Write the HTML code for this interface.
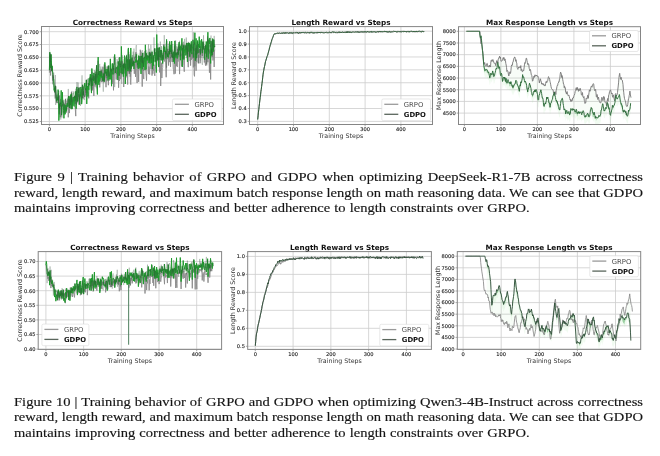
<!DOCTYPE html>
<html><head><meta charset="utf-8"><title>Figures 9 and 10</title>
<style>
html,body{margin:0;padding:0;background:#fff;}
body{width:660px;height:456px;overflow:hidden;position:relative;filter:blur(0.4px);}
svg{position:absolute;left:0;top:0;}
.cl{position:absolute;left:14.4px;font-family:"Liberation Serif",serif;font-size:13.2px;line-height:15px;color:#151515;-webkit-text-stroke:0.15px #111;white-space:nowrap;transform:scaleX(1.103);transform-origin:0 0;}
.j{text-align:justify;text-align-last:justify;white-space:normal;word-spacing:-1.5px;height:15px;}
</style></head><body>
<svg width="660" height="456" viewBox="0 0 660 456" font-family="'DejaVu Sans', sans-serif"><clipPath id="c0"><rect x="41.5" y="26.5" width="182.0" height="98.0"/></clipPath>
<rect x="41.5" y="26.5" width="182.0" height="98.0" fill="#fff"/>
<line x1="41.5" x2="223.5" y1="121.50" y2="121.50" stroke="#cdcdcd" stroke-width="0.8"/>
<line x1="41.5" x2="223.5" y1="108.67" y2="108.67" stroke="#cdcdcd" stroke-width="0.8"/>
<line x1="41.5" x2="223.5" y1="95.84" y2="95.84" stroke="#cdcdcd" stroke-width="0.8"/>
<line x1="41.5" x2="223.5" y1="83.01" y2="83.01" stroke="#cdcdcd" stroke-width="0.8"/>
<line x1="41.5" x2="223.5" y1="70.19" y2="70.19" stroke="#cdcdcd" stroke-width="0.8"/>
<line x1="41.5" x2="223.5" y1="57.36" y2="57.36" stroke="#cdcdcd" stroke-width="0.8"/>
<line x1="41.5" x2="223.5" y1="44.53" y2="44.53" stroke="#cdcdcd" stroke-width="0.8"/>
<line x1="41.5" x2="223.5" y1="31.70" y2="31.70" stroke="#cdcdcd" stroke-width="0.8"/>
<line x1="49.40" x2="49.40" y1="26.5" y2="124.5" stroke="#cdcdcd" stroke-width="0.8"/>
<line x1="85.15" x2="85.15" y1="26.5" y2="124.5" stroke="#cdcdcd" stroke-width="0.8"/>
<line x1="120.90" x2="120.90" y1="26.5" y2="124.5" stroke="#cdcdcd" stroke-width="0.8"/>
<line x1="156.65" x2="156.65" y1="26.5" y2="124.5" stroke="#cdcdcd" stroke-width="0.8"/>
<line x1="192.40" x2="192.40" y1="26.5" y2="124.5" stroke="#cdcdcd" stroke-width="0.8"/>
<g clip-path="url(#c0)"><polygon points="49.40,64.03 49.79,55.56 50.19,49.15 50.58,51.97 50.97,54.79 51.37,57.61 51.76,60.69 52.15,63.99 52.55,67.28 52.94,70.57 53.33,73.86 53.73,77.02 54.12,78.78 54.51,80.54 54.91,82.31 55.30,84.07 55.69,85.84 56.09,87.60 56.48,89.36 56.87,90.39 57.27,91.26 57.66,92.12 58.05,92.99 58.44,93.86 58.84,94.72 59.23,95.59 59.62,96.45 60.02,97.32 60.41,98.18 60.80,99.05 61.20,99.91 61.59,100.78 61.98,101.43 62.38,101.14 62.77,100.85 63.16,100.55 63.56,100.26 63.95,99.97 64.34,99.67 64.74,99.38 65.13,99.09 65.52,98.79 65.92,98.50 66.31,98.21 66.70,97.91 67.10,97.62 67.49,97.32 67.88,97.03 68.28,96.74 68.67,96.44 69.06,96.15 69.46,95.86 69.85,95.56 70.24,95.27 70.64,94.98 71.03,94.67 71.42,94.34 71.82,94.02 72.21,93.70 72.60,93.37 73.00,93.05 73.39,92.72 73.78,92.40 74.17,92.07 74.57,91.75 74.96,91.42 75.35,91.10 75.75,90.77 76.14,90.45 76.53,90.13 76.93,89.80 77.32,89.48 77.71,89.15 78.11,88.83 78.50,88.50 78.89,88.18 79.29,87.85 79.68,87.53 80.07,87.20 80.47,86.88 80.86,86.55 81.25,86.23 81.65,85.91 82.04,85.58 82.43,85.26 82.83,84.93 83.22,84.61 83.61,84.28 84.01,83.96 84.40,83.63 84.79,83.31 85.19,82.97 85.58,82.52 85.97,82.07 86.37,81.62 86.76,81.17 87.15,80.72 87.55,80.26 87.94,79.81 88.33,79.36 88.72,78.91 89.12,78.46 89.51,78.01 89.90,77.55 90.30,77.10 90.69,76.65 91.08,76.20 91.48,75.75 91.87,75.30 92.26,74.85 92.66,74.39 93.05,73.94 93.44,73.49 93.84,73.04 94.23,72.59 94.62,72.14 95.02,71.68 95.41,71.23 95.80,70.78 96.20,70.57 96.59,70.41 96.98,70.24 97.38,70.08 97.77,69.92 98.16,69.76 98.56,69.60 98.95,69.44 99.34,69.28 99.74,69.12 100.13,68.95 100.52,68.79 100.92,68.63 101.31,68.47 101.70,68.31 102.10,68.15 102.49,67.99 102.88,67.83 103.28,67.66 103.67,67.50 104.06,67.34 104.45,67.18 104.85,67.02 105.24,66.86 105.63,66.70 106.03,66.54 106.42,66.37 106.81,66.21 107.21,66.05 107.60,65.89 107.99,65.73 108.39,65.57 108.78,65.40 109.17,65.23 109.57,65.07 109.96,64.90 110.35,64.73 110.75,64.56 111.14,64.40 111.53,64.23 111.93,64.06 112.32,63.89 112.71,63.73 113.11,63.56 113.50,63.39 113.89,63.23 114.29,63.06 114.68,62.89 115.07,62.72 115.47,62.56 115.86,62.39 116.25,62.22 116.65,62.06 117.04,61.89 117.43,61.72 117.83,61.55 118.22,61.38 118.61,61.20 119.01,61.02 119.40,60.84 119.79,60.66 120.19,60.48 120.58,60.30 120.97,60.12 121.36,59.94 121.76,59.76 122.15,59.58 122.54,59.41 122.94,59.23 123.33,59.05 123.72,58.87 124.12,58.69 124.51,58.51 124.90,58.33 125.30,58.15 125.69,57.97 126.08,57.79 126.48,57.61 126.87,57.43 127.26,57.25 127.66,57.07 128.05,56.89 128.44,56.71 128.84,56.53 129.23,56.35 129.62,56.17 130.02,55.99 130.41,55.81 130.80,55.63 131.20,55.45 131.59,55.27 131.98,55.09 132.38,54.92 132.77,54.74 133.16,54.56 133.56,54.38 133.95,54.24 134.34,54.17 134.74,54.09 135.13,54.01 135.52,53.94 135.91,53.86 136.31,53.78 136.70,53.70 137.09,53.63 137.49,53.55 137.88,53.47 138.27,53.40 138.67,53.32 139.06,53.24 139.45,53.17 139.85,53.09 140.24,53.01 140.63,52.93 141.03,52.86 141.42,52.78 141.81,52.70 142.21,52.63 142.60,52.55 142.99,52.47 143.39,52.40 143.78,52.32 144.17,52.24 144.57,52.17 144.96,52.09 145.35,52.01 145.75,51.93 146.14,51.86 146.53,51.78 146.93,51.70 147.32,51.63 147.71,51.55 148.11,51.47 148.50,51.40 148.89,51.32 149.29,51.24 149.68,51.12 150.07,50.95 150.47,50.78 150.86,50.61 151.25,50.45 151.64,50.28 152.04,50.11 152.43,49.94 152.82,49.77 153.22,49.60 153.61,49.43 154.00,49.26 154.40,49.09 154.79,48.92 155.18,48.75 155.58,48.58 155.97,48.41 156.36,48.24 156.76,48.10 157.15,48.03 157.54,47.97 157.94,47.90 158.33,47.83 158.72,47.76 159.12,47.70 159.51,47.63 159.90,47.56 160.30,47.49 160.69,47.42 161.08,47.36 161.48,47.29 161.87,47.22 162.26,47.15 162.66,47.09 163.05,47.02 163.44,46.95 163.84,46.88 164.23,46.82 164.62,46.75 165.02,46.68 165.41,46.61 165.80,46.54 166.20,46.48 166.59,46.41 166.98,46.34 167.38,46.27 167.77,46.21 168.16,46.14 168.55,46.07 168.95,46.00 169.34,45.93 169.73,45.87 170.13,45.80 170.52,45.73 170.91,45.66 171.31,45.60 171.70,45.53 172.09,45.46 172.49,45.39 172.88,45.32 173.27,45.26 173.67,45.19 174.06,45.12 174.45,45.05 174.85,45.00 175.24,44.94 175.63,44.88 176.03,44.83 176.42,44.77 176.81,44.71 177.21,44.66 177.60,44.60 177.99,44.54 178.39,44.49 178.78,44.43 179.17,44.37 179.57,44.32 179.96,44.26 180.35,44.21 180.75,44.15 181.14,44.09 181.53,44.04 181.93,43.98 182.32,43.92 182.71,43.87 183.11,43.81 183.50,43.75 183.89,43.70 184.28,43.64 184.68,43.58 185.07,43.53 185.46,43.47 185.86,43.42 186.25,43.36 186.64,43.30 187.04,43.25 187.43,43.19 187.82,43.13 188.22,43.08 188.61,43.02 189.00,42.96 189.40,42.91 189.79,42.85 190.18,42.79 190.58,42.74 190.97,42.68 191.36,42.62 191.76,42.57 192.15,42.51 192.54,42.46 192.94,42.42 193.33,42.37 193.72,42.33 194.12,42.28 194.51,42.24 194.90,42.20 195.30,42.15 195.69,42.11 196.08,42.06 196.48,42.02 196.87,41.97 197.26,41.93 197.66,41.89 198.05,41.84 198.44,41.80 198.84,41.75 199.23,41.71 199.62,41.67 200.01,41.62 200.41,41.58 200.80,41.53 201.19,41.49 201.59,41.45 201.98,41.40 202.37,41.36 202.77,41.31 203.16,41.27 203.55,41.23 203.95,41.18 204.34,41.14 204.73,41.09 205.13,41.05 205.52,41.00 205.91,40.96 206.31,40.92 206.70,40.87 207.09,40.83 207.49,40.78 207.88,40.74 208.27,40.70 208.67,40.65 209.06,40.61 209.45,40.56 209.85,40.52 210.24,40.48 210.63,40.43 211.03,40.39 211.42,40.34 211.81,40.30 212.21,40.26 212.60,40.21 212.99,40.17 213.39,40.12 213.78,40.08 214.17,40.03 214.57,39.99 214.96,39.95 214.96,52.26 214.57,52.31 214.17,52.35 213.78,52.39 213.39,52.44 212.99,52.48 212.60,52.53 212.21,52.57 211.81,52.61 211.42,52.66 211.03,52.70 210.63,52.75 210.24,52.79 209.85,52.84 209.45,52.88 209.06,52.92 208.67,52.97 208.27,53.01 207.88,53.06 207.49,53.10 207.09,53.14 206.70,53.19 206.31,53.23 205.91,53.28 205.52,53.32 205.13,53.36 204.73,53.41 204.34,53.45 203.95,53.50 203.55,53.54 203.16,53.58 202.77,53.63 202.37,53.67 201.98,53.72 201.59,53.76 201.19,53.81 200.80,53.85 200.41,53.89 200.01,53.94 199.62,53.98 199.23,54.03 198.84,54.07 198.44,54.11 198.05,54.16 197.66,54.20 197.26,54.25 196.87,54.29 196.48,54.33 196.08,54.38 195.69,54.42 195.30,54.47 194.90,54.51 194.51,54.55 194.12,54.60 193.72,54.64 193.33,54.69 192.94,54.73 192.54,54.78 192.15,54.83 191.76,54.88 191.36,54.94 190.97,55.00 190.58,55.05 190.18,55.11 189.79,55.17 189.40,55.22 189.00,55.28 188.61,55.34 188.22,55.39 187.82,55.45 187.43,55.50 187.04,55.56 186.64,55.62 186.25,55.67 185.86,55.73 185.46,55.79 185.07,55.84 184.68,55.90 184.28,55.96 183.89,56.01 183.50,56.07 183.11,56.13 182.71,56.18 182.32,56.24 181.93,56.29 181.53,56.35 181.14,56.41 180.75,56.46 180.35,56.52 179.96,56.58 179.57,56.63 179.17,56.69 178.78,56.75 178.39,56.80 177.99,56.86 177.60,56.92 177.21,56.97 176.81,57.03 176.42,57.09 176.03,57.14 175.63,57.20 175.24,57.25 174.85,57.31 174.45,57.37 174.06,57.44 173.67,57.50 173.27,57.57 172.88,57.64 172.49,57.71 172.09,57.78 171.70,57.84 171.31,57.91 170.91,57.98 170.52,58.05 170.13,58.11 169.73,58.18 169.34,58.25 168.95,58.32 168.55,58.39 168.16,58.45 167.77,58.52 167.38,58.59 166.98,58.66 166.59,58.72 166.20,58.79 165.80,58.86 165.41,58.93 165.02,59.00 164.62,59.06 164.23,59.13 163.84,59.20 163.44,59.27 163.05,59.33 162.66,59.40 162.26,59.47 161.87,59.54 161.48,59.60 161.08,59.67 160.69,59.74 160.30,59.81 159.90,59.88 159.51,59.94 159.12,60.01 158.72,60.08 158.33,60.15 157.94,60.21 157.54,60.28 157.15,60.35 156.76,60.42 156.36,60.56 155.97,60.73 155.58,60.90 155.18,61.07 154.79,61.24 154.40,61.41 154.00,61.58 153.61,61.74 153.22,61.91 152.82,62.08 152.43,62.25 152.04,62.42 151.64,62.59 151.25,62.76 150.86,62.93 150.47,63.10 150.07,63.27 149.68,63.44 149.29,63.56 148.89,63.63 148.50,63.71 148.11,63.79 147.71,63.86 147.32,63.94 146.93,64.02 146.53,64.10 146.14,64.17 145.75,64.25 145.35,64.33 144.96,64.40 144.57,64.48 144.17,64.56 143.78,64.63 143.39,64.71 142.99,64.79 142.60,64.87 142.21,64.94 141.81,65.02 141.42,65.10 141.03,65.17 140.63,65.25 140.24,65.33 139.85,65.40 139.45,65.48 139.06,65.56 138.67,65.64 138.27,65.71 137.88,65.79 137.49,65.87 137.09,65.94 136.70,66.02 136.31,66.10 135.91,66.17 135.52,66.25 135.13,66.33 134.74,66.40 134.34,66.48 133.95,66.56 133.56,66.69 133.16,66.87 132.77,67.05 132.38,67.23 131.98,67.41 131.59,67.59 131.20,67.77 130.80,67.95 130.41,68.13 130.02,68.31 129.62,68.49 129.23,68.67 128.84,68.85 128.44,69.03 128.05,69.21 127.66,69.39 127.26,69.57 126.87,69.74 126.48,69.92 126.08,70.10 125.69,70.28 125.30,70.46 124.90,70.64 124.51,70.82 124.12,71.00 123.72,71.18 123.33,71.36 122.94,71.54 122.54,71.72 122.15,71.90 121.76,72.08 121.36,72.26 120.97,72.44 120.58,72.62 120.19,72.80 119.79,72.98 119.40,73.16 119.01,73.34 118.61,73.52 118.22,73.70 117.83,73.87 117.43,74.04 117.04,74.20 116.65,74.37 116.25,74.54 115.86,74.71 115.47,74.87 115.07,75.04 114.68,75.21 114.29,75.37 113.89,75.54 113.50,75.71 113.11,75.88 112.71,76.04 112.32,76.21 111.93,76.38 111.53,76.54 111.14,76.71 110.75,76.88 110.35,77.05 109.96,77.21 109.57,77.38 109.17,77.55 108.78,77.72 108.39,77.88 107.99,78.04 107.60,78.21 107.21,78.37 106.81,78.53 106.42,78.69 106.03,78.85 105.63,79.01 105.24,79.17 104.85,79.33 104.45,79.50 104.06,79.66 103.67,79.82 103.28,79.98 102.88,80.14 102.49,80.30 102.10,80.46 101.70,80.62 101.31,80.79 100.92,80.95 100.52,81.11 100.13,81.27 99.74,81.43 99.34,81.59 98.95,81.75 98.56,81.91 98.16,82.08 97.77,82.24 97.38,82.40 96.98,82.56 96.59,82.72 96.20,82.88 95.80,83.10 95.41,83.55 95.02,84.00 94.62,84.45 94.23,84.90 93.84,85.35 93.44,85.81 93.05,86.26 92.66,86.71 92.26,87.16 91.87,87.61 91.48,88.06 91.08,88.52 90.69,88.97 90.30,89.42 89.90,89.87 89.51,90.32 89.12,90.77 88.72,91.22 88.33,91.68 87.94,92.13 87.55,92.58 87.15,93.03 86.76,93.48 86.37,93.93 85.97,94.39 85.58,94.84 85.19,95.29 84.79,95.62 84.40,95.95 84.01,96.27 83.61,96.60 83.22,96.92 82.83,97.25 82.43,97.57 82.04,97.90 81.65,98.22 81.25,98.55 80.86,98.87 80.47,99.19 80.07,99.52 79.68,99.84 79.29,100.17 78.89,100.49 78.50,100.82 78.11,101.14 77.71,101.47 77.32,101.79 76.93,102.12 76.53,102.44 76.14,102.77 75.75,103.09 75.35,103.41 74.96,103.74 74.57,104.06 74.17,104.39 73.78,104.71 73.39,105.04 73.00,105.36 72.60,105.69 72.21,106.01 71.82,106.34 71.42,106.66 71.03,106.98 70.64,107.29 70.24,107.59 69.85,107.88 69.46,108.17 69.06,108.47 68.67,108.76 68.28,109.05 67.88,109.35 67.49,109.64 67.10,109.93 66.70,110.23 66.31,110.52 65.92,110.81 65.52,111.11 65.13,111.40 64.74,111.69 64.34,111.99 63.95,112.28 63.56,112.58 63.16,112.87 62.77,113.16 62.38,113.46 61.98,113.75 61.59,113.09 61.20,112.23 60.80,111.36 60.41,110.50 60.02,109.63 59.62,108.77 59.23,107.90 58.84,107.04 58.44,106.17 58.05,105.31 57.66,104.44 57.27,103.57 56.87,102.71 56.48,101.68 56.09,99.92 55.69,98.15 55.30,96.39 54.91,94.62 54.51,92.86 54.12,91.10 53.73,89.33 53.33,86.18 52.94,82.89 52.55,79.59 52.15,76.30 51.76,73.01 51.37,69.93 50.97,67.11 50.58,64.28 50.19,61.46 49.79,67.88 49.40,76.34" fill="#9be59b" fill-opacity="0.3" stroke="none"/><polyline points="49.40,72.75 49.79,54.79 50.19,65.05 50.58,75.47 50.97,54.82 51.37,59.89 51.76,69.21 52.15,67.54 52.55,72.53 52.94,80.75 53.33,76.73 53.73,85.48 54.12,87.39 54.51,92.49 54.91,87.00 55.30,91.06 55.69,90.22 56.09,98.27 56.48,95.22 56.87,103.15 57.27,94.63 57.66,97.78 58.05,98.16 58.44,98.75 58.84,108.42 59.23,99.18 59.62,95.57 60.02,115.66 60.41,117.21 60.80,116.46 61.20,103.32 61.59,106.71 61.98,104.01 62.38,104.98 62.77,106.51 63.16,105.96 63.56,107.94 63.95,103.31 64.34,114.49 64.74,108.96 65.13,104.68 65.52,98.80 65.92,110.67 66.31,112.74 66.70,108.61 67.10,100.63 67.49,105.59 67.88,98.76 68.28,117.31 68.67,98.89 69.06,98.94 69.46,113.08 69.85,101.56 70.24,97.41 70.64,101.22 71.03,97.60 71.42,92.26 71.82,99.61 72.21,102.42 72.60,105.84 73.00,97.28 73.39,100.84 73.78,100.39 74.17,99.51 74.57,95.99 74.96,106.24 75.35,109.49 75.75,116.13 76.14,92.68 76.53,96.53 76.93,90.88 77.32,96.24 77.71,101.58 78.11,93.75 78.50,95.81 78.89,104.62 79.29,101.45 79.68,87.66 80.07,92.62 80.47,92.07 80.86,95.47 81.25,98.38 81.65,89.33 82.04,93.18 82.43,97.99 82.83,92.78 83.22,98.52 83.61,90.38 84.01,86.50 84.40,97.05 84.79,84.72 85.19,95.09 85.58,88.79 85.97,95.55 86.37,90.25 86.76,87.86 87.15,91.05 87.55,92.74 87.94,92.10 88.33,92.81 88.72,98.35 89.12,87.48 89.51,83.39 89.90,80.98 90.30,81.55 90.69,74.10 91.08,81.92 91.48,86.38 91.87,75.01 92.26,90.27 92.66,77.62 93.05,88.65 93.44,79.11 93.84,95.99 94.23,76.09 94.62,80.44 95.02,86.58 95.41,71.70 95.80,74.83 96.20,77.44 96.59,83.55 96.98,77.67 97.38,78.50 97.77,74.15 98.16,73.70 98.56,82.18 98.95,81.06 99.34,80.77 99.74,87.35 100.13,80.96 100.52,76.69 100.92,73.03 101.31,70.36 101.70,82.16 102.10,73.11 102.49,78.85 102.88,66.70 103.28,75.27 103.67,72.72 104.06,82.45 104.45,81.28 104.85,73.53 105.24,77.46 105.63,72.64 106.03,87.21 106.42,71.11 106.81,81.37 107.21,66.47 107.60,75.91 107.99,68.76 108.39,85.20 108.78,71.25 109.17,80.60 109.57,76.99 109.96,72.52 110.35,75.26 110.75,71.24 111.14,69.05 111.53,69.31 111.93,72.72 112.32,83.88 112.71,78.81 113.11,73.28 113.50,90.33 113.89,68.02 114.29,73.27 114.68,73.25 115.07,66.74 115.47,67.81 115.86,69.61 116.25,79.54 116.65,68.94 117.04,68.65 117.43,78.13 117.83,65.29 118.22,67.51 118.61,87.76 119.01,68.91 119.40,81.02 119.79,64.08 120.19,65.39 120.58,79.16 120.97,76.99 121.36,68.10 121.76,70.66 122.15,61.34 122.54,64.75 122.94,70.64 123.33,65.18 123.72,87.01 124.12,66.10 124.51,63.38 124.90,68.94 125.30,73.90 125.69,64.30 126.08,57.67 126.48,65.67 126.87,77.35 127.26,59.56 127.66,84.49 128.05,63.67 128.44,71.58 128.84,61.34 129.23,73.94 129.62,59.15 130.02,63.86 130.41,82.25 130.80,84.59 131.20,67.99 131.59,58.48 131.98,63.93 132.38,64.07 132.77,66.62 133.16,60.52 133.56,62.12 133.95,62.48 134.34,73.78 134.74,57.95 135.13,57.03 135.52,76.94 135.91,52.29 136.31,60.01 136.70,68.54 137.09,83.08 137.49,60.17 137.88,60.61 138.27,69.51 138.67,81.89 139.06,57.62 139.45,69.32 139.85,68.06 140.24,49.76 140.63,52.41 141.03,58.24 141.42,67.71 141.81,59.67 142.21,86.63 142.60,62.28 142.99,70.66 143.39,76.06 143.78,79.09 144.17,59.90 144.57,62.01 144.96,61.59 145.35,58.09 145.75,71.07 146.14,75.06 146.53,80.64 146.93,65.53 147.32,58.14 147.71,63.45 148.11,58.59 148.50,74.08 148.89,66.57 149.29,69.60 149.68,74.53 150.07,51.97 150.47,56.87 150.86,68.96 151.25,68.84 151.64,61.27 152.04,75.59 152.43,58.15 152.82,73.73 153.22,63.89 153.61,70.58 154.00,64.71 154.40,73.47 154.79,75.84 155.18,69.32 155.58,66.16 155.97,61.96 156.36,58.36 156.76,50.86 157.15,54.40 157.54,61.10 157.94,54.71 158.33,65.55 158.72,50.93 159.12,55.42 159.51,72.37 159.90,54.25 160.30,53.88 160.69,85.97 161.08,65.75 161.48,62.80 161.87,78.04 162.26,68.92 162.66,67.61 163.05,55.00 163.44,55.99 163.84,44.14 164.23,61.54 164.62,51.48 165.02,56.86 165.41,55.82 165.80,69.36 166.20,77.22 166.59,65.10 166.98,53.08 167.38,48.85 167.77,53.76 168.16,54.23 168.55,65.55 168.95,48.84 169.34,49.75 169.73,62.12 170.13,56.94 170.52,66.91 170.91,48.86 171.31,54.20 171.70,57.21 172.09,54.07 172.49,53.84 172.88,60.37 173.27,69.09 173.67,69.48 174.06,74.23 174.45,53.42 174.85,44.41 175.24,73.66 175.63,54.91 176.03,53.47 176.42,65.94 176.81,54.42 177.21,67.04 177.60,49.23 177.99,61.61 178.39,54.74 178.78,51.71 179.17,59.72 179.57,74.11 179.96,60.69 180.35,51.10 180.75,55.85 181.14,53.73 181.53,66.33 181.93,54.07 182.32,51.02 182.71,54.51 183.11,44.88 183.50,56.81 183.89,65.62 184.28,71.70 184.68,48.54 185.07,55.02 185.46,49.16 185.86,51.94 186.25,45.91 186.64,47.70 187.04,58.16 187.43,52.68 187.82,48.47 188.22,67.16 188.61,46.49 189.00,47.66 189.40,48.78 189.79,55.92 190.18,52.18 190.58,65.60 190.97,53.33 191.36,59.85 191.76,53.08 192.15,58.76 192.54,51.97 192.94,47.32 193.33,67.35 193.72,48.55 194.12,74.57 194.51,76.35 194.90,54.47 195.30,53.12 195.69,50.84 196.08,70.71 196.48,53.69 196.87,52.35 197.26,46.49 197.66,54.04 198.05,50.16 198.44,63.32 198.84,54.82 199.23,57.55 199.62,49.10 200.01,63.30 200.41,61.61 200.80,49.64 201.19,43.34 201.59,50.56 201.98,50.93 202.37,56.18 202.77,46.80 203.16,49.60 203.55,43.38 203.95,50.60 204.34,62.47 204.73,58.36 205.13,62.81 205.52,65.61 205.91,45.57 206.31,47.90 206.70,65.37 207.09,42.77 207.49,50.70 207.88,62.23 208.27,49.88 208.67,52.59 209.06,60.13 209.45,72.71 209.85,51.54 210.24,50.18 210.63,79.46 211.03,48.74 211.42,48.37 211.81,56.61 212.21,50.92 212.60,54.49 212.99,60.46 213.39,55.27 213.78,44.32 214.17,66.98 214.57,50.04 214.96,50.27" fill="none" stroke="#8a8a8a" stroke-width="0.9" stroke-opacity="1.0" stroke-linejoin="round" /><polyline points="49.40,70.19 49.79,52.23 50.19,62.49 50.58,67.76 50.97,54.26 51.37,60.47 51.76,70.82 52.15,65.85 52.55,70.74 52.94,74.55 53.33,79.81 53.73,79.13 54.12,90.38 54.51,87.91 54.91,92.03 55.30,85.81 55.69,91.70 56.09,95.92 56.48,101.30 56.87,98.45 57.27,97.36 57.66,100.32 58.05,89.59 58.44,92.57 58.84,120.58 59.23,115.70 59.62,103.90 60.02,106.59 60.41,102.76 60.80,103.60 61.20,90.42 61.59,115.15 61.98,110.38 62.38,92.20 62.77,102.23 63.16,101.81 63.56,110.22 63.95,118.30 64.34,104.59 64.74,104.73 65.13,114.31 65.52,110.00 65.92,105.19 66.31,111.34 66.70,104.80 67.10,103.07 67.49,103.22 67.88,106.93 68.28,98.51 68.67,96.02 69.06,99.94 69.46,108.06 69.85,96.32 70.24,105.13 70.64,94.64 71.03,108.75 71.42,93.74 71.82,100.33 72.21,109.08 72.60,101.85 73.00,98.80 73.39,96.86 73.78,105.81 74.17,106.41 74.57,96.43 74.96,101.03 75.35,95.52 75.75,91.32 76.14,108.79 76.53,94.40 76.93,86.91 77.32,97.83 77.71,101.30 78.11,89.43 78.50,92.79 78.89,87.72 79.29,96.56 79.68,104.64 80.07,94.17 80.47,96.33 80.86,86.98 81.25,90.96 81.65,104.11 82.04,100.57 82.43,84.88 82.83,86.07 83.22,95.50 83.61,90.45 84.01,86.82 84.40,86.33 84.79,82.99 85.19,87.24 85.58,89.38 85.97,90.14 86.37,79.98 86.76,103.96 87.15,87.90 87.55,86.18 87.94,96.50 88.33,83.06 88.72,89.88 89.12,78.24 89.51,85.09 89.90,78.77 90.30,74.25 90.69,79.98 91.08,88.83 91.48,93.10 91.87,68.50 92.26,81.83 92.66,85.64 93.05,79.03 93.44,81.06 93.84,72.90 94.23,78.49 94.62,78.19 95.02,83.12 95.41,73.92 95.80,84.58 96.20,71.80 96.59,65.30 96.98,87.67 97.38,94.46 97.77,71.52 98.16,57.09 98.56,83.15 98.95,84.84 99.34,71.08 99.74,81.49 100.13,78.85 100.52,77.52 100.92,70.86 101.31,77.62 101.70,72.41 102.10,75.61 102.49,80.39 102.88,76.35 103.28,80.84 103.67,73.61 104.06,81.80 104.45,81.41 104.85,62.41 105.24,73.41 105.63,73.25 106.03,68.91 106.42,75.64 106.81,74.06 107.21,69.07 107.60,69.96 107.99,80.45 108.39,65.57 108.78,75.92 109.17,79.19 109.57,77.88 109.96,73.94 110.35,58.86 110.75,79.41 111.14,69.37 111.53,86.18 111.93,70.23 112.32,63.41 112.71,71.63 113.11,74.37 113.50,67.84 113.89,64.21 114.29,64.31 114.68,54.47 115.07,67.34 115.47,73.09 115.86,69.48 116.25,68.92 116.65,67.41 117.04,68.27 117.43,66.59 117.83,80.06 118.22,61.41 118.61,71.61 119.01,75.85 119.40,62.29 119.79,57.09 120.19,63.00 120.58,65.27 120.97,73.17 121.36,46.40 121.76,59.42 122.15,74.16 122.54,71.32 122.94,64.74 123.33,76.69 123.72,63.78 124.12,68.24 124.51,55.60 124.90,57.38 125.30,84.01 125.69,63.82 126.08,75.90 126.48,55.57 126.87,62.34 127.26,59.36 127.66,71.10 128.05,49.54 128.44,47.94 128.84,70.56 129.23,59.75 129.62,67.31 130.02,62.32 130.41,71.32 130.80,47.99 131.20,68.77 131.59,63.62 131.98,57.55 132.38,65.86 132.77,62.66 133.16,64.88 133.56,61.52 133.95,69.05 134.34,63.56 134.74,61.78 135.13,62.64 135.52,59.67 135.91,62.18 136.31,54.37 136.70,62.25 137.09,60.79 137.49,64.62 137.88,63.52 138.27,68.90 138.67,55.64 139.06,67.84 139.45,64.83 139.85,56.59 140.24,56.19 140.63,62.05 141.03,73.94 141.42,55.83 141.81,56.94 142.21,69.22 142.60,53.02 142.99,63.81 143.39,66.88 143.78,57.77 144.17,59.72 144.57,56.83 144.96,70.11 145.35,44.78 145.75,62.55 146.14,69.39 146.53,53.37 146.93,60.48 147.32,55.38 147.71,60.22 148.11,58.07 148.50,55.74 148.89,62.99 149.29,52.38 149.68,60.75 150.07,63.54 150.47,56.37 150.86,53.48 151.25,58.30 151.64,62.81 152.04,51.68 152.43,69.10 152.82,63.54 153.22,55.46 153.61,65.64 154.00,55.21 154.40,55.65 154.79,48.44 155.18,61.67 155.58,59.37 155.97,52.11 156.36,72.56 156.76,34.56 157.15,59.35 157.54,59.52 157.94,47.69 158.33,54.28 158.72,67.07 159.12,49.22 159.51,47.47 159.90,57.04 160.30,55.73 160.69,49.99 161.08,60.23 161.48,50.21 161.87,51.91 162.26,58.30 162.66,63.53 163.05,54.84 163.44,59.58 163.84,45.64 164.23,51.91 164.62,47.13 165.02,51.84 165.41,50.83 165.80,58.49 166.20,47.70 166.59,39.38 166.98,54.79 167.38,56.81 167.77,53.53 168.16,55.85 168.55,57.41 168.95,51.14 169.34,54.24 169.73,41.39 170.13,51.96 170.52,49.50 170.91,44.79 171.31,53.98 171.70,41.07 172.09,56.29 172.49,57.52 172.88,54.19 173.27,52.26 173.67,61.70 174.06,51.54 174.45,63.53 174.85,40.87 175.24,51.70 175.63,55.78 176.03,57.70 176.42,53.77 176.81,52.52 177.21,58.53 177.60,57.55 177.99,52.08 178.39,54.49 178.78,43.65 179.17,42.12 179.57,50.36 179.96,46.92 180.35,60.23 180.75,45.60 181.14,50.48 181.53,46.61 181.93,38.31 182.32,66.93 182.71,48.10 183.11,58.09 183.50,45.54 183.89,59.56 184.28,53.46 184.68,48.24 185.07,45.15 185.46,49.08 185.86,55.43 186.25,53.61 186.64,42.92 187.04,49.44 187.43,61.79 187.82,43.06 188.22,46.16 188.61,42.72 189.00,51.61 189.40,42.95 189.79,56.85 190.18,44.74 190.58,52.52 190.97,43.86 191.36,41.35 191.76,54.16 192.15,49.05 192.54,48.33 192.94,39.78 193.33,43.28 193.72,57.49 194.12,45.06 194.51,42.89 194.90,32.66 195.30,60.72 195.69,52.23 196.08,38.37 196.48,58.19 196.87,57.00 197.26,44.27 197.66,40.52 198.05,52.94 198.44,43.97 198.84,47.05 199.23,36.65 199.62,47.84 200.01,40.46 200.41,54.41 200.80,49.06 201.19,48.36 201.59,39.19 201.98,43.28 202.37,53.07 202.77,42.43 203.16,41.73 203.55,48.21 203.95,49.24 204.34,48.73 204.73,59.78 205.13,45.81 205.52,45.43 205.91,53.51 206.31,41.59 206.70,57.18 207.09,51.06 207.49,50.45 207.88,32.21 208.27,58.67 208.67,42.65 209.06,39.80 209.45,43.93 209.85,37.94 210.24,54.04 210.63,63.44 211.03,40.88 211.42,55.34 211.81,48.87 212.21,55.12 212.60,38.59 212.99,39.93 213.39,51.60 213.78,39.56 214.17,45.30 214.57,47.18 214.96,45.68" fill="none" stroke="#1f9a2d" stroke-width="1.0" stroke-opacity="1.0" stroke-linejoin="round" /><polyline points="49.40,70.19 49.79,52.23 50.19,62.49 50.58,53.66 50.97,72.07 51.37,63.81 51.76,71.07 52.15,69.14 52.55,84.33 52.94,75.09 53.33,78.43 53.73,72.50 54.12,82.79 54.51,83.24 54.91,98.58 55.30,74.97 55.69,104.97 56.09,86.30 56.48,97.76 56.87,102.52 57.27,101.86 57.66,102.83 58.05,96.57 58.44,100.76 58.84,90.84 59.23,114.14 59.62,102.63 60.02,109.52 60.41,99.09 60.80,119.55 61.20,108.40 61.59,105.51 61.98,117.65 62.38,100.62 62.77,105.79 63.16,99.89 63.56,99.92 63.95,112.76 64.34,111.23 64.74,106.91 65.13,100.18 65.52,99.19 65.92,109.46 66.31,108.48 66.70,109.47 67.10,107.73 67.49,105.09 67.88,104.08 68.28,88.95 68.67,106.03 69.06,104.26 69.46,98.91 69.85,108.18 70.24,103.92 70.64,101.04 71.03,95.58 71.42,109.42 71.82,90.89 72.21,102.24 72.60,98.38 73.00,93.47 73.39,94.40 73.78,91.38 74.17,97.06 74.57,98.04 74.96,95.44 75.35,104.00 75.75,88.71 76.14,101.86 76.53,104.82 76.93,82.03 77.32,96.56 77.71,103.30 78.11,82.44 78.50,96.89 78.89,87.14 79.29,99.63 79.68,95.37 80.07,104.80 80.47,105.97 80.86,99.33 81.25,92.92 81.65,86.66 82.04,75.31 82.43,98.40 82.83,84.26 83.22,94.86 83.61,91.47 84.01,100.15 84.40,99.81 84.79,94.74 85.19,97.21 85.58,88.70 85.97,92.99 86.37,79.30 86.76,86.29 87.15,85.75 87.55,78.72 87.94,82.46 88.33,85.77 88.72,85.68 89.12,85.43 89.51,76.87 89.90,78.41 90.30,80.78 90.69,77.40 91.08,86.05 91.48,78.44 91.87,91.02 92.26,71.88 92.66,79.94 93.05,78.86 93.44,75.59 93.84,79.26 94.23,80.47 94.62,70.23 95.02,77.06 95.41,83.59 95.80,73.96 96.20,88.27 96.59,65.35 96.98,77.56 97.38,75.93 97.77,60.79 98.16,61.34 98.56,74.97 98.95,71.36 99.34,68.05 99.74,63.88 100.13,76.00 100.52,74.03 100.92,66.49 101.31,72.80 101.70,69.36 102.10,70.17 102.49,81.83 102.88,79.80 103.28,91.71 103.67,75.42 104.06,64.43 104.45,80.85 104.85,64.82 105.24,66.24 105.63,73.23 106.03,72.74 106.42,71.97 106.81,78.20 107.21,74.12 107.60,72.36 107.99,67.74 108.39,66.36 108.78,76.59 109.17,65.80 109.57,76.49 109.96,72.20 110.35,68.39 110.75,70.88 111.14,71.41 111.53,68.56 111.93,73.96 112.32,74.47 112.71,71.27 113.11,63.21 113.50,70.24 113.89,56.48 114.29,67.77 114.68,87.11 115.07,71.86 115.47,57.44 115.86,68.50 116.25,71.35 116.65,74.13 117.04,59.08 117.43,61.09 117.83,63.16 118.22,64.64 118.61,57.60 119.01,61.62 119.40,75.33 119.79,61.61 120.19,65.49 120.58,67.21 120.97,61.11 121.36,65.91 121.76,83.98 122.15,55.19 122.54,58.53 122.94,66.21 123.33,67.73 123.72,63.49 124.12,73.54 124.51,62.59 124.90,66.04 125.30,66.70 125.69,70.38 126.08,68.54 126.48,56.27 126.87,54.54 127.26,60.00 127.66,63.54 128.05,68.99 128.44,58.01 128.84,51.78 129.23,73.45 129.62,54.38 130.02,76.82 130.41,64.27 130.80,59.19 131.20,70.86 131.59,71.71 131.98,59.99 132.38,55.13 132.77,64.11 133.16,51.61 133.56,65.82 133.95,48.52 134.34,59.51 134.74,58.65 135.13,56.00 135.52,57.92 135.91,47.51 136.31,44.99 136.70,56.16 137.09,60.91 137.49,67.67 137.88,64.74 138.27,59.49 138.67,60.16 139.06,59.70 139.45,59.29 139.85,55.89 140.24,68.32 140.63,66.04 141.03,51.42 141.42,53.26 141.81,62.49 142.21,50.01 142.60,63.29 142.99,60.34 143.39,70.92 143.78,52.74 144.17,58.46 144.57,51.08 144.96,53.44 145.35,57.50 145.75,56.97 146.14,49.87 146.53,58.99 146.93,58.82 147.32,57.24 147.71,52.16 148.11,51.28 148.50,44.45 148.89,57.88 149.29,48.67 149.68,61.52 150.07,52.81 150.47,55.86 150.86,44.77 151.25,52.21 151.64,59.19 152.04,52.06 152.43,53.45 152.82,57.77 153.22,57.44 153.61,61.67 154.00,37.35 154.40,54.01 154.79,48.15 155.18,62.48 155.58,61.76 155.97,55.27 156.36,55.07 156.76,48.49 157.15,60.65 157.54,50.13 157.94,43.45 158.33,59.84 158.72,47.42 159.12,60.02 159.51,51.10 159.90,50.91 160.30,41.54 160.69,57.92 161.08,52.03 161.48,46.03 161.87,60.97 162.26,53.03 162.66,58.79 163.05,57.59 163.44,48.15 163.84,47.95 164.23,35.17 164.62,43.24 165.02,43.77 165.41,53.56 165.80,54.40 166.20,51.37 166.59,67.65 166.98,40.95 167.38,56.66 167.77,59.24 168.16,55.10 168.55,46.02 168.95,43.47 169.34,54.38 169.73,48.82 170.13,52.10 170.52,58.41 170.91,50.45 171.31,51.35 171.70,61.89 172.09,43.97 172.49,62.00 172.88,49.71 173.27,58.35 173.67,56.69 174.06,55.87 174.45,46.27 174.85,59.49 175.24,52.23 175.63,40.38 176.03,55.55 176.42,51.00 176.81,46.24 177.21,54.63 177.60,47.41 177.99,55.06 178.39,45.79 178.78,50.05 179.17,56.76 179.57,40.82 179.96,50.95 180.35,52.15 180.75,56.46 181.14,53.33 181.53,50.74 181.93,48.87 182.32,42.54 182.71,58.85 183.11,52.24 183.50,41.71 183.89,48.53 184.28,46.94 184.68,38.86 185.07,47.31 185.46,46.38 185.86,49.76 186.25,37.46 186.64,42.26 187.04,54.21 187.43,45.55 187.82,56.99 188.22,41.79 188.61,44.56 189.00,50.14 189.40,51.73 189.79,61.11 190.18,43.73 190.58,49.64 190.97,50.91 191.36,43.85 191.76,53.20 192.15,52.62 192.54,53.30 192.94,57.73 193.33,32.20 193.72,49.80 194.12,50.82 194.51,42.30 194.90,66.42 195.30,48.53 195.69,48.20 196.08,54.83 196.48,45.11 196.87,61.92 197.26,48.15 197.66,42.21 198.05,63.27 198.44,58.06 198.84,49.35 199.23,48.45 199.62,52.76 200.01,45.97 200.41,46.80 200.80,57.60 201.19,49.17 201.59,57.15 201.98,62.58 202.37,64.86 202.77,41.56 203.16,49.38 203.55,35.24 203.95,58.39 204.34,50.85 204.73,46.12 205.13,49.35 205.52,44.93 205.91,47.29 206.31,52.38 206.70,63.95 207.09,54.54 207.49,36.38 207.88,42.78 208.27,38.57 208.67,51.80 209.06,49.06 209.45,53.63 209.85,44.97 210.24,47.13 210.63,44.42 211.03,35.49 211.42,53.03 211.81,42.31 212.21,56.76 212.60,39.73 212.99,50.15 213.39,47.60 213.78,46.14 214.17,35.86 214.57,47.19 214.96,50.30" fill="none" stroke="#2f4a37" stroke-width="0.7" stroke-opacity="0.35" stroke-linejoin="round" /></g>
<rect x="41.5" y="26.5" width="182.0" height="98.0" fill="none" stroke="#858585" stroke-width="1"/>
<line x1="39.7" x2="41.5" y1="121.50" y2="121.50" stroke="#858585" stroke-width="0.7"/>
<text x="38.7" y="123.30" font-size="5.1" text-anchor="end" fill="#222" stroke="#222" stroke-width="0.12">0.525</text>
<line x1="39.7" x2="41.5" y1="108.67" y2="108.67" stroke="#858585" stroke-width="0.7"/>
<text x="38.7" y="110.47" font-size="5.1" text-anchor="end" fill="#222" stroke="#222" stroke-width="0.12">0.550</text>
<line x1="39.7" x2="41.5" y1="95.84" y2="95.84" stroke="#858585" stroke-width="0.7"/>
<text x="38.7" y="97.64" font-size="5.1" text-anchor="end" fill="#222" stroke="#222" stroke-width="0.12">0.575</text>
<line x1="39.7" x2="41.5" y1="83.01" y2="83.01" stroke="#858585" stroke-width="0.7"/>
<text x="38.7" y="84.81" font-size="5.1" text-anchor="end" fill="#222" stroke="#222" stroke-width="0.12">0.600</text>
<line x1="39.7" x2="41.5" y1="70.19" y2="70.19" stroke="#858585" stroke-width="0.7"/>
<text x="38.7" y="71.99" font-size="5.1" text-anchor="end" fill="#222" stroke="#222" stroke-width="0.12">0.625</text>
<line x1="39.7" x2="41.5" y1="57.36" y2="57.36" stroke="#858585" stroke-width="0.7"/>
<text x="38.7" y="59.16" font-size="5.1" text-anchor="end" fill="#222" stroke="#222" stroke-width="0.12">0.650</text>
<line x1="39.7" x2="41.5" y1="44.53" y2="44.53" stroke="#858585" stroke-width="0.7"/>
<text x="38.7" y="46.33" font-size="5.1" text-anchor="end" fill="#222" stroke="#222" stroke-width="0.12">0.675</text>
<line x1="39.7" x2="41.5" y1="31.70" y2="31.70" stroke="#858585" stroke-width="0.7"/>
<text x="38.7" y="33.50" font-size="5.1" text-anchor="end" fill="#222" stroke="#222" stroke-width="0.12">0.700</text>
<line x1="49.40" x2="49.40" y1="124.5" y2="126.3" stroke="#858585" stroke-width="0.7"/>
<text x="49.40" y="131.00" font-size="5.1" text-anchor="middle" fill="#222" stroke="#222" stroke-width="0.12">0</text>
<line x1="85.15" x2="85.15" y1="124.5" y2="126.3" stroke="#858585" stroke-width="0.7"/>
<text x="85.15" y="131.00" font-size="5.1" text-anchor="middle" fill="#222" stroke="#222" stroke-width="0.12">100</text>
<line x1="120.90" x2="120.90" y1="124.5" y2="126.3" stroke="#858585" stroke-width="0.7"/>
<text x="120.90" y="131.00" font-size="5.1" text-anchor="middle" fill="#222" stroke="#222" stroke-width="0.12">200</text>
<line x1="156.65" x2="156.65" y1="124.5" y2="126.3" stroke="#858585" stroke-width="0.7"/>
<text x="156.65" y="131.00" font-size="5.1" text-anchor="middle" fill="#222" stroke="#222" stroke-width="0.12">300</text>
<line x1="192.40" x2="192.40" y1="124.5" y2="126.3" stroke="#858585" stroke-width="0.7"/>
<text x="192.40" y="131.00" font-size="5.1" text-anchor="middle" fill="#222" stroke="#222" stroke-width="0.12">400</text>
<text x="132.50" y="24.70" font-size="7.25" font-weight="bold" text-anchor="middle" fill="#111">Correctness Reward vs Steps</text>
<text x="132.50" y="138.30" font-size="6.3" text-anchor="middle" fill="#333">Training Steps</text>
<text transform="translate(21.60,75.50) rotate(-90)" font-size="6.3" text-anchor="middle" fill="#333">Correctness Reward Score</text>
<rect x="172.4" y="99" width="49.5" height="21.6" rx="1.5" fill="#fff" fill-opacity="0.95" stroke="#d8d8d8" stroke-width="0.6"/>
<line x1="174.9" x2="188.9" y1="104.3" y2="104.3" stroke="#9a9a9a" stroke-width="1.3"/>
<line x1="174.9" x2="188.9" y1="114.3" y2="114.3" stroke="#5a665c" stroke-width="1.3"/>
<text x="194.4" y="106.7" font-size="6.85" fill="#4a4a4a">GRPO</text>
<text x="194.4" y="116.8" font-size="6.85" font-weight="bold" fill="#111">GDPO</text><clipPath id="c1"><rect x="249.5" y="26.6" width="183.0" height="97.9"/></clipPath>
<rect x="249.5" y="26.6" width="183.0" height="97.9" fill="#fff"/>
<line x1="249.5" x2="432.5" y1="121.40" y2="121.40" stroke="#cdcdcd" stroke-width="0.8"/>
<line x1="249.5" x2="432.5" y1="108.51" y2="108.51" stroke="#cdcdcd" stroke-width="0.8"/>
<line x1="249.5" x2="432.5" y1="95.63" y2="95.63" stroke="#cdcdcd" stroke-width="0.8"/>
<line x1="249.5" x2="432.5" y1="82.74" y2="82.74" stroke="#cdcdcd" stroke-width="0.8"/>
<line x1="249.5" x2="432.5" y1="69.86" y2="69.86" stroke="#cdcdcd" stroke-width="0.8"/>
<line x1="249.5" x2="432.5" y1="56.97" y2="56.97" stroke="#cdcdcd" stroke-width="0.8"/>
<line x1="249.5" x2="432.5" y1="44.09" y2="44.09" stroke="#cdcdcd" stroke-width="0.8"/>
<line x1="249.5" x2="432.5" y1="31.20" y2="31.20" stroke="#cdcdcd" stroke-width="0.8"/>
<line x1="257.70" x2="257.70" y1="26.6" y2="124.5" stroke="#cdcdcd" stroke-width="0.8"/>
<line x1="293.50" x2="293.50" y1="26.6" y2="124.5" stroke="#cdcdcd" stroke-width="0.8"/>
<line x1="329.30" x2="329.30" y1="26.6" y2="124.5" stroke="#cdcdcd" stroke-width="0.8"/>
<line x1="365.10" x2="365.10" y1="26.6" y2="124.5" stroke="#cdcdcd" stroke-width="0.8"/>
<line x1="400.90" x2="400.90" y1="26.6" y2="124.5" stroke="#cdcdcd" stroke-width="0.8"/>
<g clip-path="url(#c1)"><polyline points="257.70,119.07 258.06,117.15 258.42,112.89 258.77,109.86 259.13,106.47 259.49,103.04 259.85,100.85 260.21,97.51 260.56,94.94 260.92,91.12 261.28,89.05 261.64,86.46 262.00,83.53 262.35,80.74 262.71,77.95 263.07,74.83 263.43,71.63 263.79,70.13 264.14,68.00 264.50,66.64 264.86,64.82 265.22,62.59 265.58,61.18 265.93,60.48 266.29,59.35 266.65,58.09 267.01,56.61 267.37,56.29 267.72,55.25 268.08,53.45 268.44,52.66 268.80,51.07 269.16,49.30 269.51,48.00 269.87,46.76 270.23,45.37 270.59,45.16 270.95,42.85 271.30,42.29 271.66,41.32 272.02,39.49 272.38,38.37 272.74,37.76 273.09,36.98 273.45,35.65 273.81,34.70 274.17,34.07 274.53,34.12 274.88,34.14 275.24,33.69 275.60,33.96 275.96,34.03 276.32,33.39 276.67,33.23 277.03,33.33 277.39,33.51 277.75,33.18 278.11,34.02 278.46,33.02 278.82,33.07 279.18,33.75 279.54,33.20 279.90,33.53 280.25,32.97 280.61,33.86 280.97,33.49 281.33,32.96 281.69,32.81 282.04,33.87 282.40,33.33 282.76,33.06 283.12,33.36 283.48,32.64 283.83,33.53 284.19,33.03 284.55,33.48 284.91,32.68 285.27,33.13 285.62,33.24 285.98,33.67 286.34,32.57 286.70,32.86 287.06,32.85 287.41,32.73 287.77,32.97 288.13,33.29 288.49,33.33 288.85,33.33 289.20,32.62 289.56,33.53 289.92,33.24 290.28,33.15 290.64,32.97 290.99,32.85 291.35,33.43 291.71,33.58 292.07,33.02 292.43,32.62 292.78,32.76 293.14,32.93 293.50,33.09 293.86,32.89 294.22,33.06 294.57,32.71 294.93,33.22 295.29,32.92 295.65,32.99 296.01,32.78 296.36,32.87 296.72,32.17 297.08,32.45 297.44,32.45 297.80,33.58 298.15,33.03 298.51,33.11 298.87,32.73 299.23,33.63 299.59,32.51 299.94,32.54 300.30,33.30 300.66,33.19 301.02,33.13 301.38,32.85 301.73,32.66 302.09,32.20 302.45,32.92 302.81,32.61 303.17,32.80 303.52,32.28 303.88,32.61 304.24,32.40 304.60,33.19 304.96,32.90 305.31,33.10 305.67,32.35 306.03,32.61 306.39,32.92 306.75,32.97 307.10,32.66 307.46,33.04 307.82,33.11 308.18,32.65 308.54,32.03 308.89,32.88 309.25,32.98 309.61,33.17 309.97,33.22 310.33,32.62 310.68,32.51 311.04,32.78 311.40,32.67 311.76,32.74 312.12,32.73 312.47,33.26 312.83,32.91 313.19,32.73 313.55,33.01 313.91,32.91 314.26,33.02 314.62,32.86 314.98,32.47 315.34,32.87 315.70,32.79 316.05,32.47 316.41,32.53 316.77,32.18 317.13,33.40 317.49,32.45 317.84,32.88 318.20,32.67 318.56,32.44 318.92,32.36 319.28,32.37 319.63,32.65 319.99,32.18 320.35,32.79 320.71,32.74 321.07,32.43 321.42,32.87 321.78,31.99 322.14,32.35 322.50,31.98 322.86,32.68 323.21,32.80 323.57,32.62 323.93,32.43 324.29,32.85 324.65,32.54 325.00,32.66 325.36,32.13 325.72,32.86 326.08,32.31 326.44,32.85 326.79,32.95 327.15,32.87 327.51,33.02 327.87,32.58 328.23,32.29 328.58,32.57 328.94,32.42 329.30,32.09 329.66,32.52 330.02,32.54 330.37,32.69 330.73,33.11 331.09,32.34 331.45,33.14 331.81,32.36 332.16,32.57 332.52,32.20 332.88,32.57 333.24,32.81 333.60,32.42 333.95,32.71 334.31,32.59 334.67,32.51 335.03,32.56 335.39,32.57 335.74,32.77 336.10,32.56 336.46,33.18 336.82,32.53 337.18,32.86 337.53,32.11 337.89,32.05 338.25,33.08 338.61,32.40 338.97,32.48 339.32,32.77 339.68,32.26 340.04,32.57 340.40,32.99 340.76,32.50 341.11,32.45 341.47,32.36 341.83,32.79 342.19,32.19 342.55,32.14 342.90,32.74 343.26,32.58 343.62,32.39 343.98,32.54 344.34,31.79 344.69,32.27 345.05,32.66 345.41,32.58 345.77,32.34 346.13,31.58 346.48,32.37 346.84,32.26 347.20,32.13 347.56,32.30 347.92,31.55 348.27,32.45 348.63,32.03 348.99,32.21 349.35,32.06 349.71,32.63 350.06,31.67 350.42,32.28 350.78,32.22 351.14,32.53 351.50,32.45 351.85,32.03 352.21,31.89 352.57,31.96 352.93,31.80 353.29,31.96 353.64,32.17 354.00,31.90 354.36,31.98 354.72,32.19 355.08,31.92 355.43,31.73 355.79,32.07 356.15,32.25 356.51,31.90 356.87,31.51 357.22,32.18 357.58,32.14 357.94,32.15 358.30,31.70 358.66,32.68 359.01,31.96 359.37,31.69 359.73,32.33 360.09,31.58 360.45,31.88 360.80,32.23 361.16,31.98 361.52,32.53 361.88,32.21 362.24,31.44 362.59,32.31 362.95,31.42 363.31,32.03 363.67,31.68 364.03,31.98 364.38,32.71 364.74,32.16 365.10,31.91 365.46,32.34 365.82,32.40 366.17,31.85 366.53,32.17 366.89,32.51 367.25,32.18 367.61,31.68 367.96,32.11 368.32,31.65 368.68,31.46 369.04,31.93 369.40,32.31 369.75,32.36 370.11,31.95 370.47,31.65 370.83,31.85 371.19,31.75 371.54,32.07 371.90,31.83 372.26,32.07 372.62,32.02 372.98,32.33 373.33,32.42 373.69,32.07 374.05,32.27 374.41,32.21 374.77,31.69 375.12,31.94 375.48,31.13 375.84,31.60 376.20,32.10 376.56,31.64 376.91,31.77 377.27,32.11 377.63,31.53 377.99,32.13 378.35,32.65 378.70,31.62 379.06,32.07 379.42,31.39 379.78,32.08 380.14,32.25 380.49,31.36 380.85,32.21 381.21,31.79 381.57,31.39 381.93,31.82 382.28,31.88 382.64,31.81 383.00,31.57 383.36,32.10 383.72,31.64 384.07,31.65 384.43,31.08 384.79,31.94 385.15,32.12 385.51,31.59 385.86,31.95 386.22,31.73 386.58,31.78 386.94,31.44 387.30,32.02 387.65,31.84 388.01,32.58 388.37,32.09 388.73,31.31 389.09,32.02 389.44,32.02 389.80,32.19 390.16,31.61 390.52,31.73 390.88,32.17 391.23,31.57 391.59,31.70 391.95,31.54 392.31,31.98 392.67,31.21 393.02,31.64 393.38,31.81 393.74,31.93 394.10,31.84 394.46,31.49 394.81,31.85 395.17,31.41 395.53,31.57 395.89,31.32 396.25,31.49 396.60,31.77 396.96,32.36 397.32,31.65 397.68,31.48 398.04,31.68 398.39,31.55 398.75,31.88 399.11,31.85 399.47,32.03 399.83,31.28 400.18,31.67 400.54,31.88 400.90,32.14 401.26,31.76 401.62,31.25 401.97,31.56 402.33,31.94 402.69,31.25 403.05,31.24 403.41,31.39 403.76,31.45 404.12,31.33 404.48,31.52 404.84,31.44 405.20,31.94 405.55,31.21 405.91,31.61 406.27,31.03 406.63,32.34 406.99,31.45 407.34,31.36 407.70,31.79 408.06,31.53 408.42,31.43 408.78,31.49 409.13,31.84 409.49,31.71 409.85,31.34 410.21,31.25 410.57,31.63 410.92,31.64 411.28,31.59 411.64,31.32 412.00,31.99 412.36,32.08 412.71,31.61 413.07,32.00 413.43,31.84 413.79,31.62 414.15,31.49 414.50,31.99 414.86,31.38 415.22,32.21 415.58,31.46 415.94,32.14 416.29,32.04 416.65,31.42 417.01,31.76 417.37,31.88 417.73,31.77 418.08,31.47 418.44,31.64 418.80,31.63 419.16,31.27 419.52,31.84 419.87,31.76 420.23,31.78 420.59,31.23 420.95,31.29 421.31,31.19 421.66,31.61 422.02,31.65 422.38,31.32 422.74,31.72 423.10,31.32 423.45,31.36 423.81,31.81 424.17,31.61" fill="none" stroke="#8a8a8a" stroke-width="1.0" stroke-opacity="1.0" stroke-linejoin="round" /><polyline points="257.70,119.63 258.06,115.69 258.42,112.12 258.77,109.58 259.13,106.19 259.49,103.58 259.85,100.01 260.21,97.31 260.56,94.88 260.92,91.51 261.28,89.50 261.64,86.29 262.00,83.27 262.35,80.80 262.71,77.21 263.07,74.23 263.43,72.11 263.79,70.38 264.14,67.99 264.50,66.45 264.86,65.09 265.22,63.06 265.58,61.26 265.93,60.24 266.29,58.90 266.65,58.01 267.01,56.53 267.37,55.63 267.72,54.82 268.08,53.30 268.44,51.82 268.80,50.62 269.16,49.85 269.51,47.78 269.87,46.64 270.23,44.94 270.59,44.23 270.95,42.89 271.30,41.75 271.66,40.11 272.02,39.39 272.38,38.55 272.74,37.39 273.09,36.65 273.45,35.48 273.81,34.55 274.17,34.31 274.53,33.62 274.88,34.21 275.24,33.91 275.60,33.83 275.96,33.39 276.32,33.83 276.67,33.51 277.03,33.15 277.39,32.95 277.75,33.14 278.11,33.28 278.46,33.39 278.82,32.94 279.18,32.63 279.54,32.99 279.90,33.03 280.25,32.94 280.61,33.38 280.97,33.17 281.33,33.15 281.69,32.96 282.04,33.06 282.40,33.44 282.76,32.68 283.12,32.49 283.48,33.11 283.83,32.89 284.19,32.93 284.55,32.76 284.91,33.48 285.27,32.48 285.62,33.14 285.98,32.58 286.34,32.95 286.70,33.10 287.06,33.01 287.41,32.67 287.77,33.24 288.13,33.07 288.49,33.10 288.85,33.49 289.20,32.51 289.56,32.74 289.92,32.93 290.28,32.54 290.64,33.22 290.99,32.93 291.35,32.34 291.71,32.58 292.07,33.60 292.43,33.65 292.78,33.21 293.14,32.53 293.50,33.02 293.86,32.93 294.22,32.66 294.57,33.13 294.93,32.77 295.29,32.58 295.65,32.68 296.01,32.69 296.36,33.01 296.72,32.65 297.08,32.94 297.44,32.38 297.80,32.02 298.15,33.03 298.51,33.48 298.87,32.91 299.23,32.65 299.59,32.43 299.94,32.41 300.30,33.00 300.66,33.00 301.02,32.33 301.38,33.09 301.73,32.39 302.09,32.81 302.45,32.48 302.81,32.50 303.17,32.47 303.52,32.46 303.88,33.04 304.24,32.62 304.60,32.71 304.96,32.61 305.31,32.31 305.67,32.79 306.03,32.93 306.39,32.93 306.75,32.79 307.10,32.45 307.46,32.95 307.82,32.31 308.18,32.59 308.54,32.75 308.89,33.10 309.25,32.59 309.61,32.44 309.97,33.23 310.33,32.28 310.68,32.13 311.04,32.54 311.40,32.49 311.76,31.87 312.12,32.25 312.47,32.93 312.83,32.64 313.19,32.68 313.55,32.68 313.91,33.39 314.26,32.38 314.62,32.83 314.98,32.56 315.34,32.66 315.70,32.33 316.05,32.70 316.41,32.86 316.77,32.43 317.13,32.15 317.49,32.70 317.84,32.15 318.20,32.50 318.56,32.76 318.92,32.09 319.28,32.84 319.63,32.25 319.99,32.73 320.35,32.42 320.71,32.96 321.07,32.83 321.42,32.22 321.78,32.50 322.14,32.54 322.50,32.69 322.86,32.40 323.21,32.99 323.57,32.90 323.93,32.59 324.29,32.80 324.65,32.76 325.00,32.55 325.36,32.57 325.72,32.59 326.08,31.98 326.44,32.19 326.79,32.11 327.15,32.52 327.51,32.67 327.87,32.97 328.23,32.61 328.58,33.17 328.94,32.68 329.30,32.24 329.66,31.96 330.02,32.16 330.37,32.75 330.73,32.30 331.09,32.71 331.45,32.18 331.81,32.48 332.16,32.16 332.52,31.66 332.88,32.13 333.24,31.67 333.60,32.35 333.95,32.51 334.31,31.97 334.67,31.84 335.03,32.56 335.39,32.35 335.74,32.83 336.10,32.43 336.46,32.07 336.82,32.38 337.18,32.53 337.53,32.79 337.89,32.22 338.25,32.07 338.61,32.13 338.97,32.23 339.32,32.72 339.68,31.73 340.04,32.31 340.40,32.34 340.76,32.05 341.11,32.97 341.47,32.29 341.83,32.31 342.19,32.14 342.55,31.82 342.90,32.09 343.26,32.83 343.62,32.34 343.98,32.16 344.34,32.17 344.69,32.62 345.05,32.74 345.41,32.02 345.77,32.08 346.13,32.19 346.48,32.74 346.84,31.60 347.20,32.94 347.56,32.28 347.92,31.48 348.27,32.20 348.63,32.07 348.99,32.51 349.35,31.69 349.71,32.54 350.06,32.03 350.42,32.06 350.78,32.44 351.14,31.81 351.50,32.55 351.85,32.30 352.21,32.09 352.57,32.20 352.93,31.91 353.29,31.76 353.64,32.15 354.00,32.22 354.36,32.20 354.72,32.15 355.08,31.76 355.43,32.09 355.79,31.88 356.15,32.03 356.51,32.27 356.87,31.71 357.22,32.32 357.58,31.98 357.94,31.49 358.30,32.32 358.66,31.98 359.01,32.46 359.37,32.11 359.73,32.42 360.09,32.05 360.45,32.10 360.80,31.88 361.16,31.40 361.52,31.82 361.88,31.69 362.24,31.91 362.59,31.97 362.95,32.15 363.31,32.46 363.67,31.85 364.03,31.34 364.38,31.70 364.74,32.02 365.10,31.31 365.46,31.98 365.82,32.04 366.17,32.23 366.53,32.14 366.89,31.91 367.25,31.18 367.61,31.89 367.96,32.16 368.32,32.02 368.68,31.89 369.04,32.37 369.40,31.77 369.75,31.59 370.11,31.70 370.47,31.61 370.83,32.22 371.19,32.35 371.54,31.38 371.90,31.44 372.26,32.29 372.62,31.72 372.98,31.78 373.33,31.61 373.69,31.72 374.05,31.94 374.41,31.71 374.77,31.72 375.12,31.79 375.48,32.37 375.84,32.54 376.20,32.02 376.56,32.29 376.91,31.68 377.27,31.53 377.63,31.67 377.99,31.87 378.35,31.73 378.70,31.37 379.06,31.98 379.42,31.44 379.78,31.51 380.14,31.65 380.49,31.27 380.85,31.96 381.21,31.42 381.57,32.02 381.93,31.97 382.28,32.06 382.64,31.57 383.00,32.02 383.36,31.70 383.72,32.08 384.07,31.36 384.43,31.11 384.79,31.63 385.15,31.17 385.51,31.52 385.86,31.00 386.22,31.66 386.58,32.20 386.94,31.21 387.30,31.73 387.65,32.02 388.01,31.89 388.37,32.20 388.73,31.73 389.09,32.02 389.44,31.19 389.80,31.45 390.16,32.20 390.52,32.15 390.88,31.84 391.23,32.28 391.59,31.69 391.95,31.66 392.31,31.90 392.67,31.82 393.02,31.48 393.38,31.18 393.74,31.16 394.10,31.62 394.46,31.36 394.81,31.87 395.17,31.50 395.53,31.93 395.89,31.39 396.25,32.02 396.60,31.93 396.96,31.62 397.32,31.43 397.68,32.07 398.04,31.78 398.39,31.56 398.75,31.53 399.11,31.87 399.47,31.57 399.83,31.68 400.18,31.14 400.54,31.41 400.90,32.01 401.26,32.29 401.62,31.55 401.97,31.20 402.33,31.52 402.69,31.29 403.05,31.73 403.41,32.01 403.76,31.33 404.12,31.54 404.48,31.35 404.84,32.01 405.20,31.50 405.55,31.76 405.91,31.30 406.27,31.74 406.63,31.75 406.99,31.74 407.34,31.14 407.70,31.54 408.06,31.79 408.42,31.87 408.78,31.88 409.13,31.07 409.49,32.12 409.85,31.81 410.21,31.33 410.57,31.15 410.92,31.58 411.28,31.28 411.64,31.28 412.00,31.21 412.36,31.51 412.71,30.99 413.07,31.45 413.43,31.02 413.79,31.86 414.15,31.20 414.50,31.91 414.86,31.98 415.22,31.34 415.58,31.76 415.94,31.35 416.29,31.84 416.65,30.97 417.01,31.48 417.37,31.85 417.73,31.42 418.08,31.19 418.44,31.72 418.80,31.31 419.16,30.81 419.52,31.19 419.87,31.47 420.23,31.65 420.59,31.27 420.95,31.95 421.31,32.25 421.66,31.67 422.02,31.80 422.38,30.89 422.74,31.40 423.10,31.76 423.45,31.82 423.81,31.28 424.17,31.71" fill="none" stroke="#305e3a" stroke-width="1.0" stroke-opacity="1.0" stroke-linejoin="round" /></g>
<rect x="249.5" y="26.6" width="183.0" height="97.9" fill="none" stroke="#858585" stroke-width="1"/>
<line x1="247.7" x2="249.5" y1="121.40" y2="121.40" stroke="#858585" stroke-width="0.7"/>
<text x="246.7" y="123.20" font-size="5.1" text-anchor="end" fill="#222" stroke="#222" stroke-width="0.12">0.3</text>
<line x1="247.7" x2="249.5" y1="108.51" y2="108.51" stroke="#858585" stroke-width="0.7"/>
<text x="246.7" y="110.31" font-size="5.1" text-anchor="end" fill="#222" stroke="#222" stroke-width="0.12">0.4</text>
<line x1="247.7" x2="249.5" y1="95.63" y2="95.63" stroke="#858585" stroke-width="0.7"/>
<text x="246.7" y="97.43" font-size="5.1" text-anchor="end" fill="#222" stroke="#222" stroke-width="0.12">0.5</text>
<line x1="247.7" x2="249.5" y1="82.74" y2="82.74" stroke="#858585" stroke-width="0.7"/>
<text x="246.7" y="84.54" font-size="5.1" text-anchor="end" fill="#222" stroke="#222" stroke-width="0.12">0.6</text>
<line x1="247.7" x2="249.5" y1="69.86" y2="69.86" stroke="#858585" stroke-width="0.7"/>
<text x="246.7" y="71.66" font-size="5.1" text-anchor="end" fill="#222" stroke="#222" stroke-width="0.12">0.7</text>
<line x1="247.7" x2="249.5" y1="56.97" y2="56.97" stroke="#858585" stroke-width="0.7"/>
<text x="246.7" y="58.77" font-size="5.1" text-anchor="end" fill="#222" stroke="#222" stroke-width="0.12">0.8</text>
<line x1="247.7" x2="249.5" y1="44.09" y2="44.09" stroke="#858585" stroke-width="0.7"/>
<text x="246.7" y="45.89" font-size="5.1" text-anchor="end" fill="#222" stroke="#222" stroke-width="0.12">0.9</text>
<line x1="247.7" x2="249.5" y1="31.20" y2="31.20" stroke="#858585" stroke-width="0.7"/>
<text x="246.7" y="33.00" font-size="5.1" text-anchor="end" fill="#222" stroke="#222" stroke-width="0.12">1.0</text>
<line x1="257.70" x2="257.70" y1="124.5" y2="126.3" stroke="#858585" stroke-width="0.7"/>
<text x="257.70" y="131.00" font-size="5.1" text-anchor="middle" fill="#222" stroke="#222" stroke-width="0.12">0</text>
<line x1="293.50" x2="293.50" y1="124.5" y2="126.3" stroke="#858585" stroke-width="0.7"/>
<text x="293.50" y="131.00" font-size="5.1" text-anchor="middle" fill="#222" stroke="#222" stroke-width="0.12">100</text>
<line x1="329.30" x2="329.30" y1="124.5" y2="126.3" stroke="#858585" stroke-width="0.7"/>
<text x="329.30" y="131.00" font-size="5.1" text-anchor="middle" fill="#222" stroke="#222" stroke-width="0.12">200</text>
<line x1="365.10" x2="365.10" y1="124.5" y2="126.3" stroke="#858585" stroke-width="0.7"/>
<text x="365.10" y="131.00" font-size="5.1" text-anchor="middle" fill="#222" stroke="#222" stroke-width="0.12">300</text>
<line x1="400.90" x2="400.90" y1="124.5" y2="126.3" stroke="#858585" stroke-width="0.7"/>
<text x="400.90" y="131.00" font-size="5.1" text-anchor="middle" fill="#222" stroke="#222" stroke-width="0.12">400</text>
<text x="341.00" y="24.80" font-size="7.25" font-weight="bold" text-anchor="middle" fill="#111">Length Reward vs Steps</text>
<text x="341.00" y="138.30" font-size="6.3" text-anchor="middle" fill="#333">Training Steps</text>
<text transform="translate(236.10,75.55) rotate(-90)" font-size="6.3" text-anchor="middle" fill="#333">Length Reward Score</text>
<rect x="381.8" y="99" width="48.8" height="21.6" rx="1.5" fill="#fff" fill-opacity="0.95" stroke="#d8d8d8" stroke-width="0.6"/>
<line x1="384.3" x2="398.3" y1="104.3" y2="104.3" stroke="#9a9a9a" stroke-width="1.3"/>
<line x1="384.3" x2="398.3" y1="114.3" y2="114.3" stroke="#5a665c" stroke-width="1.3"/>
<text x="403.8" y="106.7" font-size="6.85" fill="#4a4a4a">GRPO</text>
<text x="403.8" y="116.8" font-size="6.85" font-weight="bold" fill="#111">GDPO</text><clipPath id="c2"><rect x="458.5" y="26.7" width="182.0" height="97.8"/></clipPath>
<rect x="458.5" y="26.7" width="182.0" height="97.8" fill="#fff"/>
<line x1="458.5" x2="640.5" y1="113.10" y2="113.10" stroke="#cdcdcd" stroke-width="0.8"/>
<line x1="458.5" x2="640.5" y1="101.41" y2="101.41" stroke="#cdcdcd" stroke-width="0.8"/>
<line x1="458.5" x2="640.5" y1="89.73" y2="89.73" stroke="#cdcdcd" stroke-width="0.8"/>
<line x1="458.5" x2="640.5" y1="78.04" y2="78.04" stroke="#cdcdcd" stroke-width="0.8"/>
<line x1="458.5" x2="640.5" y1="66.36" y2="66.36" stroke="#cdcdcd" stroke-width="0.8"/>
<line x1="458.5" x2="640.5" y1="54.67" y2="54.67" stroke="#cdcdcd" stroke-width="0.8"/>
<line x1="458.5" x2="640.5" y1="42.99" y2="42.99" stroke="#cdcdcd" stroke-width="0.8"/>
<line x1="458.5" x2="640.5" y1="31.30" y2="31.30" stroke="#cdcdcd" stroke-width="0.8"/>
<line x1="464.40" x2="464.40" y1="26.7" y2="124.5" stroke="#cdcdcd" stroke-width="0.8"/>
<line x1="500.90" x2="500.90" y1="26.7" y2="124.5" stroke="#cdcdcd" stroke-width="0.8"/>
<line x1="537.40" x2="537.40" y1="26.7" y2="124.5" stroke="#cdcdcd" stroke-width="0.8"/>
<line x1="573.90" x2="573.90" y1="26.7" y2="124.5" stroke="#cdcdcd" stroke-width="0.8"/>
<line x1="610.40" x2="610.40" y1="26.7" y2="124.5" stroke="#cdcdcd" stroke-width="0.8"/>
<g clip-path="url(#c2)"><polygon points="481.92,44.24 482.28,48.31 482.65,50.77 483.01,55.01 483.38,59.96 483.75,62.55 484.11,63.79 484.47,63.34 484.84,63.44 485.20,64.88 485.57,65.85 485.94,66.39 486.30,66.09 486.66,64.62 487.03,63.52 487.39,64.62 487.76,66.36 488.12,66.77 488.49,66.86 488.85,66.57 489.22,65.53 489.58,66.09 489.95,66.56 490.31,66.59 490.68,64.41 491.04,61.07 491.41,60.03 491.77,60.74 492.14,61.31 492.50,60.36 492.87,59.62 493.23,60.04 493.60,61.55 493.96,62.99 494.33,63.30 494.69,63.17 495.06,63.15 495.42,64.42 495.79,64.60 496.15,63.25 496.52,61.68 496.88,61.91 497.25,62.19 497.61,62.33 497.98,61.17 498.34,59.22 498.71,58.44 499.07,57.48 499.44,56.66 499.80,57.18 500.17,57.54 500.53,58.34 500.90,60.48 501.26,61.22 501.63,61.13 502.00,60.94 502.36,59.98 502.72,58.78 503.09,57.92 503.45,58.45 503.82,58.38 504.18,59.13 504.55,59.92 504.91,59.14 505.28,59.75 505.64,62.08 506.01,64.33 506.38,66.40 506.74,69.68 507.10,70.95 507.47,70.75 507.83,71.35 508.20,72.89 508.56,75.09 508.93,75.45 509.29,73.68 509.66,72.17 510.02,72.68 510.39,73.43 510.75,71.89 511.12,68.40 511.48,65.63 511.85,65.18 512.21,65.31 512.58,63.61 512.94,62.06 513.31,60.88 513.67,59.12 514.04,58.21 514.40,57.49 514.77,57.05 515.13,58.15 515.50,60.21 515.87,60.41 516.23,60.94 516.60,62.62 516.96,65.33 517.32,68.04 517.69,69.03 518.05,68.96 518.42,67.74 518.78,67.29 519.15,67.24 519.51,67.16 519.88,66.94 520.25,67.33 520.61,66.79 520.98,68.23 521.34,69.89 521.70,69.25 522.07,70.56 522.43,71.71 522.80,71.27 523.16,70.41 523.53,70.29 523.89,69.23 524.26,66.38 524.62,63.76 524.99,63.03 525.36,62.28 525.72,60.71 526.08,59.08 526.45,58.20 526.81,59.51 527.18,61.59 527.54,63.54 527.91,64.63 528.27,64.19 528.64,64.20 529.00,66.62 529.37,68.70 529.74,69.95 530.10,70.10 530.46,69.95 530.83,71.74 531.19,73.99 531.56,75.24 531.92,76.52 532.29,79.41 532.65,81.00 533.02,80.15 533.38,78.67 533.75,77.03 534.12,76.87 534.48,76.61 534.85,75.31 535.21,75.48 535.57,76.13 535.94,75.82 536.30,75.25 536.67,75.53 537.03,75.88 537.40,76.09 537.76,76.25 538.13,76.79 538.50,77.89 538.86,79.53 539.23,81.89 539.59,81.81 539.95,80.35 540.32,79.39 540.68,80.10 541.05,81.33 541.41,82.81 541.78,83.60 542.14,83.65 542.51,84.24 542.88,83.92 543.24,84.22 543.61,84.36 543.97,84.74 544.34,85.27 544.70,85.54 545.06,85.91 545.43,84.64 545.79,82.54 546.16,81.43 546.52,82.07 546.89,82.05 547.25,81.33 547.62,80.84 547.99,79.10 548.35,77.23 548.71,77.18 549.08,77.89 549.44,78.72 549.81,80.40 550.17,82.10 550.54,83.82 550.90,85.82 551.27,87.57 551.63,88.67 552.00,89.28 552.37,89.54 552.73,89.56 553.10,90.33 553.46,92.48 553.82,93.98 554.19,93.31 554.55,93.17 554.92,91.68 555.28,91.72 555.65,93.28 556.01,92.33 556.38,89.67 556.75,87.85 557.11,85.99 557.48,85.45 557.84,84.42 558.20,83.16 558.57,82.23 558.93,81.70 559.30,80.42 559.66,78.64 560.03,76.16 560.39,73.12 560.76,72.52 561.12,73.34 561.49,75.68 561.86,76.45 562.22,76.23 562.59,78.42 562.95,80.73 563.31,82.90 563.68,84.21 564.04,86.04 564.41,86.83 564.77,87.16 565.14,87.97 565.50,90.00 565.87,91.95 566.24,93.03 566.60,93.00 566.96,91.75 567.33,92.89 567.69,94.49 568.06,95.33 568.42,95.35 568.79,95.14 569.15,96.07 569.52,97.59 569.88,99.11 570.25,99.57 570.62,100.45 570.98,100.53 571.35,100.49 571.71,100.97 572.07,100.68 572.44,99.30 572.80,98.09 573.17,98.10 573.53,97.42 573.90,96.01 574.26,95.08 574.63,94.23 575.00,92.56 575.36,91.07 575.73,89.78 576.09,88.34 576.45,89.02 576.82,89.01 577.18,87.60 577.55,88.71 577.91,89.70 578.28,90.45 578.64,90.01 579.01,89.65 579.38,90.47 579.74,89.56 580.11,88.48 580.47,89.35 580.84,90.72 581.20,93.03 581.56,94.91 581.93,95.04 582.29,93.77 582.66,94.58 583.02,96.80 583.39,97.46 583.75,97.10 584.12,98.44 584.49,100.96 584.85,102.60 585.21,102.99 585.58,102.70 585.94,100.40 586.31,98.25 586.67,98.73 587.04,98.67 587.40,96.71 587.77,95.20 588.13,96.82 588.50,96.73 588.87,93.87 589.23,91.13 589.60,90.43 589.96,91.20 590.32,90.44 590.69,88.40 591.05,86.87 591.42,86.23 591.78,86.67 592.15,86.15 592.51,85.24 592.88,84.61 593.25,83.77 593.61,84.08 593.97,86.50 594.34,88.88 594.70,90.12 595.07,90.25 595.43,89.47 595.80,91.09 596.16,94.79 596.53,96.95 596.89,95.79 597.26,95.22 597.62,97.80 597.99,98.87 598.36,97.64 598.72,98.32 599.09,100.33 599.45,101.32 599.81,102.11 600.18,102.89 600.54,102.98 600.91,102.27 601.27,100.22 601.64,98.01 602.00,97.45 602.37,98.28 602.74,99.82 603.10,100.11 603.46,97.96 603.83,96.89 604.19,97.20 604.56,98.94 604.92,101.46 605.29,102.54 605.65,102.78 606.02,102.93 606.38,104.46 606.75,103.59 607.12,100.87 607.48,99.30 607.85,99.97 608.21,99.53 608.57,96.31 608.94,94.54 609.30,93.05 609.67,91.55 610.03,90.69 610.40,90.03 610.76,90.58 611.13,91.81 611.50,93.20 611.86,93.49 612.22,94.66 612.59,96.74 612.95,96.24 613.32,95.06 613.68,96.45 614.05,98.44 614.41,99.95 614.78,99.51 615.14,96.18 615.51,93.91 615.88,94.38 616.24,95.63 616.61,95.57 616.97,94.82 617.34,93.53 617.70,90.70 618.06,87.40 618.43,83.98 618.79,79.73 619.16,76.16 619.52,74.10 619.89,74.92 620.25,76.85 620.62,78.38 620.99,78.33 621.35,78.53 621.71,79.67 622.08,79.91 622.44,81.11 622.81,83.26 623.17,86.86 623.54,90.74 623.90,94.05 624.27,97.07 624.63,99.04 625.00,100.15 625.37,100.80 625.73,102.52 626.10,104.79 626.46,106.04 626.82,106.10 627.19,106.04 627.55,105.35 627.92,103.11 628.28,100.26 628.65,98.49 629.01,96.77 629.38,94.74 629.75,92.53 630.11,92.64 630.47,95.11 630.84,96.87 630.84,103.30 630.47,104.81 630.11,107.62 629.75,109.33 629.38,110.05 629.01,110.91 628.65,110.85 628.28,112.13 627.92,114.80 627.55,115.76 627.19,116.11 626.82,114.81 626.46,114.11 626.10,113.25 625.73,112.18 625.37,111.96 625.00,111.00 624.63,111.30 624.27,110.71 623.90,110.41 623.54,111.59 623.17,111.70 622.81,110.36 622.44,107.66 622.08,105.65 621.71,104.70 621.35,103.98 620.99,103.49 620.62,102.14 620.25,100.38 619.89,97.54 619.52,95.27 619.16,95.09 618.79,96.25 618.43,97.01 618.06,97.30 617.70,98.18 617.34,98.81 616.97,98.68 616.61,98.41 616.24,96.66 615.88,95.47 615.51,97.30 615.14,100.64 614.78,103.20 614.41,104.58 614.05,105.54 613.68,105.76 613.32,106.55 612.95,107.13 612.59,106.10 612.22,107.12 611.86,109.57 611.50,111.08 611.13,112.20 610.76,113.73 610.40,115.15 610.03,113.86 609.67,111.60 609.30,109.12 608.94,108.15 608.57,107.38 608.21,105.00 607.85,103.61 607.48,102.92 607.12,104.60 606.75,107.36 606.38,108.17 606.02,108.14 605.65,107.66 605.29,108.62 604.92,110.25 604.56,110.41 604.19,110.35 603.83,109.42 603.46,107.51 603.10,105.41 602.74,103.81 602.37,104.87 602.00,106.94 601.64,108.97 601.27,109.99 600.91,111.91 600.54,114.58 600.18,115.84 599.81,116.30 599.45,115.89 599.09,115.44 598.72,116.11 598.36,117.21 597.99,117.77 597.62,118.06 597.26,117.58 596.89,117.35 596.53,117.47 596.16,117.52 595.80,117.02 595.43,117.32 595.07,116.94 594.70,114.70 594.34,113.08 593.97,113.33 593.61,114.22 593.25,113.22 592.88,112.63 592.51,111.93 592.15,109.82 591.78,108.48 591.42,108.08 591.05,108.04 590.69,109.05 590.32,110.89 589.96,114.03 589.60,115.69 589.23,116.26 588.87,116.80 588.50,115.54 588.13,114.34 587.77,113.81 587.40,113.69 587.04,114.34 586.67,114.78 586.31,115.28 585.94,116.06 585.58,116.18 585.21,116.31 584.85,116.55 584.49,115.75 584.12,114.20 583.75,112.11 583.39,111.05 583.02,111.37 582.66,112.42 582.29,112.21 581.93,113.13 581.56,114.15 581.20,113.09 580.84,112.38 580.47,112.09 580.11,112.00 579.74,112.63 579.38,112.62 579.01,112.55 578.64,112.53 578.28,111.74 577.91,112.03 577.55,112.90 577.18,113.30 576.82,111.58 576.45,109.72 576.09,109.81 575.73,110.59 575.36,111.39 575.00,111.50 574.63,110.32 574.26,109.51 573.90,109.68 573.53,109.54 573.17,109.11 572.80,108.97 572.44,109.54 572.07,110.31 571.71,109.73 571.35,108.99 570.98,108.65 570.62,110.90 570.25,113.33 569.88,114.03 569.52,114.45 569.15,112.79 568.79,111.60 568.42,112.00 568.06,112.85 567.69,113.13 567.33,112.34 566.96,111.19 566.60,110.79 566.24,111.33 565.87,112.64 565.50,112.10 565.14,109.76 564.77,109.13 564.41,109.37 564.04,109.36 563.68,107.20 563.31,104.66 562.95,102.01 562.59,99.31 562.22,98.35 561.86,99.15 561.49,100.06 561.12,100.41 560.76,102.13 560.39,105.02 560.03,108.18 559.66,109.91 559.30,109.52 558.93,108.23 558.57,106.83 558.20,105.15 557.84,103.86 557.48,102.86 557.11,101.92 556.75,101.33 556.38,100.66 556.01,100.28 555.65,98.57 555.28,96.66 554.92,94.92 554.55,93.72 554.19,94.97 553.82,94.39 553.46,94.74 553.10,95.65 552.73,97.50 552.37,99.38 552.00,100.04 551.63,101.11 551.27,102.40 550.90,103.15 550.54,104.50 550.17,106.54 549.81,105.25 549.44,102.87 549.08,102.79 548.71,101.22 548.35,99.08 547.99,97.90 547.62,97.50 547.25,98.43 546.89,98.05 546.52,98.72 546.16,101.30 545.79,103.05 545.43,103.36 545.06,103.05 544.70,103.73 544.34,105.21 543.97,106.18 543.61,104.38 543.24,101.07 542.88,98.59 542.51,97.95 542.14,96.94 541.78,94.61 541.41,92.46 541.05,90.65 540.68,90.72 540.32,91.67 539.95,92.63 539.59,94.33 539.23,95.30 538.86,97.57 538.50,99.88 538.13,99.85 537.76,97.09 537.40,93.84 537.03,92.47 536.67,91.13 536.30,90.02 535.94,89.64 535.57,90.81 535.21,90.91 534.85,89.99 534.48,91.01 534.12,91.63 533.75,91.97 533.38,93.32 533.02,94.63 532.65,95.32 532.29,95.13 531.92,93.65 531.56,91.96 531.19,90.18 530.83,87.80 530.46,86.17 530.10,85.10 529.74,84.11 529.37,83.88 529.00,86.30 528.64,88.36 528.27,88.28 527.91,89.82 527.54,90.87 527.18,89.56 526.81,87.40 526.45,84.36 526.08,83.04 525.72,82.04 525.36,81.33 524.99,81.65 524.62,81.33 524.26,79.69 523.89,77.88 523.53,76.90 523.16,77.10 522.80,75.99 522.43,76.45 522.07,79.35 521.70,81.19 521.34,82.51 520.98,82.39 520.61,83.78 520.25,85.36 519.88,86.14 519.51,89.42 519.15,90.49 518.78,88.72 518.42,87.05 518.05,86.01 517.69,85.17 517.32,84.60 516.96,83.17 516.60,81.24 516.23,80.62 515.87,80.45 515.50,82.05 515.13,83.55 514.77,83.87 514.40,84.60 514.04,84.93 513.67,85.97 513.31,87.34 512.94,87.63 512.58,86.65 512.21,85.87 511.85,85.25 511.48,83.85 511.12,82.61 510.75,82.76 510.39,83.00 510.02,82.33 509.66,83.04 509.29,82.76 508.93,82.25 508.56,82.04 508.20,80.61 507.83,80.61 507.47,81.88 507.10,82.53 506.74,81.90 506.38,79.67 506.01,78.41 505.64,79.73 505.28,80.79 504.91,78.58 504.55,77.80 504.18,78.34 503.82,77.60 503.45,77.77 503.09,79.46 502.72,80.99 502.36,79.62 502.00,76.18 501.63,73.97 501.26,73.93 500.90,75.06 500.53,74.92 500.17,72.45 499.80,68.70 499.44,67.17 499.07,68.00 498.71,67.86 498.34,65.78 497.98,63.36 497.61,62.89 497.25,65.40 496.88,68.26 496.52,68.61 496.15,68.51 495.79,69.66 495.42,71.51 495.06,73.01 494.69,74.59 494.33,75.77 493.96,76.19 493.60,74.97 493.23,72.85 492.87,71.73 492.50,71.86 492.14,73.84 491.77,74.64 491.41,74.20 491.04,73.58 490.68,74.13 490.31,75.96 489.95,77.27 489.58,76.82 489.22,74.81 488.85,72.93 488.49,72.35 488.12,72.56 487.76,71.43 487.39,70.60 487.03,70.19 486.66,69.82 486.30,69.66 485.94,69.37 485.57,69.72 485.20,70.36 484.84,69.85 484.47,68.17 484.11,66.65 483.75,64.45 483.38,60.01 483.01,55.12 482.65,51.84 482.28,48.33 481.92,45.67" fill="#7fd67f" fill-opacity="0.05" stroke="none"/><polygon points="481.00,34.83 481.36,37.20 481.73,41.37 482.09,45.09 482.46,49.47 482.82,52.22 483.19,55.78 483.55,62.03 483.92,64.88 484.28,66.49 484.65,67.93 485.01,69.82 485.38,69.06 485.75,68.52 486.11,68.36 486.47,69.06 486.84,68.71 487.20,69.75 487.57,69.59 487.94,71.33 488.30,71.90 488.66,70.96 489.03,72.95 489.39,74.72 489.76,76.95 490.12,75.77 490.49,74.33 490.85,72.15 491.22,73.10 491.58,73.41 491.95,73.98 492.31,71.91 492.68,70.01 493.04,71.51 493.41,72.29 493.77,75.65 494.14,74.88 494.50,74.80 494.87,72.59 495.23,71.59 495.60,69.64 495.96,67.89 496.33,67.29 496.69,68.03 497.06,66.68 497.42,62.43 497.79,61.53 498.15,63.24 498.52,66.32 498.88,67.48 499.25,66.68 499.61,65.82 499.98,69.56 500.34,73.31 500.71,74.61 501.07,73.68 501.44,72.36 501.80,73.66 502.17,76.70 502.53,80.51 502.90,79.64 503.26,77.49 503.63,76.24 504.00,77.05 504.36,77.73 504.72,76.07 505.09,79.09 505.45,80.56 505.82,77.16 506.18,77.77 506.55,79.62 506.91,82.20 507.28,81.03 507.64,80.87 508.01,78.57 508.38,80.70 508.74,81.48 509.10,81.17 509.47,82.42 509.83,81.81 510.20,81.00 510.56,83.04 510.93,80.71 511.29,82.57 511.66,83.23 512.02,85.31 512.39,84.58 512.75,86.77 513.12,86.63 513.49,86.20 513.85,83.97 514.21,84.02 514.58,83.33 514.94,82.57 515.31,82.65 515.67,79.71 516.04,79.34 516.40,80.00 516.77,80.58 517.13,83.76 517.50,83.58 517.87,84.84 518.23,85.29 518.60,86.88 518.96,88.63 519.32,90.41 519.69,86.71 520.05,83.81 520.42,84.98 520.78,80.87 521.15,81.99 521.51,81.20 521.88,79.39 522.25,77.52 522.61,73.67 522.98,76.34 523.34,76.00 523.70,75.93 524.07,77.88 524.43,79.56 524.80,81.16 525.16,80.30 525.53,80.49 525.89,81.68 526.26,82.49 526.62,84.28 526.99,88.47 527.36,88.76 527.72,91.02 528.08,86.92 528.45,87.74 528.81,87.13 529.18,83.74 529.54,82.20 529.91,84.08 530.27,84.25 530.64,86.14 531.00,87.54 531.37,90.81 531.74,91.23 532.10,94.08 532.46,94.30 532.83,94.47 533.19,92.99 533.56,91.84 533.92,90.29 534.29,91.08 534.65,89.15 535.02,88.97 535.38,90.91 535.75,88.93 536.12,88.51 536.48,89.63 536.85,90.72 537.21,92.29 537.57,93.48 537.94,98.62 538.30,99.19 538.67,98.72 539.03,94.71 539.40,94.05 539.76,92.79 540.13,90.68 540.50,90.79 540.86,88.86 541.22,90.51 541.59,92.47 541.95,94.79 542.32,97.11 542.68,96.93 543.05,98.33 543.41,101.80 543.78,104.97 544.14,105.51 544.51,103.14 544.88,102.47 545.24,101.78 545.61,103.02 545.97,101.28 546.33,99.53 546.70,96.17 547.06,97.98 547.43,97.05 547.79,96.12 548.16,97.74 548.52,98.53 548.89,101.90 549.25,101.81 549.62,102.05 549.99,106.40 550.35,104.86 550.71,102.37 551.08,102.08 551.44,100.89 551.81,99.52 552.17,98.72 552.54,98.19 552.90,95.07 553.27,94.39 553.63,93.27 554.00,93.63 554.37,91.22 554.73,93.16 555.10,94.74 555.46,96.64 555.82,98.56 556.19,100.07 556.55,99.40 556.92,101.32 557.28,100.67 557.65,103.09 558.01,102.78 558.38,105.54 558.75,106.22 559.11,108.28 559.48,108.86 559.84,109.08 560.20,105.56 560.57,102.72 560.93,99.78 561.30,99.19 561.66,99.06 562.03,97.44 562.39,97.38 562.76,99.29 563.12,102.73 563.49,104.63 563.86,107.77 564.22,109.02 564.59,107.90 564.95,108.46 565.31,109.15 565.68,113.01 566.04,110.50 566.41,110.31 566.77,109.45 567.14,111.00 567.50,111.78 567.87,112.58 568.24,111.30 568.60,110.85 568.96,110.49 569.33,113.12 569.69,113.87 570.06,112.38 570.42,112.40 570.79,107.71 571.15,107.71 571.52,108.37 571.88,109.19 572.25,109.55 572.62,107.73 572.98,108.31 573.35,108.05 573.71,109.12 574.07,108.40 574.44,108.75 574.80,109.97 575.17,111.11 575.53,109.86 575.90,109.46 576.26,108.34 576.63,109.19 577.00,111.99 577.36,112.71 577.73,111.28 578.09,110.93 578.45,110.70 578.82,112.42 579.18,110.87 579.55,112.43 579.91,111.01 580.28,111.12 580.64,111.19 581.01,111.69 581.38,112.59 581.74,113.79 582.11,110.72 582.47,111.79 582.84,111.21 583.20,109.72 583.56,110.47 583.93,111.81 584.29,114.60 584.66,115.01 585.02,116.16 585.39,114.65 585.75,115.79 586.12,114.52 586.49,114.18 586.85,113.52 587.21,113.30 587.58,112.26 587.94,113.43 588.31,113.38 588.67,115.74 589.04,115.98 589.40,114.72 589.77,114.78 590.13,111.55 590.50,108.50 590.87,107.77 591.23,106.50 591.60,107.73 591.96,107.37 592.32,110.27 592.69,111.66 593.05,111.72 593.42,112.80 593.78,113.73 594.15,111.17 594.51,113.04 594.88,114.44 595.25,117.44 595.61,115.41 595.97,116.70 596.34,116.49 596.70,116.58 597.07,116.26 597.43,117.00 597.80,117.25 598.16,116.45 598.53,116.11 598.89,114.32 599.26,114.67 599.62,115.20 599.99,115.51 600.36,114.35 600.72,113.00 601.09,109.11 601.45,109.01 601.81,107.13 602.18,104.97 602.54,102.97 602.91,102.79 603.27,106.03 603.64,107.09 604.00,109.76 604.37,109.08 604.74,109.84 605.10,108.82 605.46,106.64 605.83,106.80 606.19,107.58 606.56,106.92 606.92,105.96 607.29,101.55 607.65,102.39 608.02,102.94 608.38,105.11 608.75,107.68 609.12,106.78 609.48,109.48 609.85,111.76 610.21,114.00 610.58,114.42 610.94,111.30 611.30,111.23 611.67,109.15 612.03,108.16 612.40,104.36 612.76,105.90 613.13,106.47 613.50,104.83 613.86,104.83 614.22,104.40 614.59,102.95 614.95,101.63 615.32,97.92 615.68,94.92 616.05,94.18 616.41,97.14 616.78,97.78 617.14,97.71 617.51,98.03 617.88,96.52 618.24,96.21 618.61,95.94 618.97,94.74 619.34,93.62 619.70,95.00 620.06,98.09 620.43,100.70 620.79,101.67 621.16,103.36 621.52,102.75 621.89,104.70 622.25,104.73 622.62,108.56 622.99,110.22 623.35,111.27 623.71,110.08 624.08,108.93 624.44,110.56 624.81,110.18 625.17,109.95 625.54,112.02 625.90,110.53 626.27,113.97 626.63,112.43 627.00,115.20 627.37,115.15 627.73,114.53 628.10,113.24 628.46,109.31 628.83,110.47 629.19,109.52 629.55,108.75 629.92,108.07 630.28,105.42 630.65,102.46 631.01,102.28 631.01,110.69 630.65,110.87 630.28,113.83 629.92,116.48 629.55,117.16 629.19,117.94 628.83,118.89 628.46,117.72 628.10,121.66 627.73,122.94 627.37,123.56 627.00,123.62 626.63,120.85 626.27,122.38 625.90,118.94 625.54,120.43 625.17,118.37 624.81,118.60 624.44,118.97 624.08,117.34 623.71,118.49 623.35,119.68 622.99,118.63 622.62,116.97 622.25,113.14 621.89,113.12 621.52,111.16 621.16,111.77 620.79,110.09 620.43,109.11 620.06,106.51 619.70,103.41 619.34,102.04 618.97,103.16 618.61,104.35 618.24,104.63 617.88,104.94 617.51,106.44 617.14,106.13 616.78,106.19 616.41,105.55 616.05,102.60 615.68,103.34 615.32,106.34 614.95,110.04 614.59,111.36 614.22,112.81 613.86,113.24 613.50,113.24 613.13,114.88 612.76,114.31 612.40,112.78 612.03,116.58 611.67,117.56 611.30,119.65 610.94,119.72 610.58,122.84 610.21,122.42 609.85,120.17 609.48,117.89 609.12,115.20 608.75,116.09 608.38,113.52 608.02,111.36 607.65,110.80 607.29,109.97 606.92,114.38 606.56,115.33 606.19,116.00 605.83,115.21 605.46,115.05 605.10,117.24 604.74,118.26 604.37,117.50 604.00,118.18 603.64,115.50 603.27,114.44 602.91,111.20 602.54,111.38 602.18,113.39 601.81,115.54 601.45,117.42 601.09,117.52 600.72,121.41 600.36,122.76 599.99,123.93 599.62,123.62 599.26,123.09 598.89,122.73 598.53,124.52 598.16,124.86 597.80,125.66 597.43,125.41 597.07,124.68 596.70,125.00 596.34,124.90 595.97,125.11 595.61,123.82 595.25,125.85 594.88,122.86 594.51,121.45 594.15,119.59 593.78,122.14 593.42,121.21 593.05,120.14 592.69,120.07 592.32,118.69 591.96,115.79 591.60,116.14 591.23,114.92 590.87,116.18 590.50,116.91 590.13,119.96 589.77,123.20 589.40,123.14 589.04,124.39 588.67,124.16 588.31,121.79 587.94,121.84 587.58,120.68 587.21,121.71 586.85,121.94 586.49,122.60 586.12,122.93 585.75,124.20 585.39,123.06 585.02,124.58 584.66,123.42 584.29,123.01 583.93,120.23 583.56,118.89 583.20,118.14 582.84,119.63 582.47,120.20 582.11,119.14 581.74,122.20 581.38,121.00 581.01,120.10 580.64,119.60 580.28,119.53 579.91,119.42 579.55,120.85 579.18,119.28 578.82,120.84 578.45,119.11 578.09,119.34 577.73,119.70 577.36,121.13 577.00,120.41 576.63,117.60 576.26,116.75 575.90,117.88 575.53,118.27 575.17,119.52 574.80,118.38 574.44,117.16 574.07,116.81 573.71,117.53 573.35,116.47 572.98,116.73 572.62,116.15 572.25,117.97 571.88,117.60 571.52,116.78 571.15,116.13 570.79,116.13 570.42,120.82 570.06,120.79 569.69,122.28 569.33,121.53 568.96,118.90 568.60,119.26 568.24,119.71 567.87,120.99 567.50,120.19 567.14,119.41 566.77,117.86 566.41,118.72 566.04,118.92 565.68,121.42 565.31,117.57 564.95,116.88 564.59,116.32 564.22,117.43 563.86,116.19 563.49,113.05 563.12,111.14 562.76,107.70 562.39,105.80 562.03,105.86 561.66,107.48 561.30,107.60 560.93,108.20 560.57,111.13 560.20,113.97 559.84,117.49 559.48,117.27 559.11,116.69 558.75,114.63 558.38,113.96 558.01,111.19 557.65,111.50 557.28,109.08 556.92,109.74 556.55,107.81 556.19,108.49 555.82,106.98 555.46,105.05 555.10,103.15 554.73,101.58 554.37,99.63 554.00,102.05 553.63,101.68 553.27,102.80 552.90,103.48 552.54,106.60 552.17,107.14 551.81,107.93 551.44,109.31 551.08,110.49 550.71,110.78 550.35,113.28 549.99,114.82 549.62,110.46 549.25,110.22 548.89,110.32 548.52,106.94 548.16,106.15 547.79,104.54 547.43,105.46 547.06,106.40 546.70,104.58 546.33,107.94 545.97,109.69 545.61,111.43 545.24,110.19 544.88,110.89 544.51,111.55 544.14,113.92 543.78,113.38 543.41,110.21 543.05,106.74 542.68,105.35 542.32,105.53 541.95,103.21 541.59,100.88 541.22,98.92 540.86,97.27 540.50,99.20 540.13,99.10 539.76,101.20 539.40,102.46 539.03,103.13 538.67,107.13 538.30,107.60 537.94,107.03 537.57,101.89 537.21,100.70 536.85,99.14 536.48,98.04 536.12,96.92 535.75,97.34 535.38,99.32 535.02,97.38 534.65,97.57 534.29,99.49 533.92,98.70 533.56,100.25 533.19,101.40 532.83,102.88 532.46,102.71 532.10,102.49 531.74,99.64 531.37,99.23 531.00,95.96 530.64,94.55 530.27,92.66 529.91,92.49 529.54,90.62 529.18,92.16 528.81,95.54 528.45,96.16 528.08,95.33 527.72,99.43 527.36,97.18 526.99,96.88 526.62,92.70 526.26,90.90 525.89,90.10 525.53,88.90 525.16,88.72 524.80,89.58 524.43,87.97 524.07,86.30 523.70,84.34 523.34,84.41 522.98,84.75 522.61,82.09 522.25,85.93 521.88,87.80 521.51,89.62 521.15,90.40 520.78,89.29 520.42,93.40 520.05,92.23 519.69,95.12 519.32,98.82 518.96,97.05 518.60,95.29 518.23,93.71 517.87,93.26 517.50,92.00 517.13,92.17 516.77,89.00 516.40,88.42 516.04,87.75 515.67,88.13 515.31,91.06 514.94,90.99 514.58,91.74 514.21,92.43 513.85,92.39 513.49,94.61 513.12,95.05 512.75,95.18 512.39,93.00 512.02,93.72 511.66,91.64 511.29,90.98 510.93,89.13 510.56,91.45 510.20,89.41 509.83,90.23 509.47,90.84 509.10,89.58 508.74,89.90 508.38,89.11 508.01,86.98 507.64,89.28 507.28,89.44 506.91,90.62 506.55,88.04 506.18,86.18 505.82,85.57 505.45,88.97 505.09,87.51 504.72,84.49 504.36,86.15 504.00,85.46 503.63,84.65 503.26,85.91 502.90,88.05 502.53,88.93 502.17,85.11 501.80,82.08 501.44,80.77 501.07,82.10 500.71,83.02 500.34,81.73 499.98,77.98 499.61,74.23 499.25,75.09 498.88,75.89 498.52,74.74 498.15,71.66 497.79,69.94 497.42,70.84 497.06,75.09 496.69,76.45 496.33,75.70 495.96,76.30 495.60,78.05 495.23,80.01 494.87,81.00 494.50,83.22 494.14,83.29 493.77,84.07 493.41,80.70 493.04,79.93 492.68,78.43 492.31,80.33 491.95,82.39 491.58,81.82 491.22,81.52 490.85,80.56 490.49,82.75 490.12,84.19 489.76,85.37 489.39,83.13 489.03,81.37 488.66,79.37 488.30,80.32 487.94,79.74 487.57,78.00 487.20,78.16 486.84,77.13 486.47,77.48 486.11,76.77 485.75,76.94 485.38,77.48 485.01,78.23 484.65,76.34 484.28,74.90 483.92,73.29 483.55,70.44 483.19,64.19 482.82,60.64 482.46,57.89 482.09,53.51 481.73,49.78 481.36,45.61 481.00,43.24" fill="#9be59b" fill-opacity="0.14" stroke="none"/><polyline points="466.40,31.30 466.76,31.30 467.13,31.30 467.50,31.30 467.86,31.30 468.22,31.30 468.59,31.30 468.95,31.30 469.32,31.30 469.69,31.30 470.05,31.30 470.41,31.30 470.78,31.30 471.14,31.30 471.51,31.30 471.88,31.30 472.24,31.30 472.60,31.30 472.97,31.30 473.33,31.30 473.70,31.30 474.06,31.30 474.43,31.30 474.79,31.30 475.16,31.30 475.52,31.30 475.89,31.30 476.25,31.30 476.62,31.30 476.98,31.30 477.35,31.30 477.71,31.30 478.08,31.30 478.44,31.30 478.81,31.30 479.17,31.30 479.54,31.30 479.90,31.40 480.27,37.10 480.63,41.19 481.00,43.70 481.36,41.07 481.73,44.31 482.09,46.92 482.46,49.63 482.82,51.82 483.19,58.16 483.55,61.71 483.92,63.33 484.28,64.21 484.65,62.53 485.01,64.27 485.38,65.44 485.75,66.24 486.11,66.52 486.47,65.69 486.84,63.63 487.20,63.42 487.57,65.72 487.94,66.96 488.30,66.59 488.66,67.11 489.03,66.08 489.39,65.03 489.76,67.06 490.12,66.10 490.49,67.04 490.85,61.98 491.22,60.24 491.58,59.83 491.95,61.58 492.31,61.06 492.68,59.72 493.04,59.52 493.41,60.52 493.77,62.51 494.14,63.43 494.50,63.17 494.87,63.16 495.23,63.14 495.60,65.59 495.96,63.69 496.33,62.84 496.69,60.61 497.06,63.10 497.42,61.36 497.79,63.23 498.15,59.28 498.52,59.17 498.88,57.77 499.25,57.21 499.61,56.15 499.98,58.12 500.34,57.01 500.71,59.56 501.07,61.33 501.44,61.12 501.80,61.13 502.17,60.76 502.53,59.25 502.90,58.34 503.26,57.54 503.63,59.28 504.00,57.55 504.36,60.59 504.72,59.31 505.09,58.98 505.45,60.46 505.82,63.56 506.18,65.04 506.55,67.65 506.91,71.55 507.28,70.39 507.64,71.07 508.01,71.60 508.38,74.07 508.74,76.02 509.10,74.92 509.47,72.54 509.83,71.83 510.20,73.47 510.56,73.39 510.93,70.51 511.29,66.45 511.66,64.88 512.02,65.47 512.39,65.16 512.75,62.17 513.12,61.96 513.49,59.88 513.85,58.42 514.21,58.02 514.58,57.00 514.94,57.10 515.31,59.11 515.67,61.24 516.04,59.66 516.40,62.13 516.77,63.08 517.13,67.40 517.50,68.64 517.87,69.39 518.23,68.57 518.60,66.97 518.96,67.58 519.32,66.94 519.69,67.37 520.05,66.55 520.42,68.06 520.78,65.62 521.15,70.64 521.51,69.20 521.88,69.29 522.25,71.73 522.61,71.69 522.98,70.88 523.34,69.97 523.70,70.59 524.07,67.97 524.43,64.91 524.80,62.69 525.16,63.35 525.53,61.29 525.89,60.18 526.26,58.06 526.62,58.33 526.99,60.59 527.36,62.52 527.72,64.49 528.08,64.77 528.45,63.65 528.81,64.72 529.18,68.37 529.54,68.99 529.91,70.82 530.27,69.42 530.64,70.43 531.00,72.94 531.37,74.95 531.74,75.51 532.10,77.44 532.46,81.22 532.83,80.79 533.19,79.55 533.56,77.86 533.92,76.28 534.29,77.42 534.65,75.87 535.02,74.80 535.38,76.11 535.75,76.15 536.12,75.52 536.48,75.00 536.85,76.01 537.21,75.76 537.57,76.39 537.94,76.11 538.30,77.41 538.67,78.32 539.03,80.64 539.40,83.04 539.76,80.67 540.13,80.06 540.50,78.78 540.86,81.32 541.22,81.35 541.59,84.15 541.95,83.09 542.32,84.16 542.68,84.31 543.05,83.56 543.41,84.83 543.78,83.92 544.14,85.49 544.51,85.06 544.88,85.97 545.24,85.84 545.61,83.54 545.97,81.62 546.33,81.27 546.70,82.81 547.06,81.34 547.43,81.33 547.79,80.39 548.16,77.91 548.52,76.61 548.89,77.71 549.25,78.06 549.62,79.33 549.99,81.38 550.35,82.77 550.71,84.79 551.08,86.76 551.44,88.31 551.81,89.01 552.17,89.53 552.54,89.56 552.90,89.56 553.27,91.04 553.63,93.81 554.00,94.14 554.37,95.74 554.73,91.86 555.10,91.52 555.46,91.90 555.82,94.54 556.19,90.29 556.55,89.10 556.92,86.69 557.28,85.33 557.65,85.57 558.01,83.36 558.38,82.97 558.75,81.55 559.11,81.84 559.48,79.11 559.84,78.21 560.20,74.27 560.57,72.07 560.93,72.93 561.30,73.72 561.66,77.49 562.03,75.49 562.39,76.90 562.76,79.82 563.12,81.56 563.49,84.13 563.86,84.29 564.22,87.66 564.59,86.07 564.95,88.16 565.31,87.79 565.68,92.04 566.04,91.86 566.41,94.10 566.77,91.99 567.14,91.54 567.50,94.14 567.87,94.82 568.24,95.79 568.60,94.94 568.96,95.32 569.33,96.76 569.69,98.34 570.06,99.82 570.42,99.35 570.79,101.46 571.15,99.66 571.52,101.26 571.88,100.70 572.25,100.66 572.62,98.04 572.98,98.13 573.35,98.06 573.71,96.84 574.07,95.24 574.44,94.94 574.80,93.58 575.17,91.63 575.53,90.55 575.90,89.06 576.26,87.68 576.63,90.26 577.00,87.87 577.36,87.36 577.73,89.95 578.09,89.47 578.45,91.35 578.82,88.77 579.18,90.45 579.55,90.48 579.91,88.72 580.28,88.25 580.64,90.36 581.01,91.05 581.38,94.86 581.74,94.96 582.11,95.11 582.47,92.54 582.84,96.46 583.20,97.11 583.56,97.79 583.93,96.47 584.29,100.25 584.66,101.61 585.02,103.52 585.39,102.50 585.75,102.88 586.12,98.13 586.49,98.37 586.85,99.07 587.21,98.30 587.58,95.25 587.94,95.16 588.31,98.35 588.67,95.24 589.04,92.61 589.40,89.77 589.77,91.03 590.13,91.36 590.50,89.58 590.87,87.32 591.23,86.47 591.60,86.02 591.96,87.27 592.32,85.11 592.69,85.36 593.05,83.91 593.42,83.65 593.78,84.48 594.15,88.35 594.51,89.36 594.88,90.83 595.25,89.72 595.61,89.24 595.97,92.79 596.34,96.63 596.70,97.24 597.07,94.46 597.43,95.93 597.80,99.52 598.16,98.28 598.53,97.06 598.89,99.47 599.26,101.11 599.62,101.50 599.99,102.66 600.36,103.09 600.72,102.88 601.09,101.71 601.45,98.84 601.81,97.24 602.18,97.64 602.54,98.88 602.91,100.69 603.27,99.58 603.64,96.46 604.00,97.29 604.37,97.13 604.74,100.61 605.10,102.25 605.46,102.80 605.83,102.76 606.19,103.10 606.56,105.71 606.92,101.64 607.29,100.16 607.65,98.50 608.02,101.33 608.38,97.88 608.75,94.86 609.12,94.26 609.48,91.94 609.85,91.18 610.21,90.24 610.58,89.83 610.94,91.27 611.30,92.32 611.67,94.01 612.03,93.01 612.40,96.19 612.76,97.25 613.13,95.30 613.50,94.84 613.86,97.94 614.22,98.91 614.59,100.90 614.95,98.23 615.32,94.30 615.68,93.56 616.05,95.13 616.41,96.08 616.78,95.10 617.14,94.56 617.51,92.57 617.88,88.97 618.24,85.96 618.61,82.16 618.97,77.50 619.34,74.92 619.70,73.34 620.06,76.37 620.43,77.29 620.79,79.39 621.16,77.34 621.52,79.63 621.89,79.71 622.25,80.09 622.62,82.04 622.99,84.39 623.35,89.14 623.71,92.22 624.08,95.74 624.44,98.29 624.81,99.73 625.17,100.53 625.54,101.04 625.90,103.88 626.27,105.63 626.63,106.41 627.00,105.82 627.37,106.24 627.73,104.53 628.10,101.79 628.46,98.85 628.83,98.16 629.19,95.50 629.55,94.05 629.92,91.13 630.28,94.04 630.65,96.09 631.01,97.59" fill="none" stroke="#7c7c7c" stroke-width="0.95" stroke-opacity="1.0" stroke-linejoin="round" /><polygon points="482.09,46.03 482.46,50.41 482.82,53.16 483.19,56.71 483.55,62.96 483.92,65.81 484.28,67.42 484.65,68.86 485.01,70.75 485.38,70.00 485.75,69.46 486.11,69.29 486.47,70.00 486.84,69.65 487.20,70.68 487.57,70.52 487.94,72.26 488.30,72.84 488.66,71.89 489.03,73.89 489.39,75.65 489.76,77.89 490.12,76.71 490.49,75.27 490.85,73.08 491.22,74.04 491.58,74.34 491.95,74.91 492.31,72.85 492.68,70.95 493.04,72.45 493.41,73.22 493.77,76.59 494.14,75.82 494.50,75.74 494.87,73.53 495.23,72.53 495.60,70.57 495.96,68.82 496.33,68.22 496.69,68.97 497.06,67.61 497.42,63.36 497.79,62.46 498.15,64.18 498.52,67.26 498.88,68.42 499.25,67.61 499.61,66.76 499.98,70.50 500.34,74.25 500.71,75.54 501.07,74.62 501.44,73.30 501.80,74.60 502.17,77.63 502.53,81.45 502.90,80.57 503.26,78.43 503.63,77.17 504.00,77.99 504.36,78.67 504.72,77.01 505.09,80.03 505.45,81.50 505.82,78.10 506.18,78.71 506.55,80.56 506.91,83.14 507.28,81.96 507.64,81.80 508.01,79.50 508.38,81.63 508.74,82.42 509.10,82.10 509.47,83.36 509.83,82.75 510.20,81.94 510.56,83.98 510.93,81.65 511.29,83.50 511.66,84.16 512.02,86.25 512.39,85.52 512.75,87.70 513.12,87.57 513.49,87.13 513.85,84.91 514.21,84.96 514.58,84.27 514.94,83.51 515.31,83.58 515.67,80.65 516.04,80.27 516.40,80.94 516.77,81.52 517.13,84.69 517.50,84.52 517.87,85.78 518.23,86.23 518.60,87.81 518.96,89.57 519.32,91.34 519.69,87.64 520.05,84.75 520.42,85.92 520.78,81.81 521.15,82.92 521.51,82.14 521.88,80.32 522.25,78.46 522.61,74.61 522.98,77.27 523.34,76.93 523.70,76.86 524.07,78.82 524.43,80.49 524.80,82.10 525.16,81.24 525.53,81.42 525.89,82.62 526.26,83.42 526.62,85.22 526.99,89.41 527.36,89.70 527.72,91.95 528.08,87.85 528.45,88.68 528.81,88.06 529.18,84.68 529.54,83.14 529.91,85.01 530.27,85.18 530.64,87.07 531.00,88.48 531.37,91.75 531.74,92.16 532.10,95.01 532.46,95.23 532.83,95.40 533.19,93.92 533.56,92.77 533.92,91.22 534.29,92.01 534.65,90.09 535.02,89.90 535.38,91.84 535.75,89.86 536.12,89.44 536.48,90.56 536.85,91.66 537.21,93.22 537.57,94.41 537.94,99.55 538.30,100.12 538.67,99.65 539.03,95.65 539.40,94.98 539.76,93.72 540.13,91.62 540.50,91.73 540.86,89.79 541.22,91.44 541.59,93.40 541.95,95.73 542.32,98.05 542.68,97.87 543.05,99.26 543.41,102.73 543.78,105.90 544.14,106.44 544.51,104.07 544.88,103.41 545.24,102.71 545.61,103.95 545.97,102.21 546.33,100.47 546.70,97.10 547.06,98.92 547.43,97.99 547.79,97.06 548.16,98.67 548.52,99.46 548.89,102.84 549.25,102.74 549.62,102.98 549.99,107.34 550.35,105.80 550.71,103.30 551.08,103.01 551.44,101.83 551.81,100.45 552.17,99.66 552.54,99.12 552.90,96.00 553.27,95.32 553.63,94.20 554.00,94.57 554.37,92.15 554.73,94.10 555.10,95.67 555.46,97.57 555.82,99.50 556.19,101.01 556.55,100.33 556.92,102.26 557.28,101.60 557.65,104.02 558.01,103.72 558.38,106.48 558.75,107.16 559.11,109.22 559.48,109.79 559.84,110.01 560.20,106.50 560.57,103.65 560.93,100.72 561.30,100.13 561.66,100.00 562.03,98.38 562.39,98.32 562.76,100.22 563.12,103.67 563.49,105.57 563.86,108.71 564.22,109.96 564.59,108.84 564.95,109.40 565.31,110.09 565.68,113.95 566.04,111.44 566.41,111.24 566.77,110.38 567.14,111.93 567.50,112.71 567.87,113.51 568.24,112.23 568.60,111.79 568.96,111.43 569.33,114.06 569.69,114.80 570.06,113.31 570.42,113.34 570.79,108.65 571.15,108.65 571.52,109.31 571.88,110.13 572.25,110.49 572.62,108.67 572.98,109.25 573.35,108.99 573.71,110.05 574.07,109.33 574.44,109.68 574.80,110.90 575.17,112.04 575.53,110.80 575.90,110.40 576.26,109.28 576.63,110.12 577.00,112.93 577.36,113.65 577.73,112.22 578.09,111.86 578.45,111.63 578.82,113.36 579.18,111.80 579.55,113.37 579.91,111.94 580.28,112.05 580.64,112.12 581.01,112.62 581.38,113.52 581.74,114.72 582.11,111.66 582.47,112.72 582.84,112.15 583.20,110.66 583.56,111.41 583.93,112.75 584.29,115.53 584.66,115.95 585.02,117.10 585.39,115.58 585.75,116.73 586.12,115.45 586.49,115.12 586.85,114.46 587.21,114.23 587.58,113.20 587.94,114.36 588.31,114.31 588.67,116.68 589.04,116.91 589.40,115.66 589.77,115.72 590.13,112.48 590.50,109.43 590.87,108.70 591.23,107.44 591.60,108.66 591.96,108.31 592.32,111.21 592.69,112.59 593.05,112.66 593.42,113.74 593.78,114.66 594.15,112.11 594.51,113.97 594.88,115.38 595.25,118.37 595.61,116.34 595.97,117.63 596.34,117.42 596.70,117.52 597.07,117.20 597.43,117.94 597.80,118.18 598.16,117.39 598.53,117.04 598.89,115.25 599.26,115.61 599.62,116.14 599.99,116.45 600.36,115.28 600.72,113.93 601.09,110.04 601.45,109.94 601.81,108.06 602.18,105.91 602.54,103.90 602.91,103.72 603.27,106.96 603.64,108.02 604.00,110.70 604.37,110.02 604.74,110.78 605.10,109.76 605.46,107.57 605.83,107.73 606.19,108.52 606.56,107.86 606.92,106.90 607.29,102.49 607.65,103.32 608.02,103.88 608.38,106.04 608.75,108.61 609.12,107.72 609.48,110.41 609.85,112.70 610.21,114.94 610.58,115.36 610.94,112.24 611.30,112.17 611.67,110.08 612.03,109.10 612.40,105.30 612.76,106.83 613.13,107.40 613.50,105.77 613.86,105.76 614.22,105.33 614.59,103.88 614.95,102.57 615.32,98.86 615.68,95.86 616.05,95.12 616.41,98.07 616.78,98.71 617.14,98.65 617.51,98.97 617.88,97.46 618.24,97.15 618.61,96.88 618.97,95.68 619.34,94.56 619.70,95.93 620.06,99.03 620.43,101.63 620.79,102.61 621.16,104.29 621.52,103.69 621.89,105.64 622.25,105.66 622.62,109.49 622.99,111.15 623.35,112.21 623.71,111.01 624.08,109.86 624.44,111.49 624.81,111.12 625.17,110.89 625.54,112.95 625.90,111.46 626.27,114.91 626.63,113.37 627.00,116.14 627.37,116.09 627.73,115.46 628.10,114.18 628.46,110.24 628.83,111.41 629.19,110.46 629.55,109.68 629.92,109.00 630.28,106.35 630.65,103.39 631.01,103.21 631.01,105.09 630.65,105.52 630.28,109.02 629.92,110.95 629.55,110.28 629.19,110.95 628.83,111.72 628.46,112.15 628.10,115.89 627.73,116.39 627.37,116.85 627.00,116.65 626.63,113.49 626.27,116.02 625.90,112.30 625.54,113.73 625.17,112.45 624.81,112.01 624.44,111.85 624.08,110.55 623.71,111.13 623.35,112.99 622.99,111.99 622.62,109.56 622.25,106.79 621.89,107.49 621.52,106.29 621.16,107.92 620.79,104.36 620.43,103.77 620.06,101.56 619.70,96.76 619.34,95.68 618.97,97.84 618.61,97.81 618.24,97.24 617.88,98.54 617.51,99.01 617.14,98.99 616.78,99.46 616.41,98.18 616.05,95.35 615.68,96.27 615.32,99.90 614.95,103.41 614.59,103.98 614.22,105.37 613.86,106.29 613.50,106.21 613.13,109.40 612.76,107.50 612.40,105.93 612.03,110.18 611.67,111.95 611.30,113.44 610.94,112.53 610.58,115.97 610.21,115.08 609.85,113.91 609.48,111.04 609.12,109.26 608.75,110.39 608.38,108.39 608.02,107.47 607.65,105.19 607.29,104.09 606.92,108.38 606.56,109.10 606.19,109.28 605.83,109.68 605.46,108.63 605.10,109.82 604.74,111.71 604.37,111.34 604.00,112.68 603.64,109.84 603.27,108.44 602.91,104.36 602.54,104.08 602.18,106.39 601.81,108.35 601.45,110.50 601.09,111.31 600.72,114.31 600.36,116.11 599.99,116.98 599.62,116.50 599.26,117.23 598.89,115.75 598.53,117.54 598.16,118.14 597.80,118.53 597.43,118.56 597.07,117.49 596.70,119.50 596.34,119.65 595.97,121.24 595.61,116.58 595.25,118.41 594.88,116.56 594.51,115.32 594.15,113.28 593.78,116.79 593.42,117.29 593.05,116.80 592.69,116.92 592.32,113.98 591.96,110.82 591.60,109.94 591.23,109.48 590.87,109.50 590.50,110.90 590.13,112.62 589.77,115.80 589.40,117.61 589.04,118.16 588.67,117.04 588.31,114.67 587.94,115.34 587.58,116.11 587.21,117.67 586.85,116.72 586.49,116.84 586.12,117.08 585.75,118.57 585.39,117.07 585.02,118.51 584.66,117.92 584.29,116.47 583.93,113.19 583.56,111.61 583.20,110.80 582.84,112.22 582.47,113.40 582.11,111.74 581.74,115.03 581.38,113.86 581.01,113.02 580.64,112.57 580.28,112.81 579.91,112.23 579.55,113.45 579.18,111.84 578.82,113.86 578.45,112.23 578.09,113.46 577.73,115.09 577.36,116.31 577.00,116.04 576.63,113.63 576.26,112.64 575.90,113.57 575.53,113.22 575.17,114.20 574.80,113.38 574.44,111.23 574.07,109.40 573.71,110.85 573.35,109.80 572.98,110.28 572.62,109.00 572.25,110.71 571.88,110.69 571.52,109.35 571.15,110.19 570.79,110.00 570.42,114.20 570.06,115.10 569.69,115.42 569.33,115.54 568.96,114.19 568.60,113.74 568.24,113.21 567.87,114.76 567.50,113.43 567.14,113.43 566.77,113.47 566.41,112.99 566.04,112.59 565.68,115.37 565.31,110.66 564.95,111.02 564.59,108.94 564.22,110.89 563.86,110.02 563.49,105.62 563.12,105.42 562.76,101.10 562.39,98.78 562.03,98.51 561.66,100.59 561.30,101.69 560.93,101.90 560.57,104.21 560.20,106.78 559.84,110.68 559.48,110.08 559.11,110.24 558.75,109.06 558.38,109.26 558.01,105.67 557.65,105.81 557.28,103.10 556.92,102.33 556.55,100.40 556.19,101.53 555.82,100.23 555.46,97.57 555.10,96.03 554.73,94.27 554.37,93.78 554.00,96.16 553.63,95.83 553.27,96.11 552.90,97.19 552.54,99.23 552.17,100.63 551.81,100.48 551.44,102.17 551.08,103.43 550.71,104.54 550.35,107.35 549.99,107.50 549.62,103.28 549.25,104.71 548.89,105.38 548.52,101.47 548.16,99.72 547.79,98.44 547.43,98.11 547.06,100.32 546.70,98.51 546.33,101.30 545.97,102.34 545.61,104.09 545.24,104.65 544.88,104.99 544.51,105.37 544.14,107.49 543.78,106.84 543.41,102.97 543.05,99.47 542.68,98.66 542.32,98.99 541.95,96.56 541.59,93.79 541.22,91.88 540.86,90.58 540.50,91.87 540.13,91.66 539.76,94.11 539.40,95.39 539.03,96.48 538.67,99.91 538.30,100.13 537.94,100.34 537.57,96.30 537.21,95.72 536.85,93.10 536.48,92.62 536.12,91.38 535.75,90.49 535.38,92.61 535.02,89.95 534.65,90.49 534.29,93.06 533.92,92.49 533.56,93.37 533.19,95.12 532.83,97.11 532.46,97.11 532.10,97.75 531.74,94.24 531.37,92.72 531.00,88.57 530.64,87.32 530.27,85.43 529.91,85.22 529.54,83.45 529.18,85.30 528.81,89.15 528.45,90.78 528.08,89.25 527.72,94.01 527.36,91.90 526.99,89.82 526.62,86.36 526.26,83.84 525.89,84.79 525.53,83.96 525.16,83.11 524.80,83.22 524.43,81.07 524.07,79.91 523.70,77.23 523.34,77.25 522.98,77.64 522.61,75.58 522.25,78.62 521.88,80.89 521.51,82.75 521.15,84.61 520.78,84.39 520.42,86.65 520.05,85.94 519.69,88.45 519.32,91.76 518.96,90.52 518.60,89.15 518.23,88.32 517.87,87.55 517.50,86.37 517.13,86.44 516.77,83.19 516.40,81.63 516.04,81.09 515.67,81.23 515.31,84.16 514.94,84.62 514.58,85.87 514.21,85.92 513.85,87.33 513.49,88.96 513.12,88.82 512.75,89.12 512.39,87.28 512.02,86.64 511.66,84.96 511.29,85.22 510.93,83.16 510.56,85.93 510.20,85.49 509.83,86.17 509.47,86.43 509.10,84.12 508.74,83.74 508.38,81.90 508.01,79.59 507.64,83.74 507.28,83.97 506.91,85.09 506.55,83.63 506.18,82.17 505.82,80.56 505.45,83.99 505.09,82.13 504.72,78.70 504.36,79.98 504.00,78.39 503.63,77.26 503.26,78.43 502.90,80.74 502.53,82.01 502.17,77.64 501.80,75.41 501.44,74.57 501.07,75.63 500.71,75.93 500.34,76.23 499.98,71.61 499.61,68.22 499.25,68.43 498.88,69.51 498.52,68.33 498.15,65.23 497.79,63.00 497.42,65.17 497.06,70.21 496.69,69.90 496.33,68.73 495.96,69.80 495.60,70.59 495.23,73.11 494.87,74.14 494.50,75.78 494.14,75.88 493.77,77.80 493.41,74.72 493.04,74.73 492.68,73.66 492.31,76.23 491.95,77.87 491.58,76.43 491.22,74.79 490.85,73.26 490.49,76.71 490.12,78.58 489.76,79.14 489.39,76.92 489.03,75.52 488.66,71.92 488.30,73.50 487.94,74.54 487.57,72.18 487.20,71.86 486.84,72.98 486.47,71.82 486.11,69.38 485.75,69.48 485.38,70.76 485.01,73.10 484.65,72.01 484.28,71.45 483.92,70.12 483.55,67.89 483.19,62.16 482.82,58.07 482.46,53.61 482.09,48.85" fill="#2f9a3f" fill-opacity="0.4" stroke="none"/><polyline points="466.40,31.30 466.76,31.30 467.13,31.30 467.50,31.30 467.86,31.30 468.22,31.30 468.59,31.30 468.95,31.30 469.32,31.30 469.69,31.30 470.05,31.30 470.41,31.30 470.78,31.30 471.14,31.30 471.51,31.30 471.88,31.30 472.24,31.30 472.60,31.30 472.97,31.30 473.33,31.30 473.70,31.30 474.06,31.30 474.43,31.30 474.79,31.30 475.16,31.30 475.52,31.30 475.89,31.30 476.25,31.30 476.62,31.30 476.98,31.30 477.35,31.30 477.71,31.30 478.08,31.30 478.44,31.30 478.81,31.30 479.17,31.30 479.54,31.30 479.90,35.56 480.27,37.24 480.63,38.28 481.00,35.76 481.36,38.13 481.73,42.30 482.09,46.03 482.46,50.41 482.82,53.16 483.19,56.71 483.55,62.96 483.92,65.81 484.28,67.42 484.65,68.86 485.01,70.75 485.38,70.00 485.75,69.46 486.11,69.29 486.47,70.00 486.84,69.65 487.20,70.68 487.57,70.52 487.94,72.26 488.30,72.84 488.66,71.89 489.03,73.89 489.39,75.65 489.76,77.89 490.12,76.71 490.49,75.27 490.85,73.08 491.22,74.04 491.58,74.34 491.95,74.91 492.31,72.85 492.68,70.95 493.04,72.45 493.41,73.22 493.77,76.59 494.14,75.82 494.50,75.74 494.87,73.53 495.23,72.53 495.60,70.57 495.96,68.82 496.33,68.22 496.69,68.97 497.06,67.61 497.42,63.36 497.79,62.46 498.15,64.18 498.52,67.26 498.88,68.42 499.25,67.61 499.61,66.76 499.98,70.50 500.34,74.25 500.71,75.54 501.07,74.62 501.44,73.30 501.80,74.60 502.17,77.63 502.53,81.45 502.90,80.57 503.26,78.43 503.63,77.17 504.00,77.99 504.36,78.67 504.72,77.01 505.09,80.03 505.45,81.50 505.82,78.10 506.18,78.71 506.55,80.56 506.91,83.14 507.28,81.96 507.64,81.80 508.01,79.50 508.38,81.63 508.74,82.42 509.10,82.10 509.47,83.36 509.83,82.75 510.20,81.94 510.56,83.98 510.93,81.65 511.29,83.50 511.66,84.16 512.02,86.25 512.39,85.52 512.75,87.70 513.12,87.57 513.49,87.13 513.85,84.91 514.21,84.96 514.58,84.27 514.94,83.51 515.31,83.58 515.67,80.65 516.04,80.27 516.40,80.94 516.77,81.52 517.13,84.69 517.50,84.52 517.87,85.78 518.23,86.23 518.60,87.81 518.96,89.57 519.32,91.34 519.69,87.64 520.05,84.75 520.42,85.92 520.78,81.81 521.15,82.92 521.51,82.14 521.88,80.32 522.25,78.46 522.61,74.61 522.98,77.27 523.34,76.93 523.70,76.86 524.07,78.82 524.43,80.49 524.80,82.10 525.16,81.24 525.53,81.42 525.89,82.62 526.26,83.42 526.62,85.22 526.99,89.41 527.36,89.70 527.72,91.95 528.08,87.85 528.45,88.68 528.81,88.06 529.18,84.68 529.54,83.14 529.91,85.01 530.27,85.18 530.64,87.07 531.00,88.48 531.37,91.75 531.74,92.16 532.10,95.01 532.46,95.23 532.83,95.40 533.19,93.92 533.56,92.77 533.92,91.22 534.29,92.01 534.65,90.09 535.02,89.90 535.38,91.84 535.75,89.86 536.12,89.44 536.48,90.56 536.85,91.66 537.21,93.22 537.57,94.41 537.94,99.55 538.30,100.12 538.67,99.65 539.03,95.65 539.40,94.98 539.76,93.72 540.13,91.62 540.50,91.73 540.86,89.79 541.22,91.44 541.59,93.40 541.95,95.73 542.32,98.05 542.68,97.87 543.05,99.26 543.41,102.73 543.78,105.90 544.14,106.44 544.51,104.07 544.88,103.41 545.24,102.71 545.61,103.95 545.97,102.21 546.33,100.47 546.70,97.10 547.06,98.92 547.43,97.99 547.79,97.06 548.16,98.67 548.52,99.46 548.89,102.84 549.25,102.74 549.62,102.98 549.99,107.34 550.35,105.80 550.71,103.30 551.08,103.01 551.44,101.83 551.81,100.45 552.17,99.66 552.54,99.12 552.90,96.00 553.27,95.32 553.63,94.20 554.00,94.57 554.37,92.15 554.73,94.10 555.10,95.67 555.46,97.57 555.82,99.50 556.19,101.01 556.55,100.33 556.92,102.26 557.28,101.60 557.65,104.02 558.01,103.72 558.38,106.48 558.75,107.16 559.11,109.22 559.48,109.79 559.84,110.01 560.20,106.50 560.57,103.65 560.93,100.72 561.30,100.13 561.66,100.00 562.03,98.38 562.39,98.32 562.76,100.22 563.12,103.67 563.49,105.57 563.86,108.71 564.22,109.96 564.59,108.84 564.95,109.40 565.31,110.09 565.68,113.95 566.04,111.44 566.41,111.24 566.77,110.38 567.14,111.93 567.50,112.71 567.87,113.51 568.24,112.23 568.60,111.79 568.96,111.43 569.33,114.06 569.69,114.80 570.06,113.31 570.42,113.34 570.79,108.65 571.15,108.65 571.52,109.31 571.88,110.13 572.25,110.49 572.62,108.67 572.98,109.25 573.35,108.99 573.71,110.05 574.07,109.33 574.44,109.68 574.80,110.90 575.17,112.04 575.53,110.80 575.90,110.40 576.26,109.28 576.63,110.12 577.00,112.93 577.36,113.65 577.73,112.22 578.09,111.86 578.45,111.63 578.82,113.36 579.18,111.80 579.55,113.37 579.91,111.94 580.28,112.05 580.64,112.12 581.01,112.62 581.38,113.52 581.74,114.72 582.11,111.66 582.47,112.72 582.84,112.15 583.20,110.66 583.56,111.41 583.93,112.75 584.29,115.53 584.66,115.95 585.02,117.10 585.39,115.58 585.75,116.73 586.12,115.45 586.49,115.12 586.85,114.46 587.21,114.23 587.58,113.20 587.94,114.36 588.31,114.31 588.67,116.68 589.04,116.91 589.40,115.66 589.77,115.72 590.13,112.48 590.50,109.43 590.87,108.70 591.23,107.44 591.60,108.66 591.96,108.31 592.32,111.21 592.69,112.59 593.05,112.66 593.42,113.74 593.78,114.66 594.15,112.11 594.51,113.97 594.88,115.38 595.25,118.37 595.61,116.34 595.97,117.63 596.34,117.42 596.70,117.52 597.07,117.20 597.43,117.94 597.80,118.18 598.16,117.39 598.53,117.04 598.89,115.25 599.26,115.61 599.62,116.14 599.99,116.45 600.36,115.28 600.72,113.93 601.09,110.04 601.45,109.94 601.81,108.06 602.18,105.91 602.54,103.90 602.91,103.72 603.27,106.96 603.64,108.02 604.00,110.70 604.37,110.02 604.74,110.78 605.10,109.76 605.46,107.57 605.83,107.73 606.19,108.52 606.56,107.86 606.92,106.90 607.29,102.49 607.65,103.32 608.02,103.88 608.38,106.04 608.75,108.61 609.12,107.72 609.48,110.41 609.85,112.70 610.21,114.94 610.58,115.36 610.94,112.24 611.30,112.17 611.67,110.08 612.03,109.10 612.40,105.30 612.76,106.83 613.13,107.40 613.50,105.77 613.86,105.76 614.22,105.33 614.59,103.88 614.95,102.57 615.32,98.86 615.68,95.86 616.05,95.12 616.41,98.07 616.78,98.71 617.14,98.65 617.51,98.97 617.88,97.46 618.24,97.15 618.61,96.88 618.97,95.68 619.34,94.56 619.70,95.93 620.06,99.03 620.43,101.63 620.79,102.61 621.16,104.29 621.52,103.69 621.89,105.64 622.25,105.66 622.62,109.49 622.99,111.15 623.35,112.21 623.71,111.01 624.08,109.86 624.44,111.49 624.81,111.12 625.17,110.89 625.54,112.95 625.90,111.46 626.27,114.91 626.63,113.37 627.00,116.14 627.37,116.09 627.73,115.46 628.10,114.18 628.46,110.24 628.83,111.41 629.19,110.46 629.55,109.68 629.92,109.00 630.28,106.35 630.65,103.39 631.01,103.21" fill="none" stroke="#2f6a3c" stroke-width="0.95" stroke-opacity="1.0" stroke-linejoin="round" /></g>
<rect x="458.5" y="26.7" width="182.0" height="97.8" fill="none" stroke="#858585" stroke-width="1"/>
<line x1="456.7" x2="458.5" y1="113.10" y2="113.10" stroke="#858585" stroke-width="0.7"/>
<text x="455.7" y="114.90" font-size="5.1" text-anchor="end" fill="#222" stroke="#222" stroke-width="0.12">4500</text>
<line x1="456.7" x2="458.5" y1="101.41" y2="101.41" stroke="#858585" stroke-width="0.7"/>
<text x="455.7" y="103.21" font-size="5.1" text-anchor="end" fill="#222" stroke="#222" stroke-width="0.12">5000</text>
<line x1="456.7" x2="458.5" y1="89.73" y2="89.73" stroke="#858585" stroke-width="0.7"/>
<text x="455.7" y="91.53" font-size="5.1" text-anchor="end" fill="#222" stroke="#222" stroke-width="0.12">5500</text>
<line x1="456.7" x2="458.5" y1="78.04" y2="78.04" stroke="#858585" stroke-width="0.7"/>
<text x="455.7" y="79.84" font-size="5.1" text-anchor="end" fill="#222" stroke="#222" stroke-width="0.12">6000</text>
<line x1="456.7" x2="458.5" y1="66.36" y2="66.36" stroke="#858585" stroke-width="0.7"/>
<text x="455.7" y="68.16" font-size="5.1" text-anchor="end" fill="#222" stroke="#222" stroke-width="0.12">6500</text>
<line x1="456.7" x2="458.5" y1="54.67" y2="54.67" stroke="#858585" stroke-width="0.7"/>
<text x="455.7" y="56.47" font-size="5.1" text-anchor="end" fill="#222" stroke="#222" stroke-width="0.12">7000</text>
<line x1="456.7" x2="458.5" y1="42.99" y2="42.99" stroke="#858585" stroke-width="0.7"/>
<text x="455.7" y="44.79" font-size="5.1" text-anchor="end" fill="#222" stroke="#222" stroke-width="0.12">7500</text>
<line x1="456.7" x2="458.5" y1="31.30" y2="31.30" stroke="#858585" stroke-width="0.7"/>
<text x="455.7" y="33.10" font-size="5.1" text-anchor="end" fill="#222" stroke="#222" stroke-width="0.12">8000</text>
<line x1="464.40" x2="464.40" y1="124.5" y2="126.3" stroke="#858585" stroke-width="0.7"/>
<text x="464.40" y="131.00" font-size="5.1" text-anchor="middle" fill="#222" stroke="#222" stroke-width="0.12">0</text>
<line x1="500.90" x2="500.90" y1="124.5" y2="126.3" stroke="#858585" stroke-width="0.7"/>
<text x="500.90" y="131.00" font-size="5.1" text-anchor="middle" fill="#222" stroke="#222" stroke-width="0.12">100</text>
<line x1="537.40" x2="537.40" y1="124.5" y2="126.3" stroke="#858585" stroke-width="0.7"/>
<text x="537.40" y="131.00" font-size="5.1" text-anchor="middle" fill="#222" stroke="#222" stroke-width="0.12">200</text>
<line x1="573.90" x2="573.90" y1="124.5" y2="126.3" stroke="#858585" stroke-width="0.7"/>
<text x="573.90" y="131.00" font-size="5.1" text-anchor="middle" fill="#222" stroke="#222" stroke-width="0.12">300</text>
<line x1="610.40" x2="610.40" y1="124.5" y2="126.3" stroke="#858585" stroke-width="0.7"/>
<text x="610.40" y="131.00" font-size="5.1" text-anchor="middle" fill="#222" stroke="#222" stroke-width="0.12">400</text>
<text x="549.50" y="24.90" font-size="7.25" font-weight="bold" text-anchor="middle" fill="#111">Max Response Length vs Steps</text>
<text x="549.50" y="138.30" font-size="6.3" text-anchor="middle" fill="#333">Training Steps</text>
<text transform="translate(441.30,75.60) rotate(-90)" font-size="6.3" text-anchor="middle" fill="#333">Max Response Length</text>
<rect x="589.5" y="30.5" width="48.8" height="21" rx="1.5" fill="#fff" fill-opacity="0.95" stroke="#d8d8d8" stroke-width="0.6"/>
<line x1="592.0" x2="606.0" y1="35.8" y2="35.8" stroke="#9a9a9a" stroke-width="1.3"/>
<line x1="592.0" x2="606.0" y1="45.8" y2="45.8" stroke="#5a665c" stroke-width="1.3"/>
<text x="611.5" y="38.2" font-size="6.85" fill="#4a4a4a">GRPO</text>
<text x="611.5" y="48.3" font-size="6.85" font-weight="bold" fill="#111">GDPO</text><clipPath id="c3"><rect x="38.2" y="251.6" width="183.39999999999998" height="97.79999999999998"/></clipPath>
<rect x="38.2" y="251.6" width="183.39999999999998" height="97.79999999999998" fill="#fff"/>
<line x1="38.2" x2="221.6" y1="349.10" y2="349.10" stroke="#cdcdcd" stroke-width="0.8"/>
<line x1="38.2" x2="221.6" y1="334.50" y2="334.50" stroke="#cdcdcd" stroke-width="0.8"/>
<line x1="38.2" x2="221.6" y1="319.90" y2="319.90" stroke="#cdcdcd" stroke-width="0.8"/>
<line x1="38.2" x2="221.6" y1="305.30" y2="305.30" stroke="#cdcdcd" stroke-width="0.8"/>
<line x1="38.2" x2="221.6" y1="290.70" y2="290.70" stroke="#cdcdcd" stroke-width="0.8"/>
<line x1="38.2" x2="221.6" y1="276.10" y2="276.10" stroke="#cdcdcd" stroke-width="0.8"/>
<line x1="38.2" x2="221.6" y1="261.50" y2="261.50" stroke="#cdcdcd" stroke-width="0.8"/>
<line x1="45.90" x2="45.90" y1="251.6" y2="349.4" stroke="#cdcdcd" stroke-width="0.8"/>
<line x1="83.60" x2="83.60" y1="251.6" y2="349.4" stroke="#cdcdcd" stroke-width="0.8"/>
<line x1="121.30" x2="121.30" y1="251.6" y2="349.4" stroke="#cdcdcd" stroke-width="0.8"/>
<line x1="159.00" x2="159.00" y1="251.6" y2="349.4" stroke="#cdcdcd" stroke-width="0.8"/>
<line x1="196.70" x2="196.70" y1="251.6" y2="349.4" stroke="#cdcdcd" stroke-width="0.8"/>
<g clip-path="url(#c3)"><polygon points="45.90,261.50 46.31,263.96 46.73,266.43 47.14,268.44 47.56,269.24 47.97,270.04 48.39,270.84 48.80,271.65 49.22,272.45 49.63,273.25 50.05,274.06 50.46,275.20 50.88,276.35 51.29,277.50 51.71,278.64 52.12,279.79 52.54,280.94 52.95,282.09 53.36,283.23 53.78,284.38 54.19,285.53 54.61,286.67 55.02,287.82 55.44,288.71 55.85,288.93 56.27,289.14 56.68,289.36 57.10,289.57 57.51,289.79 57.93,290.00 58.34,290.21 58.76,290.43 59.17,290.64 59.59,290.86 60.00,291.07 60.41,291.28 60.83,291.50 61.24,291.55 61.66,291.50 62.07,291.45 62.49,291.40 62.90,291.35 63.32,291.30 63.73,291.26 64.15,291.21 64.56,291.16 64.98,291.11 65.39,291.06 65.81,291.02 66.22,290.97 66.64,290.92 67.05,290.87 67.46,290.82 67.88,290.77 68.29,290.73 68.71,290.49 69.12,290.04 69.54,289.58 69.95,289.13 70.37,288.67 70.78,288.22 71.20,287.76 71.61,287.31 72.03,286.85 72.44,286.40 72.86,285.94 73.27,285.67 73.68,285.54 74.10,285.42 74.51,285.30 74.93,285.17 75.34,285.05 75.76,284.92 76.17,284.80 76.59,284.68 77.00,284.55 77.42,284.43 77.83,284.30 78.25,284.18 78.66,284.06 79.08,283.93 79.49,283.81 79.91,283.68 80.32,283.56 80.73,283.43 81.15,283.31 81.56,283.19 81.98,283.06 82.39,282.94 82.81,282.81 83.22,282.69 83.64,282.57 84.05,282.44 84.47,282.32 84.88,282.19 85.30,282.07 85.71,281.95 86.13,281.82 86.54,281.70 86.96,281.57 87.37,281.45 87.78,281.32 88.20,281.20 88.61,281.08 89.03,280.95 89.44,280.83 89.86,280.75 90.27,280.71 90.69,280.67 91.10,280.62 91.52,280.58 91.93,280.54 92.35,280.50 92.76,280.46 93.18,280.41 93.59,280.37 94.01,280.33 94.42,280.29 94.83,280.25 95.25,280.20 95.66,280.16 96.08,280.12 96.49,280.08 96.91,280.04 97.32,280.00 97.74,279.95 98.15,279.91 98.57,279.85 98.98,279.78 99.40,279.70 99.81,279.63 100.23,279.56 100.64,279.48 101.06,279.41 101.47,279.34 101.88,279.27 102.30,279.19 102.71,279.12 103.13,279.05 103.54,278.97 103.96,278.90 104.37,278.83 104.79,278.75 105.20,278.68 105.62,278.61 106.03,278.54 106.45,278.46 106.86,278.39 107.28,278.32 107.69,278.24 108.10,278.17 108.52,278.10 108.93,278.02 109.35,277.95 109.76,277.88 110.18,277.81 110.59,277.73 111.01,277.66 111.42,277.59 111.84,277.51 112.25,277.44 112.67,277.37 113.08,277.29 113.50,277.22 113.91,277.15 114.33,277.08 114.74,277.00 115.15,276.91 115.57,276.82 115.98,276.72 116.40,276.62 116.81,276.52 117.23,276.43 117.64,276.33 118.06,276.23 118.47,276.14 118.89,276.04 119.30,275.94 119.72,275.84 120.13,275.75 120.55,275.65 120.96,275.55 121.38,275.45 121.79,275.36 122.20,275.26 122.62,275.16 123.03,275.06 123.45,274.97 123.86,274.87 124.28,274.77 124.69,274.68 125.11,274.58 125.52,274.48 125.94,274.38 126.35,274.29 126.77,274.19 127.18,274.09 127.60,274.02 128.01,273.97 128.43,273.91 128.84,273.86 129.25,273.80 129.67,273.75 130.08,273.69 130.50,273.64 130.91,273.58 131.33,273.53 131.74,273.47 132.16,273.42 132.57,273.36 132.99,273.31 133.40,273.25 133.82,273.20 134.23,273.14 134.65,273.09 135.06,273.03 135.48,272.98 135.89,272.92 136.30,272.87 136.72,272.81 137.13,272.76 137.55,272.70 137.96,272.65 138.38,272.60 138.79,272.54 139.21,272.49 139.62,272.43 140.04,272.38 140.45,272.32 140.87,272.27 141.28,272.21 141.70,272.16 142.11,272.10 142.53,272.05 142.94,271.98 143.35,271.90 143.77,271.81 144.18,271.73 144.60,271.64 145.01,271.56 145.43,271.48 145.84,271.39 146.26,271.31 146.67,271.22 147.09,271.14 147.50,271.05 147.92,270.97 148.33,270.89 148.75,270.80 149.16,270.72 149.57,270.63 149.99,270.55 150.40,270.46 150.82,270.38 151.23,270.30 151.65,270.21 152.06,270.13 152.48,270.04 152.89,269.96 153.31,269.88 153.72,269.79 154.14,269.71 154.55,269.62 154.97,269.54 155.38,269.45 155.80,269.37 156.21,269.29 156.62,269.20 157.04,269.12 157.45,269.03 157.87,268.95 158.28,268.86 158.70,268.78 159.11,268.70 159.53,268.61 159.94,268.53 160.36,268.44 160.77,268.36 161.19,268.27 161.60,268.19 162.02,268.11 162.43,268.02 162.85,267.94 163.26,267.85 163.67,267.77 164.09,267.68 164.50,267.60 164.92,267.52 165.33,267.43 165.75,267.35 166.16,267.31 166.58,267.27 166.99,267.23 167.41,267.19 167.82,267.16 168.24,267.12 168.65,267.08 169.07,267.04 169.48,267.01 169.90,266.97 170.31,266.93 170.72,266.89 171.14,266.86 171.55,266.82 171.97,266.78 172.38,266.74 172.80,266.71 173.21,266.67 173.63,266.63 174.04,266.59 174.46,266.56 174.87,266.52 175.29,266.48 175.70,266.44 176.12,266.41 176.53,266.37 176.95,266.33 177.36,266.29 177.77,266.26 178.19,266.22 178.60,266.18 179.02,266.14 179.43,266.11 179.85,266.07 180.26,266.03 180.68,265.99 181.09,265.96 181.51,265.92 181.92,265.88 182.34,265.84 182.75,265.81 183.17,265.77 183.58,265.73 184.00,265.69 184.41,265.66 184.82,265.62 185.24,265.58 185.65,265.54 186.07,265.51 186.48,265.47 186.90,265.43 187.31,265.39 187.73,265.36 188.14,265.32 188.56,265.27 188.97,265.22 189.39,265.16 189.80,265.10 190.22,265.04 190.63,264.98 191.05,264.92 191.46,264.87 191.87,264.81 192.29,264.75 192.70,264.69 193.12,264.63 193.53,264.57 193.95,264.52 194.36,264.46 194.78,264.40 195.19,264.34 195.61,264.28 196.02,264.22 196.44,264.17 196.85,264.11 197.27,264.05 197.68,263.99 198.09,263.93 198.51,263.87 198.92,263.81 199.34,263.76 199.75,263.70 200.17,263.64 200.58,263.58 201.00,263.52 201.41,263.46 201.83,263.41 202.24,263.35 202.66,263.29 203.07,263.23 203.49,263.17 203.90,263.11 204.32,263.06 204.73,263.00 205.14,262.93 205.56,262.86 205.97,262.79 206.39,262.71 206.80,262.64 207.22,262.57 207.63,262.50 208.05,262.42 208.46,262.35 208.88,262.28 209.29,262.20 209.71,262.13 210.12,262.06 210.54,261.98 210.95,261.91 211.37,261.84 211.78,261.77 212.19,261.69 212.61,261.62 213.02,261.55 213.02,268.55 212.61,268.63 212.19,268.70 211.78,268.77 211.37,268.85 210.95,268.92 210.54,268.99 210.12,269.07 209.71,269.14 209.29,269.21 208.88,269.28 208.46,269.36 208.05,269.43 207.63,269.50 207.22,269.58 206.80,269.65 206.39,269.72 205.97,269.80 205.56,269.87 205.14,269.94 204.73,270.01 204.32,270.06 203.90,270.12 203.49,270.18 203.07,270.24 202.66,270.30 202.24,270.36 201.83,270.41 201.41,270.47 201.00,270.53 200.58,270.59 200.17,270.65 199.75,270.71 199.34,270.76 198.92,270.82 198.51,270.88 198.09,270.94 197.68,271.00 197.27,271.06 196.85,271.11 196.44,271.17 196.02,271.23 195.61,271.29 195.19,271.35 194.78,271.41 194.36,271.47 193.95,271.52 193.53,271.58 193.12,271.64 192.70,271.70 192.29,271.76 191.87,271.82 191.46,271.87 191.05,271.93 190.63,271.99 190.22,272.05 189.80,272.11 189.39,272.17 188.97,272.22 188.56,272.28 188.14,272.33 187.73,272.37 187.31,272.40 186.90,272.44 186.48,272.48 186.07,272.52 185.65,272.55 185.24,272.59 184.82,272.63 184.41,272.67 184.00,272.70 183.58,272.74 183.17,272.78 182.75,272.81 182.34,272.85 181.92,272.89 181.51,272.93 181.09,272.96 180.68,273.00 180.26,273.04 179.85,273.08 179.43,273.11 179.02,273.15 178.60,273.19 178.19,273.23 177.77,273.26 177.36,273.30 176.95,273.34 176.53,273.38 176.12,273.41 175.70,273.45 175.29,273.49 174.87,273.53 174.46,273.56 174.04,273.60 173.63,273.64 173.21,273.68 172.80,273.71 172.38,273.75 171.97,273.79 171.55,273.83 171.14,273.86 170.72,273.90 170.31,273.94 169.90,273.98 169.48,274.01 169.07,274.05 168.65,274.09 168.24,274.13 167.82,274.16 167.41,274.20 166.99,274.24 166.58,274.28 166.16,274.31 165.75,274.36 165.33,274.44 164.92,274.52 164.50,274.61 164.09,274.69 163.67,274.78 163.26,274.86 162.85,274.95 162.43,275.03 162.02,275.11 161.60,275.20 161.19,275.28 160.77,275.37 160.36,275.45 159.94,275.54 159.53,275.62 159.11,275.70 158.70,275.79 158.28,275.87 157.87,275.96 157.45,276.04 157.04,276.12 156.62,276.21 156.21,276.29 155.80,276.38 155.38,276.46 154.97,276.55 154.55,276.63 154.14,276.71 153.72,276.80 153.31,276.88 152.89,276.97 152.48,277.05 152.06,277.14 151.65,277.22 151.23,277.30 150.82,277.39 150.40,277.47 149.99,277.56 149.57,277.64 149.16,277.73 148.75,277.81 148.33,277.89 147.92,277.98 147.50,278.06 147.09,278.15 146.67,278.23 146.26,278.32 145.84,278.40 145.43,278.48 145.01,278.57 144.60,278.65 144.18,278.74 143.77,278.82 143.35,278.91 142.94,278.99 142.53,279.05 142.11,279.11 141.70,279.16 141.28,279.22 140.87,279.27 140.45,279.33 140.04,279.38 139.62,279.44 139.21,279.49 138.79,279.55 138.38,279.60 137.96,279.66 137.55,279.71 137.13,279.77 136.72,279.82 136.30,279.88 135.89,279.93 135.48,279.99 135.06,280.04 134.65,280.10 134.23,280.15 133.82,280.21 133.40,280.26 132.99,280.32 132.57,280.37 132.16,280.43 131.74,280.48 131.33,280.54 130.91,280.59 130.50,280.65 130.08,280.70 129.67,280.75 129.25,280.81 128.84,280.86 128.43,280.92 128.01,280.97 127.60,281.03 127.18,281.10 126.77,281.20 126.35,281.29 125.94,281.39 125.52,281.49 125.11,281.59 124.69,281.68 124.28,281.78 123.86,281.88 123.45,281.98 123.03,282.07 122.62,282.17 122.20,282.27 121.79,282.36 121.38,282.46 120.96,282.56 120.55,282.66 120.13,282.75 119.72,282.85 119.30,282.95 118.89,283.05 118.47,283.14 118.06,283.24 117.64,283.34 117.23,283.44 116.81,283.53 116.40,283.63 115.98,283.73 115.57,283.82 115.15,283.92 114.74,284.01 114.33,284.08 113.91,284.16 113.50,284.23 113.08,284.30 112.67,284.38 112.25,284.45 111.84,284.52 111.42,284.59 111.01,284.67 110.59,284.74 110.18,284.81 109.76,284.89 109.35,284.96 108.93,285.03 108.52,285.11 108.10,285.18 107.69,285.25 107.28,285.32 106.86,285.40 106.45,285.47 106.03,285.54 105.62,285.62 105.20,285.69 104.79,285.76 104.37,285.84 103.96,285.91 103.54,285.98 103.13,286.05 102.71,286.13 102.30,286.20 101.88,286.27 101.47,286.35 101.06,286.42 100.64,286.49 100.23,286.57 99.81,286.64 99.40,286.71 98.98,286.78 98.57,286.86 98.15,286.92 97.74,286.96 97.32,287.00 96.91,287.04 96.49,287.09 96.08,287.13 95.66,287.17 95.25,287.21 94.83,287.25 94.42,287.30 94.01,287.34 93.59,287.38 93.18,287.42 92.76,287.46 92.35,287.51 91.93,287.55 91.52,287.59 91.10,287.63 90.69,287.67 90.27,287.72 89.86,287.76 89.44,287.84 89.03,287.96 88.61,288.08 88.20,288.21 87.78,288.33 87.37,288.46 86.96,288.58 86.54,288.71 86.13,288.83 85.71,288.95 85.30,289.08 84.88,289.20 84.47,289.33 84.05,289.45 83.64,289.57 83.22,289.70 82.81,289.82 82.39,289.95 81.98,290.07 81.56,290.19 81.15,290.32 80.73,290.44 80.32,290.57 79.91,290.69 79.49,290.81 79.08,290.94 78.66,291.06 78.25,291.19 77.83,291.31 77.42,291.44 77.00,291.56 76.59,291.68 76.17,291.81 75.76,291.93 75.34,292.06 74.93,292.18 74.51,292.30 74.10,292.43 73.68,292.55 73.27,292.68 72.86,292.95 72.44,293.41 72.03,293.86 71.61,294.32 71.20,294.77 70.78,295.23 70.37,295.68 69.95,296.14 69.54,296.59 69.12,297.05 68.71,297.50 68.29,297.73 67.88,297.78 67.46,297.83 67.05,297.88 66.64,297.93 66.22,297.98 65.81,298.02 65.39,298.07 64.98,298.12 64.56,298.17 64.15,298.22 63.73,298.26 63.32,298.31 62.90,298.36 62.49,298.41 62.07,298.46 61.66,298.51 61.24,298.55 60.83,298.51 60.41,298.29 60.00,298.08 59.59,297.86 59.17,297.65 58.76,297.44 58.34,297.22 57.93,297.01 57.51,296.79 57.10,296.58 56.68,296.36 56.27,296.15 55.85,295.94 55.44,295.72 55.02,294.83 54.61,293.68 54.19,292.54 53.78,291.39 53.36,290.24 52.95,289.09 52.54,287.95 52.12,286.80 51.71,285.65 51.29,284.51 50.88,283.36 50.46,282.21 50.05,281.06 49.63,280.26 49.22,279.46 48.80,278.65 48.39,277.85 47.97,277.05 47.56,276.25 47.14,275.44 46.73,273.43 46.31,270.97 45.90,268.51" fill="#9be59b" fill-opacity="0.3" stroke="none"/><polyline points="45.90,265.88 46.31,265.32 46.73,268.41 47.14,270.46 47.56,269.43 47.97,278.71 48.39,277.05 48.80,280.82 49.22,276.44 49.63,274.73 50.05,277.69 50.46,277.72 50.88,288.09 51.29,280.74 51.71,286.09 52.12,279.67 52.54,282.66 52.95,283.68 53.36,287.04 53.78,286.67 54.19,287.73 54.61,291.73 55.02,293.54 55.44,292.79 55.85,295.13 56.27,295.30 56.68,294.17 57.10,296.31 57.51,291.78 57.93,300.51 58.34,292.09 58.76,296.74 59.17,296.62 59.59,300.33 60.00,295.31 60.41,295.98 60.83,294.72 61.24,297.49 61.66,294.93 62.07,291.26 62.49,294.17 62.90,297.49 63.32,292.94 63.73,295.46 64.15,293.60 64.56,293.52 64.98,296.48 65.39,303.17 65.81,296.20 66.22,293.46 66.64,296.25 67.05,293.61 67.46,292.42 67.88,296.84 68.29,291.80 68.71,290.74 69.12,291.43 69.54,290.80 69.95,290.49 70.37,287.58 70.78,291.52 71.20,291.46 71.61,289.73 72.03,294.57 72.44,296.98 72.86,293.56 73.27,288.59 73.68,288.25 74.10,295.96 74.51,297.38 74.93,290.30 75.34,289.62 75.76,288.88 76.17,287.10 76.59,285.78 77.00,287.80 77.42,286.86 77.83,292.94 78.25,293.18 78.66,287.31 79.08,286.26 79.49,286.01 79.91,286.17 80.32,285.64 80.73,285.46 81.15,294.93 81.56,290.26 81.98,285.86 82.39,285.44 82.81,293.39 83.22,283.95 83.64,288.33 84.05,287.29 84.47,285.53 84.88,284.37 85.30,292.33 85.71,283.61 86.13,285.47 86.54,288.99 86.96,286.64 87.37,295.15 87.78,288.08 88.20,284.64 88.61,288.12 89.03,286.28 89.44,285.33 89.86,284.49 90.27,282.33 90.69,284.63 91.10,285.66 91.52,283.26 91.93,279.85 92.35,285.92 92.76,283.20 93.18,291.47 93.59,281.29 94.01,282.76 94.42,281.24 94.83,284.40 95.25,288.85 95.66,282.10 96.08,282.35 96.49,287.94 96.91,290.68 97.32,282.91 97.74,284.64 98.15,278.05 98.57,286.58 98.98,286.12 99.40,284.13 99.81,291.20 100.23,287.57 100.64,279.77 101.06,283.95 101.47,286.08 101.88,289.06 102.30,281.84 102.71,281.60 103.13,282.42 103.54,284.72 103.96,282.17 104.37,281.93 104.79,285.86 105.20,281.26 105.62,292.37 106.03,288.48 106.45,283.84 106.86,282.87 107.28,287.70 107.69,281.49 108.10,279.79 108.52,281.08 108.93,281.51 109.35,280.09 109.76,280.97 110.18,287.13 110.59,282.68 111.01,278.77 111.42,286.91 111.84,281.39 112.25,283.28 112.67,285.59 113.08,286.05 113.50,281.02 113.91,280.47 114.33,280.41 114.74,287.82 115.15,282.31 115.57,280.08 115.98,278.62 116.40,279.15 116.81,278.70 117.23,278.00 117.64,278.52 118.06,284.14 118.47,280.07 118.89,283.47 119.30,291.25 119.72,287.85 120.13,275.07 120.55,285.01 120.96,290.24 121.38,282.32 121.79,276.04 122.20,279.70 122.62,278.51 123.03,280.73 123.45,279.79 123.86,276.37 124.28,277.44 124.69,279.72 125.11,277.12 125.52,276.64 125.94,280.29 126.35,278.50 126.77,278.50 127.18,282.50 127.60,276.24 128.01,279.95 128.43,282.31 128.84,287.83 129.25,285.74 129.67,275.27 130.08,285.16 130.50,278.05 130.91,281.12 131.33,277.85 131.74,277.62 132.16,283.39 132.57,280.78 132.99,278.95 133.40,278.91 133.82,279.38 134.23,280.97 134.65,277.56 135.06,275.71 135.48,277.80 135.89,283.45 136.30,278.20 136.72,279.12 137.13,278.03 137.55,274.20 137.96,280.56 138.38,279.40 138.79,284.51 139.21,281.04 139.62,282.70 140.04,274.82 140.45,278.51 140.87,282.79 141.28,273.84 141.70,287.39 142.11,276.91 142.53,276.46 142.94,277.74 143.35,281.00 143.77,280.18 144.18,281.44 144.60,276.92 145.01,293.50 145.43,282.23 145.84,278.56 146.26,282.51 146.67,290.04 147.09,280.27 147.50,283.34 147.92,276.24 148.33,274.39 148.75,278.25 149.16,290.30 149.57,279.51 149.99,283.92 150.40,276.11 150.82,273.03 151.23,277.04 151.65,271.85 152.06,273.32 152.48,275.67 152.89,282.98 153.31,276.96 153.72,285.79 154.14,274.00 154.55,276.64 154.97,272.80 155.38,275.94 155.80,288.28 156.21,274.68 156.62,273.75 157.04,271.48 157.45,281.91 157.87,281.52 158.28,276.01 158.70,282.19 159.11,284.12 159.53,282.31 159.94,268.36 160.36,279.34 160.77,281.69 161.19,278.14 161.60,275.67 162.02,271.75 162.43,272.71 162.85,273.10 163.26,275.25 163.67,274.83 164.09,278.87 164.50,284.19 164.92,268.97 165.33,277.51 165.75,271.88 166.16,276.54 166.58,275.13 166.99,275.47 167.41,283.06 167.82,275.00 168.24,273.59 168.65,272.22 169.07,273.19 169.48,271.58 169.90,273.73 170.31,274.60 170.72,286.54 171.14,277.59 171.55,269.83 171.97,274.10 172.38,272.04 172.80,275.46 173.21,278.31 173.63,268.18 174.04,273.23 174.46,269.78 174.87,272.65 175.29,275.79 175.70,287.96 176.12,273.88 176.53,283.66 176.95,287.74 177.36,270.32 177.77,271.85 178.19,272.06 178.60,273.82 179.02,274.04 179.43,272.63 179.85,273.40 180.26,273.63 180.68,271.57 181.09,288.96 181.51,271.05 181.92,277.45 182.34,271.11 182.75,270.11 183.17,278.71 183.58,271.22 184.00,271.23 184.41,277.89 184.82,276.81 185.24,273.25 185.65,287.52 186.07,276.31 186.48,272.98 186.90,276.29 187.31,283.53 187.73,275.89 188.14,268.83 188.56,269.38 188.97,274.07 189.39,278.35 189.80,273.33 190.22,273.15 190.63,277.40 191.05,275.19 191.46,271.15 191.87,270.15 192.29,288.34 192.70,269.91 193.12,272.42 193.53,269.28 193.95,272.84 194.36,271.33 194.78,267.62 195.19,289.44 195.61,267.67 196.02,271.88 196.44,283.94 196.85,289.24 197.27,271.35 197.68,278.76 198.09,269.14 198.51,271.49 198.92,272.93 199.34,269.00 199.75,271.40 200.17,269.67 200.58,269.34 201.00,270.85 201.41,269.36 201.83,269.31 202.24,280.36 202.66,273.35 203.07,272.33 203.49,273.91 203.90,281.55 204.32,275.01 204.73,270.32 205.14,270.70 205.56,266.56 205.97,275.02 206.39,273.84 206.80,274.67 207.22,272.97 207.63,274.73 208.05,282.74 208.46,269.70 208.88,267.65 209.29,267.18 209.71,277.48 210.12,271.71 210.54,264.74 210.95,271.03 211.37,269.21 211.78,271.18 212.19,267.05 212.61,267.10 213.02,262.85" fill="none" stroke="#8a8a8a" stroke-width="0.9" stroke-opacity="1.0" stroke-linejoin="round" /><polyline points="45.90,265.00 46.31,261.27 46.73,264.35 47.14,274.26 47.56,274.10 47.97,275.95 48.39,271.75 48.80,275.41 49.22,272.55 49.63,285.17 50.05,270.42 50.46,279.15 50.88,276.76 51.29,281.62 51.71,283.88 52.12,281.19 52.54,280.69 52.95,286.51 53.36,287.43 53.78,284.76 54.19,293.00 54.61,297.08 55.02,289.53 55.44,295.27 55.85,301.18 56.27,296.35 56.68,294.99 57.10,298.51 57.51,300.09 57.93,293.34 58.34,289.63 58.76,294.99 59.17,297.53 59.59,292.61 60.00,291.31 60.41,296.15 60.83,292.52 61.24,290.30 61.66,295.94 62.07,298.66 62.49,293.32 62.90,293.73 63.32,289.80 63.73,300.61 64.15,297.73 64.56,298.48 64.98,302.51 65.39,293.99 65.81,292.12 66.22,297.84 66.64,288.11 67.05,290.63 67.46,291.47 67.88,292.45 68.29,289.88 68.71,300.06 69.12,290.75 69.54,290.34 69.95,300.68 70.37,290.60 70.78,292.86 71.20,287.71 71.61,292.81 72.03,290.44 72.44,288.34 72.86,293.44 73.27,286.45 73.68,289.53 74.10,286.68 74.51,291.18 74.93,283.73 75.34,285.79 75.76,289.24 76.17,285.42 76.59,282.44 77.00,279.90 77.42,295.10 77.83,283.78 78.25,285.56 78.66,287.99 79.08,292.02 79.49,281.58 79.91,292.93 80.32,284.48 80.73,281.01 81.15,294.10 81.56,288.07 81.98,292.53 82.39,285.33 82.81,279.42 83.22,276.98 83.64,294.17 84.05,288.56 84.47,282.62 84.88,278.50 85.30,283.65 85.71,288.85 86.13,283.97 86.54,285.28 86.96,286.01 87.37,288.30 87.78,283.06 88.20,283.30 88.61,285.00 89.03,285.47 89.44,290.19 89.86,286.47 90.27,278.72 90.69,285.04 91.10,290.69 91.52,278.01 91.93,281.63 92.35,274.40 92.76,283.68 93.18,286.02 93.59,290.47 94.01,277.80 94.42,272.09 94.83,287.49 95.25,286.66 95.66,280.95 96.08,287.41 96.49,284.82 96.91,285.13 97.32,282.62 97.74,278.47 98.15,283.31 98.57,279.17 98.98,285.19 99.40,281.71 99.81,292.87 100.23,289.67 100.64,279.36 101.06,285.60 101.47,280.20 101.88,280.30 102.30,276.67 102.71,278.93 103.13,277.92 103.54,282.99 103.96,285.59 104.37,285.66 104.79,284.48 105.20,287.33 105.62,284.61 106.03,282.46 106.45,280.82 106.86,283.44 107.28,290.58 107.69,282.08 108.10,280.65 108.52,276.66 108.93,278.90 109.35,284.39 109.76,284.68 110.18,272.15 110.59,277.79 111.01,272.82 111.42,271.39 111.84,284.74 112.25,279.19 112.67,278.78 113.08,278.25 113.50,278.26 113.91,279.73 114.33,279.79 114.74,287.35 115.15,281.17 115.57,283.73 115.98,279.65 116.40,282.26 116.81,277.21 117.23,276.20 117.64,278.43 118.06,278.30 118.47,279.22 118.89,281.58 119.30,280.19 119.72,281.61 120.13,277.48 120.55,279.09 120.96,276.41 121.38,285.01 121.79,274.82 122.20,282.24 122.62,282.01 123.03,279.47 123.45,281.04 123.86,277.05 124.28,280.89 124.69,283.05 125.11,281.93 125.52,272.01 125.94,277.69 126.35,283.11 126.77,277.65 127.18,284.68 127.60,269.37 128.01,284.41 128.43,275.23 128.84,274.88 129.25,283.91 129.67,275.88 130.08,272.65 130.50,275.01 130.91,275.90 131.33,272.71 131.74,276.24 132.16,275.39 132.57,277.44 132.99,273.93 133.40,281.05 133.82,273.10 134.23,278.95 134.65,281.56 135.06,274.87 135.48,268.77 135.89,272.05 136.30,278.72 136.72,273.14 137.13,278.33 137.55,276.77 137.96,275.75 138.38,286.65 138.79,275.17 139.21,280.68 139.62,279.11 140.04,282.60 140.45,282.73 140.87,280.07 141.28,271.95 141.70,268.07 142.11,275.72 142.53,270.58 142.94,276.69 143.35,284.11 143.77,274.63 144.18,273.20 144.60,277.10 145.01,273.69 145.43,272.37 145.84,278.83 146.26,281.54 146.67,275.73 147.09,275.60 147.50,276.17 147.92,269.98 148.33,266.53 148.75,276.20 149.16,271.04 149.57,269.85 149.99,270.80 150.40,269.20 150.82,275.66 151.23,270.43 151.65,264.49 152.06,269.97 152.48,276.37 152.89,270.70 153.31,267.63 153.72,271.61 154.14,275.78 154.55,266.10 154.97,278.74 155.38,270.66 155.80,272.95 156.21,278.23 156.62,267.15 157.04,271.04 157.45,277.85 157.87,269.71 158.28,274.33 158.70,280.95 159.11,275.34 159.53,270.91 159.94,269.14 160.36,271.19 160.77,271.66 161.19,269.64 161.60,272.66 162.02,266.25 162.43,270.85 162.85,270.10 163.26,268.89 163.67,276.09 164.09,274.42 164.50,264.14 164.92,269.49 165.33,272.22 165.75,269.30 166.16,273.00 166.58,269.50 166.99,273.77 167.41,269.44 167.82,277.85 168.24,264.56 168.65,272.92 169.07,277.75 169.48,271.53 169.90,272.16 170.31,269.74 170.72,275.61 171.14,268.55 171.55,258.18 171.97,276.11 172.38,268.71 172.80,271.63 173.21,269.30 173.63,278.39 174.04,275.34 174.46,267.97 174.87,270.20 175.29,262.54 175.70,273.16 176.12,269.12 176.53,257.73 176.95,273.32 177.36,273.92 177.77,269.92 178.19,269.93 178.60,265.84 179.02,269.06 179.43,273.06 179.85,268.61 180.26,257.52 180.68,263.71 181.09,281.61 181.51,270.07 181.92,273.37 182.34,266.51 182.75,270.10 183.17,260.47 183.58,264.99 184.00,265.14 184.41,268.31 184.82,269.31 185.24,267.54 185.65,263.15 186.07,266.58 186.48,270.57 186.90,263.13 187.31,268.02 187.73,269.21 188.14,272.43 188.56,271.36 188.97,271.62 189.39,280.81 189.80,263.97 190.22,265.96 190.63,269.46 191.05,263.66 191.46,266.37 191.87,266.62 192.29,279.53 192.70,269.26 193.12,265.71 193.53,260.75 193.95,259.64 194.36,261.47 194.78,273.19 195.19,277.86 195.61,265.19 196.02,267.60 196.44,263.28 196.85,268.18 197.27,266.55 197.68,274.33 198.09,265.39 198.51,269.40 198.92,265.72 199.34,265.17 199.75,267.74 200.17,265.70 200.58,267.15 201.00,263.57 201.41,264.68 201.83,269.40 202.24,269.53 202.66,258.85 203.07,267.20 203.49,262.16 203.90,264.83 204.32,269.13 204.73,269.91 205.14,265.89 205.56,265.20 205.97,263.49 206.39,271.99 206.80,268.85 207.22,266.50 207.63,258.71 208.05,276.68 208.46,263.85 208.88,268.24 209.29,263.74 209.71,267.88 210.12,263.90 210.54,258.36 210.95,263.80 211.37,263.37 211.78,263.57 212.19,268.61 212.61,262.65 213.02,266.00" fill="none" stroke="#1f9a2d" stroke-width="1.0" stroke-opacity="1.0" stroke-linejoin="round" /><polyline points="45.90,265.00 46.31,271.59 46.73,276.55 47.14,283.15 47.56,274.23 47.97,268.30 48.39,274.21 48.80,273.00 49.22,271.65 49.63,280.47 50.05,266.41 50.46,282.39 50.88,278.28 51.29,269.79 51.71,282.63 52.12,282.82 52.54,286.60 52.95,284.18 53.36,295.68 53.78,290.60 54.19,281.91 54.61,289.29 55.02,292.34 55.44,290.65 55.85,290.69 56.27,292.01 56.68,290.43 57.10,300.05 57.51,290.80 57.93,296.34 58.34,290.41 58.76,294.02 59.17,298.34 59.59,294.66 60.00,298.81 60.41,290.53 60.83,295.12 61.24,291.46 61.66,299.69 62.07,288.14 62.49,296.17 62.90,289.12 63.32,291.22 63.73,299.39 64.15,293.35 64.56,296.94 64.98,292.89 65.39,288.54 65.81,291.62 66.22,289.98 66.64,299.35 67.05,293.52 67.46,292.82 67.88,289.70 68.29,296.83 68.71,291.61 69.12,291.74 69.54,299.50 69.95,297.00 70.37,290.31 70.78,296.67 71.20,296.43 71.61,287.05 72.03,289.16 72.44,290.89 72.86,289.00 73.27,290.87 73.68,291.31 74.10,290.86 74.51,287.18 74.93,283.12 75.34,290.53 75.76,288.72 76.17,289.22 76.59,293.48 77.00,287.00 77.42,284.29 77.83,291.35 78.25,284.18 78.66,289.96 79.08,282.59 79.49,282.20 79.91,288.80 80.32,295.48 80.73,288.40 81.15,292.66 81.56,292.22 81.98,287.63 82.39,280.72 82.81,286.71 83.22,287.12 83.64,293.85 84.05,288.49 84.47,291.69 84.88,283.51 85.30,287.79 85.71,285.63 86.13,285.40 86.54,285.99 86.96,281.07 87.37,282.91 87.78,286.17 88.20,284.06 88.61,282.26 89.03,278.69 89.44,283.79 89.86,278.17 90.27,286.71 90.69,285.15 91.10,290.38 91.52,280.63 91.93,288.39 92.35,288.34 92.76,280.42 93.18,286.16 93.59,287.04 94.01,279.83 94.42,284.57 94.83,279.88 95.25,285.40 95.66,280.61 96.08,279.09 96.49,283.24 96.91,275.98 97.32,285.16 97.74,284.35 98.15,283.08 98.57,279.13 98.98,284.49 99.40,285.04 99.81,282.07 100.23,277.81 100.64,284.74 101.06,288.29 101.47,283.39 101.88,280.15 102.30,284.98 102.71,282.10 103.13,290.41 103.54,282.39 103.96,281.97 104.37,279.71 104.79,280.96 105.20,278.94 105.62,286.29 106.03,279.26 106.45,288.91 106.86,284.40 107.28,277.17 107.69,278.17 108.10,289.47 108.52,279.13 108.93,283.34 109.35,284.73 109.76,280.52 110.18,280.77 110.59,275.37 111.01,287.23 111.42,282.89 111.84,281.62 112.25,288.68 112.67,275.94 113.08,273.41 113.50,283.35 113.91,279.05 114.33,281.71 114.74,279.37 115.15,283.26 115.57,276.82 115.98,285.12 116.40,274.39 116.81,278.53 117.23,269.74 117.64,286.78 118.06,280.14 118.47,285.04 118.89,280.13 119.30,277.62 119.72,283.21 120.13,285.28 120.55,286.44 120.96,278.13 121.38,273.59 121.79,273.93 122.20,278.62 122.62,282.71 123.03,280.10 123.45,284.81 123.86,285.00 124.28,273.79 124.69,279.35 125.11,276.76 125.52,279.13 125.94,272.32 126.35,271.75 126.77,280.96 127.18,279.13 127.60,280.36 128.01,271.93 128.43,272.17 128.84,278.58 129.25,267.64 129.67,277.14 130.08,282.31 130.50,285.69 130.91,277.69 131.33,275.68 131.74,279.44 132.16,275.40 132.57,271.84 132.99,277.06 133.40,273.21 133.82,269.70 134.23,274.55 134.65,279.03 135.06,274.72 135.48,274.23 135.89,267.44 136.30,278.20 136.72,282.84 137.13,275.01 137.55,274.84 137.96,277.90 138.38,273.72 138.79,274.71 139.21,270.90 139.62,279.45 140.04,278.83 140.45,275.92 140.87,277.91 141.28,270.37 141.70,273.23 142.11,275.70 142.53,269.13 142.94,273.38 143.35,271.20 143.77,271.93 144.18,275.85 144.60,275.74 145.01,275.03 145.43,279.57 145.84,276.35 146.26,271.22 146.67,273.42 147.09,278.61 147.50,264.62 147.92,278.81 148.33,271.77 148.75,271.26 149.16,268.85 149.57,277.75 149.99,273.95 150.40,274.77 150.82,269.06 151.23,272.15 151.65,271.92 152.06,271.31 152.48,265.24 152.89,270.55 153.31,269.58 153.72,277.11 154.14,270.17 154.55,278.24 154.97,268.91 155.38,272.16 155.80,276.40 156.21,277.41 156.62,272.88 157.04,271.88 157.45,274.66 157.87,273.59 158.28,273.40 158.70,274.25 159.11,272.73 159.53,270.69 159.94,266.28 160.36,268.95 160.77,273.92 161.19,264.64 161.60,266.37 162.02,272.31 162.43,266.86 162.85,273.28 163.26,274.12 163.67,273.89 164.09,263.95 164.50,270.08 164.92,269.24 165.33,270.19 165.75,272.07 166.16,268.29 166.58,267.43 166.99,261.98 167.41,273.74 167.82,263.69 168.24,267.27 168.65,277.28 169.07,265.89 169.48,263.16 169.90,265.30 170.31,268.82 170.72,269.14 171.14,278.10 171.55,268.38 171.97,268.94 172.38,273.57 172.80,268.79 173.21,272.37 173.63,260.09 174.04,274.66 174.46,273.30 174.87,278.58 175.29,271.18 175.70,269.02 176.12,269.45 176.53,272.17 176.95,265.78 177.36,268.43 177.77,264.41 178.19,269.85 178.60,276.74 179.02,269.94 179.43,273.55 179.85,265.80 180.26,271.81 180.68,270.27 181.09,269.30 181.51,275.59 181.92,270.80 182.34,265.49 182.75,271.52 183.17,269.80 183.58,268.39 184.00,271.88 184.41,270.26 184.82,267.15 185.24,270.56 185.65,268.72 186.07,269.51 186.48,273.27 186.90,274.29 187.31,260.50 187.73,263.00 188.14,269.26 188.56,264.72 188.97,264.01 189.39,264.56 189.80,270.06 190.22,274.49 190.63,273.71 191.05,269.36 191.46,262.64 191.87,261.69 192.29,269.18 192.70,269.51 193.12,263.01 193.53,259.35 193.95,271.81 194.36,265.90 194.78,267.20 195.19,269.09 195.61,269.02 196.02,269.02 196.44,267.58 196.85,273.96 197.27,267.45 197.68,264.08 198.09,264.15 198.51,263.94 198.92,265.81 199.34,266.32 199.75,258.92 200.17,267.76 200.58,266.28 201.00,261.66 201.41,266.67 201.83,272.20 202.24,269.03 202.66,268.47 203.07,267.25 203.49,268.43 203.90,262.33 204.32,263.46 204.73,264.33 205.14,267.98 205.56,261.92 205.97,261.99 206.39,256.89 206.80,268.53 207.22,266.36 207.63,260.04 208.05,270.28 208.46,264.57 208.88,264.68 209.29,265.29 209.71,269.40 210.12,265.21 210.54,271.52 210.95,260.24 211.37,267.20 211.78,264.44 212.19,265.09 212.61,264.17 213.02,264.37" fill="none" stroke="#2f4a37" stroke-width="0.7" stroke-opacity="0.35" stroke-linejoin="round" /><line x1="128.65" x2="128.65" y1="284.86" y2="344.72" stroke="#4f7f5f" stroke-width="1"/></g>
<rect x="38.2" y="251.6" width="183.39999999999998" height="97.79999999999998" fill="none" stroke="#858585" stroke-width="1"/>
<line x1="36.400000000000006" x2="38.2" y1="349.10" y2="349.10" stroke="#858585" stroke-width="0.7"/>
<text x="35.400000000000006" y="350.90" font-size="5.1" text-anchor="end" fill="#222" stroke="#222" stroke-width="0.12">0.40</text>
<line x1="36.400000000000006" x2="38.2" y1="334.50" y2="334.50" stroke="#858585" stroke-width="0.7"/>
<text x="35.400000000000006" y="336.30" font-size="5.1" text-anchor="end" fill="#222" stroke="#222" stroke-width="0.12">0.45</text>
<line x1="36.400000000000006" x2="38.2" y1="319.90" y2="319.90" stroke="#858585" stroke-width="0.7"/>
<text x="35.400000000000006" y="321.70" font-size="5.1" text-anchor="end" fill="#222" stroke="#222" stroke-width="0.12">0.50</text>
<line x1="36.400000000000006" x2="38.2" y1="305.30" y2="305.30" stroke="#858585" stroke-width="0.7"/>
<text x="35.400000000000006" y="307.10" font-size="5.1" text-anchor="end" fill="#222" stroke="#222" stroke-width="0.12">0.55</text>
<line x1="36.400000000000006" x2="38.2" y1="290.70" y2="290.70" stroke="#858585" stroke-width="0.7"/>
<text x="35.400000000000006" y="292.50" font-size="5.1" text-anchor="end" fill="#222" stroke="#222" stroke-width="0.12">0.60</text>
<line x1="36.400000000000006" x2="38.2" y1="276.10" y2="276.10" stroke="#858585" stroke-width="0.7"/>
<text x="35.400000000000006" y="277.90" font-size="5.1" text-anchor="end" fill="#222" stroke="#222" stroke-width="0.12">0.65</text>
<line x1="36.400000000000006" x2="38.2" y1="261.50" y2="261.50" stroke="#858585" stroke-width="0.7"/>
<text x="35.400000000000006" y="263.30" font-size="5.1" text-anchor="end" fill="#222" stroke="#222" stroke-width="0.12">0.70</text>
<line x1="45.90" x2="45.90" y1="349.4" y2="351.2" stroke="#858585" stroke-width="0.7"/>
<text x="45.90" y="355.90" font-size="5.1" text-anchor="middle" fill="#222" stroke="#222" stroke-width="0.12">0</text>
<line x1="83.60" x2="83.60" y1="349.4" y2="351.2" stroke="#858585" stroke-width="0.7"/>
<text x="83.60" y="355.90" font-size="5.1" text-anchor="middle" fill="#222" stroke="#222" stroke-width="0.12">100</text>
<line x1="121.30" x2="121.30" y1="349.4" y2="351.2" stroke="#858585" stroke-width="0.7"/>
<text x="121.30" y="355.90" font-size="5.1" text-anchor="middle" fill="#222" stroke="#222" stroke-width="0.12">200</text>
<line x1="159.00" x2="159.00" y1="349.4" y2="351.2" stroke="#858585" stroke-width="0.7"/>
<text x="159.00" y="355.90" font-size="5.1" text-anchor="middle" fill="#222" stroke="#222" stroke-width="0.12">300</text>
<line x1="196.70" x2="196.70" y1="349.4" y2="351.2" stroke="#858585" stroke-width="0.7"/>
<text x="196.70" y="355.90" font-size="5.1" text-anchor="middle" fill="#222" stroke="#222" stroke-width="0.12">400</text>
<text x="129.90" y="249.80" font-size="7.25" font-weight="bold" text-anchor="middle" fill="#111">Correctness Reward vs Steps</text>
<text x="129.90" y="363.20" font-size="6.3" text-anchor="middle" fill="#333">Training Steps</text>
<text transform="translate(21.60,300.50) rotate(-90)" font-size="6.3" text-anchor="middle" fill="#333">Correctness Reward Score</text>
<rect x="41.9" y="324.1" width="47" height="21.6" rx="1.5" fill="#fff" fill-opacity="0.95" stroke="#d8d8d8" stroke-width="0.6"/>
<line x1="44.4" x2="58.4" y1="329.40000000000003" y2="329.40000000000003" stroke="#9a9a9a" stroke-width="1.3"/>
<line x1="44.4" x2="58.4" y1="339.40000000000003" y2="339.40000000000003" stroke="#5a665c" stroke-width="1.3"/>
<text x="63.9" y="331.8" font-size="6.85" fill="#4a4a4a">GRPO</text>
<text x="63.9" y="341.90000000000003" font-size="6.85" font-weight="bold" fill="#111">GDPO</text><clipPath id="c4"><rect x="247.7" y="251.6" width="183.7" height="97.79999999999998"/></clipPath>
<rect x="247.7" y="251.6" width="183.7" height="97.79999999999998" fill="#fff"/>
<line x1="247.7" x2="431.4" y1="346.30" y2="346.30" stroke="#cdcdcd" stroke-width="0.8"/>
<line x1="247.7" x2="431.4" y1="328.32" y2="328.32" stroke="#cdcdcd" stroke-width="0.8"/>
<line x1="247.7" x2="431.4" y1="310.34" y2="310.34" stroke="#cdcdcd" stroke-width="0.8"/>
<line x1="247.7" x2="431.4" y1="292.36" y2="292.36" stroke="#cdcdcd" stroke-width="0.8"/>
<line x1="247.7" x2="431.4" y1="274.38" y2="274.38" stroke="#cdcdcd" stroke-width="0.8"/>
<line x1="247.7" x2="431.4" y1="256.40" y2="256.40" stroke="#cdcdcd" stroke-width="0.8"/>
<line x1="255.30" x2="255.30" y1="251.6" y2="349.4" stroke="#cdcdcd" stroke-width="0.8"/>
<line x1="293.08" x2="293.08" y1="251.6" y2="349.4" stroke="#cdcdcd" stroke-width="0.8"/>
<line x1="330.86" x2="330.86" y1="251.6" y2="349.4" stroke="#cdcdcd" stroke-width="0.8"/>
<line x1="368.64" x2="368.64" y1="251.6" y2="349.4" stroke="#cdcdcd" stroke-width="0.8"/>
<line x1="406.42" x2="406.42" y1="251.6" y2="349.4" stroke="#cdcdcd" stroke-width="0.8"/>
<g clip-path="url(#c4)"><polyline points="255.30,344.42 255.68,342.72 256.06,336.64 256.43,334.32 256.81,331.72 257.19,330.30 257.57,327.59 257.94,326.63 258.32,325.00 258.70,322.61 259.08,320.89 259.46,319.52 259.83,317.67 260.21,315.35 260.59,313.56 260.97,312.31 261.34,310.36 261.72,309.25 262.10,305.48 262.48,304.62 262.86,301.89 263.23,300.97 263.61,298.74 263.99,297.55 264.37,296.80 264.75,294.77 265.12,294.67 265.50,291.90 265.88,291.79 266.26,289.23 266.63,287.25 267.01,287.92 267.39,286.95 267.77,285.90 268.15,284.36 268.52,282.32 268.90,281.12 269.28,280.45 269.66,280.06 270.03,278.09 270.41,278.31 270.79,276.88 271.17,276.06 271.55,274.34 271.92,273.89 272.30,273.05 272.68,272.44 273.06,272.23 273.43,270.85 273.81,269.66 274.19,269.73 274.57,268.64 274.95,268.33 275.32,267.21 275.70,266.91 276.08,266.30 276.46,266.08 276.83,264.88 277.21,265.46 277.59,264.95 277.97,264.59 278.35,263.44 278.72,263.94 279.10,263.79 279.48,262.88 279.86,262.49 280.23,262.64 280.61,264.22 280.99,263.13 281.37,263.03 281.75,262.94 282.12,262.34 282.50,260.98 282.88,261.96 283.26,262.15 283.63,261.33 284.01,261.63 284.39,261.56 284.77,261.95 285.15,261.54 285.52,259.47 285.90,260.69 286.28,260.48 286.66,258.99 287.04,259.08 287.41,259.76 287.79,260.00 288.17,259.50 288.55,260.01 288.92,259.50 289.30,258.39 289.68,259.17 290.06,258.58 290.44,259.30 290.81,258.95 291.19,258.37 291.57,259.80 291.95,259.24 292.32,259.10 292.70,258.84 293.08,258.12 293.46,258.55 293.84,259.70 294.21,259.01 294.59,259.31 294.97,259.29 295.35,257.67 295.72,259.30 296.10,258.57 296.48,259.05 296.86,258.17 297.24,258.41 297.61,258.50 297.99,258.58 298.37,257.89 298.75,258.98 299.12,258.83 299.50,259.01 299.88,257.66 300.26,258.53 300.64,258.92 301.01,258.58 301.39,257.00 301.77,258.40 302.15,257.88 302.53,258.08 302.90,258.33 303.28,258.69 303.66,258.49 304.04,258.50 304.41,259.49 304.79,256.90 305.17,257.79 305.55,258.22 305.93,258.38 306.30,258.69 306.68,257.75 307.06,258.35 307.44,257.99 307.81,258.99 308.19,258.03 308.57,257.15 308.95,258.38 309.33,257.78 309.70,258.19 310.08,257.60 310.46,257.62 310.84,258.15 311.21,258.48 311.59,258.02 311.97,258.14 312.35,258.49 312.73,257.91 313.10,257.91 313.48,258.62 313.86,258.19 314.24,256.69 314.61,257.68 314.99,258.06 315.37,256.75 315.75,258.35 316.13,259.43 316.50,259.12 316.88,258.90 317.26,257.93 317.64,257.54 318.01,259.23 318.39,257.45 318.77,258.71 319.15,257.90 319.53,257.79 319.90,257.80 320.28,258.02 320.66,257.92 321.04,258.62 321.42,257.85 321.79,257.47 322.17,257.49 322.55,256.57 322.93,257.39 323.30,257.58 323.68,257.07 324.06,257.83 324.44,258.65 324.82,259.15 325.19,257.25 325.57,257.62 325.95,257.47 326.33,258.10 326.70,257.72 327.08,256.89 327.46,257.72 327.84,258.49 328.22,258.12 328.59,257.13 328.97,258.46 329.35,259.26 329.73,259.10 330.10,258.57 330.48,257.41 330.86,257.79 331.24,258.24 331.62,258.51 331.99,257.87 332.37,257.89 332.75,258.10 333.13,257.92 333.50,258.19 333.88,256.79 334.26,259.03 334.64,257.68 335.02,258.29 335.39,257.35 335.77,257.85 336.15,257.52 336.53,257.42 336.90,257.58 337.28,257.15 337.66,258.43 338.04,257.15 338.42,257.78 338.79,257.44 339.17,256.80 339.55,257.03 339.93,256.55 340.31,258.83 340.68,258.12 341.06,257.08 341.44,258.20 341.82,257.68 342.19,256.65 342.57,257.09 342.95,258.07 343.33,257.30 343.71,257.18 344.08,257.49 344.46,257.57 344.84,257.43 345.22,258.31 345.59,257.42 345.97,258.00 346.35,257.26 346.73,257.23 347.11,257.93 347.48,257.11 347.86,257.24 348.24,257.45 348.62,257.02 348.99,257.58 349.37,257.55 349.75,257.35 350.13,257.41 350.51,256.75 350.88,258.64 351.26,257.52 351.64,258.43 352.02,257.62 352.39,257.20 352.77,257.33 353.15,256.80 353.53,257.14 353.91,258.74 354.28,257.93 354.66,256.50 355.04,256.50 355.42,257.29 355.79,258.19 356.17,256.19 356.55,258.50 356.93,257.20 357.31,257.40 357.68,257.25 358.06,258.02 358.44,257.61 358.82,256.82 359.20,257.67 359.57,258.16 359.95,257.43 360.33,257.38 360.71,257.50 361.08,257.86 361.46,257.15 361.84,257.51 362.22,258.08 362.60,257.34 362.97,257.47 363.35,257.38 363.73,258.39 364.11,257.89 364.48,257.23 364.86,256.97 365.24,257.29 365.62,257.40 366.00,257.09 366.37,256.96 366.75,256.53 367.13,257.24 367.51,257.80 367.88,257.24 368.26,258.55 368.64,257.47 369.02,257.74 369.40,257.51 369.77,257.24 370.15,257.48 370.53,258.29 370.91,257.70 371.28,257.95 371.66,257.53 372.04,257.32 372.42,258.04 372.80,257.13 373.17,256.82 373.55,257.68 373.93,257.14 374.31,258.34 374.68,257.83 375.06,257.02 375.44,258.50 375.82,257.82 376.20,258.04 376.57,256.94 376.95,256.94 377.33,257.90 377.71,257.50 378.09,258.98 378.46,257.12 378.84,257.39 379.22,256.87 379.60,258.87 379.97,257.40 380.35,257.78 380.73,259.01 381.11,257.97 381.49,257.65 381.86,257.17 382.24,257.51 382.62,257.89 383.00,257.38 383.37,257.68 383.75,257.98 384.13,258.18 384.51,257.55 384.89,257.55 385.26,256.65 385.64,257.89 386.02,256.78 386.40,257.46 386.77,257.02 387.15,258.15 387.53,258.13 387.91,257.82 388.29,257.16 388.66,257.54 389.04,257.22 389.42,257.45 389.80,257.06 390.17,257.50 390.55,257.89 390.93,257.32 391.31,257.54 391.69,256.64 392.06,257.66 392.44,257.51 392.82,257.72 393.20,256.93 393.57,257.07 393.95,257.19 394.33,258.20 394.71,258.34 395.09,257.37 395.46,257.12 395.84,256.70 396.22,258.46 396.60,257.58 396.98,258.39 397.35,257.99 397.73,257.58 398.11,256.94 398.49,257.73 398.86,257.83 399.24,257.61 399.62,256.75 400.00,256.12 400.38,258.25 400.75,257.55 401.13,257.63 401.51,256.76 401.89,257.15 402.26,256.55 402.64,257.92 403.02,257.36 403.40,257.60 403.78,257.94 404.15,257.43 404.53,257.97 404.91,256.16 405.29,257.10 405.66,257.86 406.04,257.63 406.42,256.36 406.80,257.56 407.18,256.93 407.55,257.00 407.93,256.73 408.31,256.98 408.69,257.44 409.06,257.65 409.44,258.29 409.82,257.36 410.20,257.27 410.58,257.54 410.95,257.43 411.33,258.01 411.71,256.19 412.09,257.63 412.46,257.92 412.84,257.69 413.22,257.46 413.60,256.98 413.98,258.69 414.35,257.11 414.73,257.72 415.11,257.49 415.49,256.85 415.87,256.99 416.24,257.77 416.62,257.46 417.00,256.40 417.38,256.68 417.75,256.95 418.13,257.42 418.51,256.91 418.89,257.22 419.27,257.73 419.64,257.98 420.02,257.16 420.40,257.24 420.78,256.80 421.15,257.72 421.53,256.70 421.91,257.66 422.29,256.79 422.67,257.18 423.04,257.79" fill="none" stroke="#8a8a8a" stroke-width="1.0" stroke-opacity="1.0" stroke-linejoin="round" /><polyline points="255.30,345.91 255.68,341.34 256.06,337.30 256.43,333.85 256.81,332.80 257.19,331.30 257.57,328.58 257.94,325.61 258.32,323.84 258.70,323.26 259.08,321.27 259.46,319.16 259.83,317.89 260.21,315.86 260.59,314.08 260.97,312.61 261.34,310.49 261.72,308.53 262.10,306.26 262.48,305.13 262.86,302.55 263.23,301.73 263.61,300.23 263.99,298.99 264.37,295.54 264.75,294.89 265.12,293.43 265.50,292.14 265.88,291.12 266.26,289.37 266.63,287.67 267.01,286.00 267.39,284.64 267.77,282.84 268.15,283.82 268.52,281.39 268.90,279.44 269.28,278.71 269.66,277.67 270.03,275.85 270.41,275.62 270.79,273.84 271.17,273.89 271.55,272.81 271.92,272.80 272.30,272.57 272.68,271.01 273.06,270.03 273.43,269.53 273.81,269.35 274.19,267.55 274.57,267.15 274.95,266.46 275.32,266.39 275.70,264.58 276.08,264.17 276.46,264.30 276.83,264.03 277.21,263.34 277.59,262.06 277.97,261.03 278.35,261.97 278.72,262.04 279.10,262.62 279.48,260.04 279.86,261.91 280.23,260.68 280.61,260.71 280.99,260.10 281.37,261.12 281.75,261.36 282.12,260.24 282.50,259.94 282.88,259.37 283.26,260.86 283.63,260.16 284.01,260.01 284.39,260.56 284.77,259.87 285.15,259.31 285.52,259.72 285.90,260.43 286.28,259.43 286.66,259.11 287.04,259.24 287.41,259.06 287.79,260.34 288.17,259.15 288.55,259.04 288.92,259.52 289.30,259.31 289.68,259.66 290.06,258.54 290.44,259.34 290.81,259.66 291.19,259.01 291.57,259.02 291.95,258.69 292.32,259.47 292.70,259.35 293.08,258.75 293.46,257.71 293.84,258.64 294.21,259.59 294.59,258.73 294.97,259.21 295.35,259.76 295.72,259.10 296.10,259.01 296.48,258.44 296.86,257.92 297.24,257.99 297.61,258.13 297.99,258.77 298.37,258.42 298.75,258.49 299.12,257.68 299.50,258.76 299.88,258.67 300.26,257.56 300.64,258.05 301.01,258.60 301.39,258.26 301.77,258.26 302.15,258.23 302.53,257.90 302.90,258.12 303.28,258.42 303.66,258.58 304.04,259.24 304.41,258.53 304.79,257.67 305.17,258.16 305.55,258.63 305.93,258.40 306.30,258.73 306.68,258.10 307.06,257.17 307.44,257.27 307.81,257.59 308.19,257.81 308.57,258.35 308.95,258.89 309.33,258.20 309.70,258.44 310.08,257.75 310.46,258.10 310.84,258.49 311.21,257.93 311.59,256.74 311.97,258.65 312.35,257.54 312.73,257.83 313.10,258.19 313.48,258.54 313.86,258.12 314.24,258.00 314.61,257.70 314.99,257.73 315.37,257.93 315.75,258.46 316.13,257.92 316.50,258.33 316.88,258.64 317.26,257.58 317.64,258.42 318.01,258.70 318.39,258.00 318.77,259.08 319.15,258.07 319.53,257.79 319.90,258.25 320.28,257.89 320.66,256.85 321.04,257.24 321.42,257.49 321.79,257.67 322.17,258.26 322.55,258.05 322.93,258.13 323.30,257.95 323.68,257.90 324.06,258.39 324.44,257.08 324.82,258.50 325.19,257.74 325.57,257.37 325.95,257.94 326.33,258.28 326.70,257.89 327.08,256.86 327.46,257.56 327.84,258.05 328.22,257.57 328.59,257.98 328.97,258.88 329.35,257.73 329.73,257.30 330.10,257.23 330.48,257.88 330.86,258.60 331.24,257.18 331.62,257.90 331.99,257.41 332.37,257.19 332.75,257.61 333.13,257.82 333.50,258.12 333.88,258.00 334.26,257.74 334.64,258.00 335.02,257.55 335.39,258.79 335.77,258.27 336.15,257.73 336.53,258.08 336.90,257.99 337.28,258.31 337.66,257.32 338.04,256.79 338.42,258.21 338.79,257.04 339.17,258.43 339.55,257.56 339.93,258.71 340.31,257.36 340.68,257.60 341.06,257.53 341.44,256.94 341.82,257.27 342.19,257.59 342.57,258.01 342.95,257.54 343.33,257.93 343.71,257.77 344.08,256.74 344.46,257.06 344.84,257.37 345.22,257.17 345.59,258.28 345.97,257.44 346.35,258.40 346.73,257.84 347.11,257.27 347.48,257.26 347.86,257.08 348.24,257.36 348.62,257.41 348.99,257.43 349.37,256.66 349.75,256.71 350.13,258.19 350.51,257.33 350.88,256.69 351.26,257.52 351.64,257.26 352.02,257.69 352.39,258.01 352.77,257.28 353.15,257.57 353.53,257.43 353.91,258.13 354.28,257.98 354.66,257.43 355.04,257.61 355.42,257.08 355.79,257.95 356.17,257.01 356.55,257.09 356.93,257.36 357.31,257.07 357.68,257.47 358.06,257.53 358.44,257.45 358.82,258.12 359.20,257.47 359.57,257.02 359.95,258.32 360.33,257.10 360.71,257.81 361.08,257.67 361.46,257.43 361.84,257.35 362.22,256.76 362.60,257.57 362.97,256.58 363.35,257.48 363.73,257.25 364.11,257.15 364.48,257.87 364.86,258.12 365.24,257.46 365.62,257.15 366.00,257.06 366.37,257.72 366.75,256.58 367.13,257.59 367.51,257.89 367.88,256.90 368.26,256.87 368.64,258.04 369.02,257.08 369.40,258.20 369.77,257.50 370.15,256.29 370.53,256.82 370.91,257.13 371.28,257.16 371.66,257.96 372.04,257.33 372.42,257.27 372.80,258.07 373.17,257.40 373.55,257.22 373.93,257.40 374.31,257.29 374.68,257.64 375.06,258.13 375.44,257.51 375.82,258.56 376.20,257.92 376.57,256.95 376.95,256.57 377.33,257.32 377.71,258.84 378.09,256.82 378.46,257.26 378.84,257.65 379.22,257.15 379.60,257.26 379.97,258.20 380.35,258.26 380.73,257.01 381.11,258.80 381.49,257.25 381.86,257.40 382.24,257.05 382.62,256.64 383.00,256.86 383.37,256.75 383.75,257.15 384.13,257.32 384.51,257.02 384.89,257.60 385.26,258.09 385.64,257.64 386.02,258.47 386.40,257.90 386.77,256.50 387.15,257.34 387.53,257.71 387.91,257.94 388.29,258.56 388.66,257.89 389.04,258.01 389.42,257.59 389.80,257.54 390.17,257.61 390.55,258.60 390.93,256.78 391.31,257.32 391.69,257.55 392.06,257.72 392.44,257.30 392.82,256.86 393.20,257.20 393.57,258.14 393.95,258.19 394.33,258.78 394.71,257.44 395.09,257.11 395.46,256.84 395.84,257.42 396.22,257.04 396.60,257.97 396.98,257.19 397.35,257.53 397.73,257.82 398.11,258.36 398.49,256.83 398.86,258.66 399.24,257.10 399.62,257.86 400.00,257.09 400.38,257.71 400.75,257.00 401.13,257.52 401.51,257.96 401.89,257.67 402.26,258.25 402.64,257.23 403.02,256.80 403.40,257.13 403.78,257.29 404.15,256.65 404.53,257.97 404.91,257.03 405.29,257.32 405.66,257.57 406.04,257.01 406.42,257.92 406.80,257.38 407.18,257.13 407.55,257.94 407.93,257.44 408.31,257.04 408.69,256.81 409.06,257.84 409.44,256.85 409.82,257.50 410.20,257.29 410.58,257.64 410.95,256.93 411.33,257.73 411.71,257.21 412.09,257.16 412.46,256.96 412.84,257.93 413.22,256.96 413.60,257.36 413.98,256.60 414.35,257.57 414.73,257.70 415.11,257.43 415.49,257.57 415.87,257.50 416.24,258.09 416.62,258.54 417.00,258.21 417.38,257.74 417.75,257.19 418.13,257.60 418.51,257.95 418.89,257.52 419.27,257.41 419.64,256.00 420.02,256.76 420.40,257.35 420.78,258.24 421.15,257.56 421.53,257.63 421.91,257.17 422.29,256.33 422.67,257.51 423.04,258.55" fill="none" stroke="#34523d" stroke-width="1.0" stroke-opacity="1.0" stroke-linejoin="round" /></g>
<rect x="247.7" y="251.6" width="183.7" height="97.79999999999998" fill="none" stroke="#858585" stroke-width="1"/>
<line x1="245.89999999999998" x2="247.7" y1="346.30" y2="346.30" stroke="#858585" stroke-width="0.7"/>
<text x="244.89999999999998" y="348.10" font-size="5.1" text-anchor="end" fill="#222" stroke="#222" stroke-width="0.12">0.5</text>
<line x1="245.89999999999998" x2="247.7" y1="328.32" y2="328.32" stroke="#858585" stroke-width="0.7"/>
<text x="244.89999999999998" y="330.12" font-size="5.1" text-anchor="end" fill="#222" stroke="#222" stroke-width="0.12">0.6</text>
<line x1="245.89999999999998" x2="247.7" y1="310.34" y2="310.34" stroke="#858585" stroke-width="0.7"/>
<text x="244.89999999999998" y="312.14" font-size="5.1" text-anchor="end" fill="#222" stroke="#222" stroke-width="0.12">0.7</text>
<line x1="245.89999999999998" x2="247.7" y1="292.36" y2="292.36" stroke="#858585" stroke-width="0.7"/>
<text x="244.89999999999998" y="294.16" font-size="5.1" text-anchor="end" fill="#222" stroke="#222" stroke-width="0.12">0.8</text>
<line x1="245.89999999999998" x2="247.7" y1="274.38" y2="274.38" stroke="#858585" stroke-width="0.7"/>
<text x="244.89999999999998" y="276.18" font-size="5.1" text-anchor="end" fill="#222" stroke="#222" stroke-width="0.12">0.9</text>
<line x1="245.89999999999998" x2="247.7" y1="256.40" y2="256.40" stroke="#858585" stroke-width="0.7"/>
<text x="244.89999999999998" y="258.20" font-size="5.1" text-anchor="end" fill="#222" stroke="#222" stroke-width="0.12">1.0</text>
<line x1="255.30" x2="255.30" y1="349.4" y2="351.2" stroke="#858585" stroke-width="0.7"/>
<text x="255.30" y="355.90" font-size="5.1" text-anchor="middle" fill="#222" stroke="#222" stroke-width="0.12">0</text>
<line x1="293.08" x2="293.08" y1="349.4" y2="351.2" stroke="#858585" stroke-width="0.7"/>
<text x="293.08" y="355.90" font-size="5.1" text-anchor="middle" fill="#222" stroke="#222" stroke-width="0.12">100</text>
<line x1="330.86" x2="330.86" y1="349.4" y2="351.2" stroke="#858585" stroke-width="0.7"/>
<text x="330.86" y="355.90" font-size="5.1" text-anchor="middle" fill="#222" stroke="#222" stroke-width="0.12">200</text>
<line x1="368.64" x2="368.64" y1="349.4" y2="351.2" stroke="#858585" stroke-width="0.7"/>
<text x="368.64" y="355.90" font-size="5.1" text-anchor="middle" fill="#222" stroke="#222" stroke-width="0.12">300</text>
<line x1="406.42" x2="406.42" y1="349.4" y2="351.2" stroke="#858585" stroke-width="0.7"/>
<text x="406.42" y="355.90" font-size="5.1" text-anchor="middle" fill="#222" stroke="#222" stroke-width="0.12">400</text>
<text x="339.55" y="249.80" font-size="7.25" font-weight="bold" text-anchor="middle" fill="#111">Length Reward vs Steps</text>
<text x="339.55" y="363.20" font-size="6.3" text-anchor="middle" fill="#333">Training Steps</text>
<text transform="translate(234.80,300.50) rotate(-90)" font-size="6.3" text-anchor="middle" fill="#333">Length Reward Score</text>
<rect x="379.8" y="324.3" width="49" height="21.6" rx="1.5" fill="#fff" fill-opacity="0.95" stroke="#d8d8d8" stroke-width="0.6"/>
<line x1="382.3" x2="396.3" y1="329.6" y2="329.6" stroke="#9a9a9a" stroke-width="1.3"/>
<line x1="382.3" x2="396.3" y1="339.6" y2="339.6" stroke="#5a665c" stroke-width="1.3"/>
<text x="401.8" y="332.0" font-size="6.85" fill="#4a4a4a">GRPO</text>
<text x="401.8" y="342.1" font-size="6.85" font-weight="bold" fill="#111">GDPO</text><clipPath id="c5"><rect x="457.3" y="251.6" width="183.40000000000003" height="97.79999999999998"/></clipPath>
<rect x="457.3" y="251.6" width="183.40000000000003" height="97.79999999999998" fill="#fff"/>
<line x1="457.3" x2="640.7" y1="349.00" y2="349.00" stroke="#cdcdcd" stroke-width="0.8"/>
<line x1="457.3" x2="640.7" y1="337.40" y2="337.40" stroke="#cdcdcd" stroke-width="0.8"/>
<line x1="457.3" x2="640.7" y1="325.80" y2="325.80" stroke="#cdcdcd" stroke-width="0.8"/>
<line x1="457.3" x2="640.7" y1="314.20" y2="314.20" stroke="#cdcdcd" stroke-width="0.8"/>
<line x1="457.3" x2="640.7" y1="302.60" y2="302.60" stroke="#cdcdcd" stroke-width="0.8"/>
<line x1="457.3" x2="640.7" y1="291.00" y2="291.00" stroke="#cdcdcd" stroke-width="0.8"/>
<line x1="457.3" x2="640.7" y1="279.40" y2="279.40" stroke="#cdcdcd" stroke-width="0.8"/>
<line x1="457.3" x2="640.7" y1="267.80" y2="267.80" stroke="#cdcdcd" stroke-width="0.8"/>
<line x1="457.3" x2="640.7" y1="256.20" y2="256.20" stroke="#cdcdcd" stroke-width="0.8"/>
<line x1="463.10" x2="463.10" y1="251.6" y2="349.4" stroke="#cdcdcd" stroke-width="0.8"/>
<line x1="501.20" x2="501.20" y1="251.6" y2="349.4" stroke="#cdcdcd" stroke-width="0.8"/>
<line x1="539.30" x2="539.30" y1="251.6" y2="349.4" stroke="#cdcdcd" stroke-width="0.8"/>
<line x1="577.40" x2="577.40" y1="251.6" y2="349.4" stroke="#cdcdcd" stroke-width="0.8"/>
<line x1="615.50" x2="615.50" y1="251.6" y2="349.4" stroke="#cdcdcd" stroke-width="0.8"/>
<g clip-path="url(#c5)"><polygon points="486.72,259.80 487.10,262.41 487.48,265.44 487.87,266.57 488.25,266.06 488.63,266.75 489.01,268.81 489.39,272.16 489.77,275.14 490.15,278.21 490.53,281.03 490.91,287.34 491.29,295.44 491.68,303.02 492.06,304.42 492.44,301.72 492.82,297.81 493.20,295.59 493.58,295.29 493.96,295.15 494.34,295.34 494.72,294.82 495.10,293.47 495.49,294.66 495.87,294.69 496.25,292.24 496.63,290.09 497.01,290.66 497.39,290.83 497.77,290.32 498.15,289.32 498.53,287.37 498.91,285.82 499.30,285.70 499.68,286.95 500.06,289.46 500.44,292.34 500.82,293.20 501.20,294.48 501.58,296.53 501.96,298.84 502.34,300.10 502.72,301.27 503.11,301.66 503.49,303.64 503.87,303.60 504.25,301.87 504.63,301.40 505.01,300.49 505.39,298.44 505.77,297.09 506.15,297.02 506.53,296.34 506.92,293.56 507.30,291.73 507.68,293.40 508.06,295.36 508.44,297.99 508.82,301.50 509.20,304.33 509.58,305.82 509.96,305.13 510.34,305.82 510.73,308.88 511.11,312.59 511.49,313.89 511.87,310.73 512.25,307.55 512.63,302.78 513.01,299.69 513.39,297.32 513.77,294.64 514.15,289.37 514.54,283.04 514.92,279.60 515.30,279.95 515.68,282.14 516.06,285.81 516.44,288.55 516.82,291.14 517.20,291.84 517.58,293.87 517.96,296.90 518.35,298.74 518.73,301.88 519.11,304.29 519.49,305.61 519.87,307.50 520.25,309.40 520.63,310.47 521.01,310.68 521.39,312.34 521.77,313.33 522.15,316.48 522.54,316.89 522.92,317.44 523.30,317.76 523.68,318.03 524.06,319.50 524.44,319.54 524.82,321.24 525.20,325.08 525.58,322.44 525.97,320.21 526.35,318.64 526.73,314.96 527.11,313.59 527.49,313.60 527.87,312.47 528.25,309.85 528.63,309.44 529.01,309.41 529.39,311.67 529.77,312.52 530.16,311.35 530.54,311.35 530.92,310.96 531.30,309.56 531.68,310.56 532.06,312.70 532.44,315.15 532.82,315.10 533.20,315.30 533.59,317.24 533.97,317.73 534.35,319.78 534.73,321.16 535.11,322.06 535.49,323.81 535.87,323.05 536.25,321.43 536.63,320.11 537.01,321.25 537.39,321.41 537.78,318.97 538.16,319.14 538.54,321.98 538.92,324.08 539.30,327.23 539.68,329.05 540.06,329.66 540.44,330.09 540.82,328.55 541.21,328.08 541.59,326.37 541.97,325.43 542.35,328.09 542.73,328.40 543.11,328.58 543.49,328.64 543.87,329.96 544.25,331.05 544.63,330.31 545.01,330.54 545.40,328.75 545.78,327.45 546.16,326.28 546.54,325.61 546.92,325.01 547.30,323.43 547.68,321.72 548.06,322.53 548.44,323.75 548.83,325.49 549.21,327.71 549.59,331.08 549.97,331.23 550.35,331.82 550.73,333.22 551.11,333.48 551.49,333.01 551.87,329.61 552.25,324.28 552.63,321.23 553.02,318.41 553.40,313.56 553.78,310.58 554.16,307.25 554.54,303.69 554.92,300.96 555.30,299.50 555.68,302.60 556.06,305.25 556.45,306.63 556.83,307.25 557.21,307.95 557.59,306.59 557.97,310.92 558.35,309.88 558.73,308.64 559.11,312.24 559.49,316.18 559.87,319.90 560.25,323.81 560.64,328.87 561.02,327.50 561.40,325.23 561.78,324.59 562.16,324.35 562.54,321.16 562.92,321.17 563.30,321.03 563.68,321.54 564.07,322.24 564.45,321.46 564.83,322.56 565.21,322.75 565.59,323.41 565.97,322.27 566.35,320.69 566.73,319.00 567.11,318.76 567.49,318.36 567.88,317.30 568.26,314.84 568.64,314.14 569.02,312.27 569.40,310.65 569.78,310.38 570.16,312.30 570.54,314.46 570.92,315.86 571.30,315.90 571.69,316.58 572.07,316.93 572.45,315.65 572.83,313.95 573.21,313.64 573.59,315.10 573.97,315.88 574.35,315.48 574.73,319.10 575.11,320.78 575.50,320.80 575.88,322.28 576.26,323.45 576.64,323.44 577.02,324.42 577.40,326.09 577.78,326.86 578.16,328.87 578.54,331.16 578.92,333.90 579.31,334.04 579.69,334.97 580.07,335.51 580.45,336.47 580.83,336.03 581.21,337.25 581.59,337.53 581.97,335.70 582.35,332.80 582.73,331.84 583.12,329.01 583.50,328.27 583.88,328.79 584.26,328.35 584.64,326.20 585.02,323.46 585.40,320.38 585.78,318.21 586.16,316.16 586.54,317.34 586.93,323.38 587.31,324.65 587.69,320.51 588.07,319.82 588.45,319.67 588.83,322.07 589.21,322.24 589.59,323.63 589.97,324.07 590.35,324.25 590.74,324.05 591.12,322.03 591.50,320.58 591.88,322.27 592.26,321.66 592.64,319.24 593.02,317.89 593.40,317.14 593.78,319.74 594.16,320.49 594.55,323.60 594.93,326.42 595.31,328.24 595.69,328.51 596.07,327.66 596.45,327.64 596.83,327.07 597.21,325.84 597.59,326.34 597.97,328.01 598.36,329.65 598.74,331.23 599.12,332.89 599.50,335.36 599.88,337.12 600.26,337.99 600.64,336.92 601.02,335.28 601.40,334.89 601.78,335.02 602.16,334.67 602.55,333.85 602.93,330.51 603.31,327.02 603.69,324.68 604.07,323.76 604.45,322.28 604.83,321.76 605.21,321.26 605.59,322.98 605.98,324.52 606.36,325.83 606.74,326.25 607.12,326.16 607.50,326.62 607.88,325.93 608.26,326.46 608.64,328.41 609.02,331.79 609.40,331.23 609.79,329.96 610.17,329.07 610.55,328.28 610.93,328.23 611.31,327.52 611.69,324.95 612.07,323.84 612.45,326.04 612.83,329.12 613.21,331.29 613.60,334.53 613.98,335.57 614.36,335.66 614.74,335.18 615.12,335.86 615.50,338.23 615.88,336.47 616.26,334.13 616.64,331.41 617.02,330.49 617.40,328.60 617.79,325.75 618.17,323.97 618.55,323.06 618.93,319.86 619.31,319.81 619.69,320.50 620.07,316.07 620.45,316.13 620.83,314.69 621.22,313.54 621.60,311.68 621.98,309.56 622.36,308.62 622.74,308.21 623.12,307.26 623.50,308.96 623.88,311.37 624.26,313.00 624.64,314.81 625.03,313.97 625.41,311.92 625.79,309.43 626.17,307.26 626.55,306.17 626.93,303.94 627.31,303.98 627.69,303.87 628.07,302.12 628.45,300.23 628.84,299.16 629.22,297.23 629.60,294.65 629.98,296.43 630.36,299.32 630.74,302.08 630.74,338.06 630.36,329.98 629.98,323.31 629.60,319.12 629.22,318.32 628.84,317.01 628.45,314.07 628.07,313.17 627.69,312.91 627.31,313.58 626.93,315.33 626.55,317.34 626.17,317.59 625.79,317.86 625.41,317.68 625.03,318.43 624.64,319.19 624.26,319.39 623.88,318.15 623.50,317.89 623.12,317.85 622.74,317.83 622.36,317.29 621.98,315.71 621.60,316.34 621.22,317.19 620.83,318.30 620.45,319.02 620.07,319.89 619.69,321.33 619.31,323.30 618.93,324.34 618.55,325.58 618.17,326.84 617.79,328.53 617.40,329.99 617.02,332.22 616.64,335.83 616.26,339.70 615.88,340.42 615.50,338.26 615.12,337.46 614.74,336.10 614.36,335.74 613.98,337.90 613.60,338.78 613.21,340.27 612.83,339.53 612.45,338.24 612.07,337.22 611.69,333.59 611.31,332.86 610.93,332.39 610.55,331.70 610.17,330.58 609.79,330.44 609.40,331.39 609.02,334.11 608.64,334.93 608.26,334.26 607.88,334.48 607.50,332.64 607.12,330.92 606.74,329.13 606.36,326.76 605.98,327.27 605.59,327.99 605.21,329.67 604.83,330.34 604.45,331.62 604.07,331.30 603.69,332.59 603.31,334.10 602.93,334.89 602.55,336.36 602.16,337.41 601.78,335.79 601.40,336.69 601.02,338.25 600.64,339.04 600.26,339.26 599.88,338.94 599.50,339.48 599.12,341.60 598.74,340.67 598.36,338.85 597.97,335.48 597.59,333.65 597.21,333.37 596.83,333.23 596.45,332.33 596.07,330.61 595.69,329.96 595.31,329.81 594.93,331.58 594.55,332.87 594.16,334.82 593.78,333.76 593.40,331.11 593.02,328.67 592.64,325.04 592.26,322.25 591.88,323.03 591.50,324.56 591.12,323.98 590.74,324.47 590.35,327.08 589.97,329.09 589.59,332.26 589.21,334.40 588.83,334.26 588.45,334.72 588.07,333.65 587.69,331.91 587.31,328.27 586.93,325.82 586.54,327.16 586.16,329.03 585.78,331.48 585.40,333.06 585.02,334.50 584.64,334.92 584.26,335.67 583.88,334.33 583.50,335.20 583.12,334.89 582.73,335.97 582.35,337.53 581.97,337.33 581.59,338.31 581.21,338.23 580.83,340.16 580.45,342.36 580.07,342.49 579.69,343.56 579.31,342.93 578.92,342.45 578.54,342.60 578.16,342.61 577.78,342.33 577.40,341.72 577.02,342.60 576.64,343.36 576.26,341.29 575.88,335.21 575.50,329.40 575.11,324.13 574.73,321.05 574.35,319.64 573.97,320.42 573.59,321.69 573.21,321.68 572.83,319.78 572.45,320.55 572.07,319.27 571.69,319.47 571.30,318.14 570.92,316.56 570.54,317.42 570.16,318.84 569.78,319.32 569.40,318.70 569.02,318.90 568.64,320.32 568.26,322.16 567.88,324.23 567.49,325.19 567.11,325.35 566.73,324.15 566.35,323.47 565.97,323.23 565.59,324.16 565.21,323.07 564.83,322.57 564.45,322.30 564.07,323.18 563.68,321.62 563.30,321.81 562.92,321.95 562.54,322.99 562.16,325.58 561.78,327.36 561.40,328.50 561.02,329.95 560.64,329.44 560.25,330.52 559.87,332.17 559.49,331.94 559.11,327.73 558.73,322.69 558.35,315.77 557.97,312.44 557.59,314.25 557.21,315.96 556.83,317.09 556.45,315.55 556.06,313.22 555.68,310.77 555.30,307.15 554.92,303.09 554.54,304.46 554.16,308.63 553.78,312.08 553.40,315.93 553.02,318.58 552.63,323.69 552.25,327.78 551.87,330.26 551.49,334.02 551.11,336.92 550.73,338.90 550.35,338.63 549.97,336.06 549.59,331.88 549.21,329.32 548.83,329.03 548.44,329.15 548.06,329.40 547.68,329.31 547.30,329.02 546.92,328.16 546.54,325.87 546.16,327.06 545.78,327.75 545.40,328.93 545.01,331.09 544.63,332.66 544.25,334.78 543.87,334.24 543.49,333.35 543.11,331.80 542.73,332.00 542.35,330.88 541.97,330.25 541.59,331.19 541.21,331.30 540.82,331.42 540.44,330.57 540.06,330.85 539.68,329.58 539.30,327.31 538.92,326.23 538.54,325.62 538.16,323.82 537.78,321.99 537.39,321.77 537.01,321.63 536.63,322.11 536.25,322.69 535.87,326.35 535.49,330.34 535.11,332.32 534.73,334.23 534.35,335.42 533.97,335.72 533.59,333.35 533.20,331.41 532.82,328.88 532.44,326.66 532.06,327.40 531.68,327.70 531.30,326.28 530.92,325.69 530.54,328.30 530.16,328.89 529.77,329.85 529.39,328.80 529.01,329.74 528.63,330.54 528.25,332.69 527.87,333.00 527.49,330.30 527.11,329.07 526.73,328.54 526.35,328.10 525.97,328.83 525.58,327.18 525.20,325.42 524.82,326.35 524.44,325.25 524.06,323.60 523.68,321.83 523.30,319.67 522.92,318.30 522.54,317.31 522.15,319.03 521.77,320.49 521.39,321.80 521.01,323.00 520.63,324.26 520.25,327.93 519.87,329.46 519.49,331.03 519.11,332.58 518.73,331.33 518.35,329.37 517.96,328.62 517.58,326.55 517.20,325.19 516.82,322.77 516.44,321.35 516.06,318.13 515.68,315.67 515.30,316.23 514.92,317.28 514.54,319.87 514.15,323.89 513.77,326.85 513.39,327.81 513.01,327.06 512.63,326.34 512.25,327.57 511.87,330.29 511.49,329.50 511.11,329.28 510.73,328.87 510.34,329.22 509.96,330.47 509.58,328.81 509.20,326.58 508.82,324.33 508.44,325.72 508.06,326.81 507.68,326.42 507.30,322.95 506.92,322.02 506.53,322.13 506.15,323.98 505.77,323.21 505.39,322.33 505.01,322.79 504.63,323.39 504.25,324.29 503.87,323.46 503.49,323.11 503.11,321.34 502.72,320.43 502.34,320.83 501.96,319.80 501.58,320.57 501.20,320.63 500.82,318.20 500.44,316.88 500.06,314.77 499.68,315.64 499.30,315.39 498.91,315.66 498.53,315.14 498.15,316.18 497.77,316.74 497.39,316.84 497.01,316.99 496.63,316.49 496.25,316.00 495.87,315.88 495.49,316.06 495.10,314.44 494.72,314.18 494.34,314.13 493.96,315.13 493.58,313.50 493.20,313.86 492.82,314.22 492.44,312.90 492.06,312.03 491.68,312.48 491.29,313.23 490.91,312.65 490.53,310.46 490.15,308.29 489.77,304.47 489.39,301.10 489.01,300.92 488.63,299.76 488.25,297.25 487.87,296.93 487.48,294.80 487.10,294.73 486.72,294.02" fill="#7fd67f" fill-opacity="0.06" stroke="none"/><polygon points="485.31,257.51 485.69,259.04 486.07,260.76 486.45,258.80 486.84,258.90 487.22,262.59 487.60,265.33 487.98,265.77 488.36,264.86 488.74,266.23 489.12,268.58 489.50,272.37 489.88,275.00 490.26,278.26 490.65,280.88 491.03,288.77 491.41,296.97 491.79,304.29 492.17,303.16 492.55,299.79 492.93,295.64 493.31,294.25 493.69,294.41 494.07,294.14 494.46,294.53 494.84,293.62 495.22,292.08 495.60,294.44 495.98,293.48 496.36,290.38 496.74,288.64 497.12,290.20 497.50,289.77 497.88,289.23 498.27,288.03 498.65,285.76 499.03,284.52 499.41,284.88 499.79,286.51 500.17,289.40 500.55,292.27 500.93,292.28 501.31,294.09 501.69,296.25 502.08,298.62 502.46,299.41 502.84,300.74 503.22,300.72 503.60,303.56 503.98,302.29 504.36,300.37 504.74,300.52 505.12,299.16 505.50,296.81 505.89,295.88 506.27,296.19 506.65,295.08 507.03,291.58 507.41,290.47 507.79,293.32 508.17,294.90 508.55,297.99 508.93,301.68 509.31,304.14 509.70,305.21 510.08,303.77 510.46,305.38 510.84,309.05 511.22,312.78 511.60,313.05 511.98,308.42 512.36,305.86 512.74,300.15 513.12,298.18 513.51,295.63 513.89,292.89 514.27,286.54 514.65,280.22 515.03,278.01 515.41,279.45 515.79,281.97 516.17,286.13 516.55,288.26 516.93,291.05 517.32,290.86 517.70,293.83 518.08,296.89 518.46,298.21 518.84,302.13 519.22,303.89 519.60,305.03 519.98,307.23 520.36,309.00 520.75,309.77 521.13,309.74 521.51,312.13 521.89,312.52 522.27,316.85 522.65,316.19 523.03,317.87 523.41,319.11 523.79,321.67 524.17,323.09 524.55,324.85 524.94,325.67 525.32,323.99 525.70,320.46 526.08,318.78 526.46,317.25 526.84,312.66 527.22,312.67 527.60,312.67 527.98,311.07 528.37,308.00 528.75,308.73 529.13,308.38 529.51,311.75 529.89,311.52 530.27,309.96 530.65,310.61 531.03,309.78 531.41,308.14 531.79,310.26 532.17,312.41 532.56,314.99 532.94,313.82 533.32,314.60 533.70,317.04 534.08,316.71 534.46,319.76 534.84,320.44 535.22,321.44 535.60,323.50 535.99,321.53 536.37,320.06 536.75,321.66 537.13,320.30 537.51,320.55 537.89,316.96 538.27,318.74 538.65,322.04 539.03,323.63 539.41,327.45 539.79,329.16 540.18,330.24 540.56,328.70 540.94,327.16 541.32,327.15 541.70,324.72 542.08,324.41 542.46,328.34 542.84,327.11 543.22,327.89 543.61,327.64 543.99,329.63 544.37,330.34 544.75,328.97 545.13,330.67 545.51,326.85 545.89,326.37 546.27,324.91 546.65,324.96 547.03,328.21 547.41,328.04 547.80,328.53 548.18,328.44 548.56,328.12 548.94,328.09 549.32,328.52 549.70,330.85 550.08,330.07 550.46,331.25 550.84,332.74 551.23,332.47 551.61,333.36 551.99,327.61 552.37,321.54 552.75,319.78 553.13,316.50 553.51,314.36 553.89,309.79 554.27,306.82 554.65,302.13 555.03,302.18 555.42,307.95 555.80,310.65 556.18,312.99 556.56,315.32 556.94,316.52 557.32,314.39 557.70,312.86 558.08,310.93 558.46,308.11 558.85,307.55 559.23,312.91 559.61,316.25 559.99,320.13 560.37,324.06 560.75,329.61 561.13,328.77 561.51,327.06 561.89,326.17 562.27,324.00 562.65,321.24 563.04,320.92 563.42,319.75 563.80,321.09 564.18,322.74 564.56,320.78 564.94,322.00 565.32,321.75 565.70,322.79 566.08,322.09 566.47,322.74 566.85,323.42 567.23,324.85 567.61,324.01 567.99,323.00 568.37,320.48 568.75,318.93 569.13,317.56 569.51,317.86 569.89,318.62 570.27,317.61 570.66,316.02 571.04,314.46 571.42,315.19 571.80,315.85 572.18,316.07 572.56,314.14 572.94,312.54 573.32,312.79 573.70,314.76 574.09,315.03 574.47,314.34 574.85,319.81 575.23,324.65 575.61,330.10 575.99,336.06 576.37,342.20 576.75,342.54 577.13,341.31 577.51,340.57 577.89,341.76 578.28,341.65 578.66,341.68 579.04,341.45 579.42,342.24 579.80,342.81 580.18,341.02 580.56,341.61 580.94,338.21 581.32,336.91 581.71,337.58 582.09,335.89 582.47,336.90 582.85,334.25 583.23,333.84 583.61,334.46 583.99,332.94 584.37,335.51 584.75,333.34 585.13,333.67 585.51,331.47 585.90,330.15 586.28,327.22 586.66,325.80 587.04,324.50 587.42,323.39 587.80,317.96 588.18,319.29 588.56,318.50 588.94,322.28 589.33,320.90 589.71,323.48 590.09,323.00 590.47,323.46 590.85,322.97 591.23,323.09 591.61,323.87 591.99,321.34 592.37,320.47 592.75,317.39 593.13,316.78 593.52,315.96 593.90,320.03 594.28,319.37 594.66,324.08 595.04,326.09 595.42,327.84 595.80,329.54 596.18,329.75 596.56,332.12 596.94,332.38 597.33,332.47 597.71,332.83 598.09,335.29 598.47,339.04 598.85,340.04 599.23,340.94 599.61,337.54 599.99,338.21 600.37,336.57 600.75,335.75 601.14,333.76 601.52,334.05 601.90,335.21 602.28,337.02 602.66,334.76 603.04,333.62 603.42,332.99 603.80,331.10 604.18,330.06 604.57,330.96 604.95,328.75 605.33,328.73 605.71,326.34 606.09,326.34 606.47,325.61 606.85,325.20 607.23,325.24 607.61,325.89 607.99,324.62 608.38,325.92 608.76,328.15 609.14,332.02 609.52,329.56 609.90,329.50 610.28,329.71 610.66,331.23 611.04,331.56 611.42,332.10 611.80,332.90 612.18,337.74 612.57,337.13 612.95,339.23 613.33,339.40 613.71,337.19 614.09,336.88 614.47,333.81 614.85,335.75 615.23,336.87 615.61,337.49 616.00,334.72 616.38,332.55 616.76,329.60 617.14,329.55 617.52,326.86 617.90,323.95 618.28,322.65 618.66,321.91 619.04,317.66 619.42,319.40 619.81,319.64 620.19,318.67 620.57,317.85 620.95,317.17 621.33,315.87 621.71,315.21 622.09,314.60 622.47,317.11 622.85,316.81 623.23,316.98 623.62,316.96 624.00,317.33 624.38,318.95 624.76,317.98 625.14,317.30 625.52,316.52 625.90,317.11 626.28,316.47 626.66,316.38 627.04,313.56 627.42,312.26 627.81,311.87 628.19,312.40 628.57,313.45 628.95,317.21 629.33,317.47 629.71,318.50 630.09,324.04 630.47,331.20 630.85,339.66 630.85,348.01 630.47,339.55 630.09,332.39 629.71,326.85 629.33,325.83 628.95,325.56 628.57,321.80 628.19,320.76 627.81,320.22 627.42,320.61 627.04,321.91 626.66,324.74 626.28,324.82 625.90,325.46 625.52,324.88 625.14,325.65 624.76,326.33 624.38,327.30 624.00,325.69 623.62,325.31 623.23,325.33 622.85,325.16 622.47,325.47 622.09,322.95 621.71,323.56 621.33,324.23 620.95,325.52 620.57,326.20 620.19,327.02 619.81,327.99 619.42,327.76 619.04,326.01 618.66,330.27 618.28,331.00 617.90,332.30 617.52,335.22 617.14,337.90 616.76,337.95 616.38,340.90 616.00,343.07 615.61,345.84 615.23,345.22 614.85,344.10 614.47,342.16 614.09,345.24 613.71,345.55 613.33,347.75 612.95,347.58 612.57,345.48 612.18,346.10 611.80,341.25 611.42,340.45 611.04,339.91 610.66,339.58 610.28,338.06 609.90,337.85 609.52,337.91 609.14,340.37 608.76,336.51 608.38,334.27 607.99,332.97 607.61,334.24 607.23,333.59 606.85,333.56 606.47,333.96 606.09,334.69 605.71,334.69 605.33,337.09 604.95,337.10 604.57,339.31 604.18,338.41 603.80,339.45 603.42,341.34 603.04,341.97 602.66,343.11 602.28,345.38 601.90,343.56 601.52,342.40 601.14,342.11 600.75,344.10 600.37,344.92 599.99,346.56 599.61,345.89 599.23,349.29 598.85,348.39 598.47,347.40 598.09,343.64 597.71,341.18 597.33,340.82 596.94,340.74 596.56,340.47 596.18,338.10 595.80,337.89 595.42,336.19 595.04,334.44 594.66,332.43 594.28,327.72 593.90,328.38 593.52,324.31 593.13,325.13 592.75,325.74 592.37,328.83 591.99,329.69 591.61,332.22 591.23,331.44 590.85,331.32 590.47,331.82 590.09,331.35 589.71,331.83 589.33,329.25 588.94,330.63 588.56,326.85 588.18,327.64 587.80,326.31 587.42,331.74 587.04,332.85 586.66,334.16 586.28,335.57 585.90,338.50 585.51,339.83 585.13,342.02 584.75,341.69 584.37,343.86 583.99,341.30 583.61,342.81 583.23,342.19 582.85,342.60 582.47,345.25 582.09,344.25 581.71,345.94 581.32,345.26 580.94,346.56 580.56,349.96 580.18,349.38 579.80,351.16 579.42,350.59 579.04,349.80 578.66,350.03 578.28,350.00 577.89,350.12 577.51,348.92 577.13,349.66 576.75,350.89 576.37,350.55 575.99,344.41 575.61,338.45 575.23,333.00 574.85,328.16 574.47,322.70 574.09,323.38 573.70,323.12 573.32,321.14 572.94,320.89 572.56,322.50 572.18,324.42 571.80,324.20 571.42,323.54 571.04,322.82 570.66,324.37 570.27,325.97 569.89,326.97 569.51,326.21 569.13,325.91 568.75,327.28 568.37,328.83 567.99,331.35 567.61,332.36 567.23,333.21 566.85,331.77 566.47,331.09 566.08,330.45 565.70,331.14 565.32,330.10 564.94,330.35 564.56,329.14 564.18,331.09 563.80,329.44 563.42,328.10 563.04,329.28 562.65,329.59 562.27,332.35 561.89,334.52 561.51,335.42 561.13,337.12 560.75,337.96 560.37,332.41 559.99,328.48 559.61,324.60 559.23,321.27 558.85,315.90 558.46,316.46 558.08,319.28 557.70,321.21 557.32,322.74 556.94,324.87 556.56,323.67 556.18,321.34 555.80,319.00 555.42,316.30 555.03,310.53 554.65,310.49 554.27,315.17 553.89,318.14 553.51,322.71 553.13,324.86 552.75,328.13 552.37,329.89 551.99,335.96 551.61,341.71 551.23,340.82 550.84,341.10 550.46,339.60 550.08,338.42 549.70,339.20 549.32,336.87 548.94,336.45 548.56,336.47 548.18,336.79 547.80,336.88 547.41,336.39 547.03,336.56 546.65,333.31 546.27,333.26 545.89,334.73 545.51,335.21 545.13,339.03 544.75,337.32 544.37,338.69 543.99,337.98 543.61,335.99 543.22,336.24 542.84,335.46 542.46,336.69 542.08,332.77 541.70,333.07 541.32,335.51 540.94,335.51 540.56,337.06 540.18,338.60 539.79,337.51 539.41,335.80 539.03,331.98 538.65,330.39 538.27,327.09 537.89,325.31 537.51,328.91 537.13,328.65 536.75,330.01 536.37,328.41 535.99,329.89 535.60,331.85 535.22,329.79 534.84,328.79 534.46,328.11 534.08,325.06 533.70,325.39 533.32,322.95 532.94,322.18 532.56,323.35 532.17,320.76 531.79,318.62 531.41,316.49 531.03,318.13 530.65,318.97 530.27,318.31 529.89,319.87 529.51,320.11 529.13,316.73 528.75,317.08 528.37,316.35 527.98,319.42 527.60,321.02 527.22,321.02 526.84,321.01 526.46,325.60 526.08,327.13 525.70,328.81 525.32,332.34 524.94,334.02 524.55,333.20 524.17,331.45 523.79,330.03 523.41,327.46 523.03,326.22 522.65,324.54 522.27,325.20 521.89,320.87 521.51,320.48 521.13,318.10 520.75,318.12 520.36,317.35 519.98,315.58 519.60,313.38 519.22,312.24 518.84,310.48 518.46,306.56 518.08,305.24 517.70,302.18 517.32,299.21 516.93,299.40 516.55,296.62 516.17,294.48 515.79,290.32 515.41,287.80 515.03,286.37 514.65,288.57 514.27,294.90 513.89,301.24 513.51,303.99 513.12,306.53 512.74,308.50 512.36,314.21 511.98,316.77 511.60,321.40 511.22,321.13 510.84,317.40 510.46,313.73 510.08,312.12 509.70,313.56 509.31,312.49 508.93,310.03 508.55,306.34 508.17,303.25 507.79,301.68 507.41,298.83 507.03,299.93 506.65,303.43 506.27,304.54 505.89,304.24 505.50,305.16 505.12,307.51 504.74,308.87 504.36,308.72 503.98,310.65 503.60,311.91 503.22,309.08 502.84,309.09 502.46,307.76 502.08,306.98 501.69,304.60 501.31,302.45 500.93,300.63 500.55,300.62 500.17,297.75 499.79,294.86 499.41,293.24 499.03,292.88 498.65,294.11 498.27,296.38 497.88,297.58 497.50,298.12 497.12,298.55 496.74,296.99 496.36,298.74 495.98,301.83 495.60,302.79 495.22,300.44 494.84,301.97 494.46,302.89 494.07,302.49 493.69,302.76 493.31,302.60 492.93,303.99 492.55,308.14 492.17,311.51 491.79,312.64 491.41,305.32 491.03,297.12 490.65,289.23 490.26,286.61 489.88,283.35 489.50,280.72 489.12,276.93 488.74,274.59 488.36,273.21 487.98,274.12 487.60,273.69 487.22,270.94 486.84,267.25 486.45,267.16 486.07,269.11 485.69,267.39 485.31,265.86" fill="#9be59b" fill-opacity="0.14" stroke="none"/><polyline points="465.50,256.20 465.88,256.20 466.26,256.20 466.64,256.20 467.02,256.20 467.40,256.20 467.79,256.20 468.17,256.20 468.55,256.20 468.93,256.20 469.31,256.20 469.69,256.20 470.07,256.20 470.45,256.20 470.83,256.20 471.21,256.20 471.60,256.20 471.98,256.20 472.36,256.20 472.74,256.20 473.12,256.20 473.50,256.20 473.88,256.20 474.26,256.20 474.64,256.20 475.02,256.20 475.41,256.20 475.79,256.20 476.17,256.20 476.55,256.20 476.93,256.20 477.31,256.20 477.69,256.20 478.07,256.20 478.45,256.20 478.83,256.20 479.22,256.20 479.60,256.20 479.98,256.20 480.36,257.59 480.74,262.59 481.12,265.99 481.50,268.64 481.88,271.85 482.26,273.92 482.64,276.85 483.03,278.99 483.41,281.36 483.79,286.89 484.17,290.13 484.55,290.66 484.93,289.95 485.31,291.46 485.69,293.74 486.07,294.21 486.45,293.60 486.84,294.19 487.22,294.96 487.60,294.73 487.98,297.87 488.36,296.99 488.74,300.94 489.12,300.91 489.50,301.18 489.88,305.88 490.26,309.32 490.65,310.95 491.03,313.38 491.41,313.17 491.79,312.19 492.17,311.96 492.55,313.30 492.93,314.61 493.31,313.55 493.69,313.48 494.07,315.83 494.46,313.41 494.84,314.52 495.22,314.40 495.60,316.77 495.98,315.50 496.36,316.22 496.74,316.61 497.12,317.14 497.50,316.71 497.88,316.75 498.27,315.93 498.65,314.80 499.03,316.02 499.41,315.13 499.79,315.86 500.17,314.30 500.55,317.98 500.93,318.30 501.31,321.63 501.69,320.11 502.08,319.67 502.46,321.32 502.84,320.05 503.22,321.90 503.60,323.64 503.98,323.39 504.36,324.67 504.74,322.85 505.12,322.76 505.50,322.15 505.89,323.66 506.27,324.11 506.65,321.28 507.03,322.33 507.41,323.21 507.79,327.78 508.17,326.40 508.55,325.43 508.93,323.86 509.31,327.75 509.70,329.26 510.08,330.99 510.46,328.47 510.84,329.05 511.22,329.37 511.60,329.55 511.98,330.61 512.36,326.28 512.74,326.37 513.12,327.35 513.51,328.01 513.89,326.35 514.27,322.84 514.65,318.60 515.03,316.72 515.41,316.03 515.79,315.51 516.17,319.24 516.55,322.25 516.93,322.98 517.32,326.14 517.70,326.73 518.08,329.43 518.46,329.35 518.84,332.18 519.22,332.75 519.60,330.30 519.98,329.11 520.36,327.43 520.75,322.90 521.13,323.03 521.51,321.27 521.89,320.16 522.27,318.54 522.65,316.19 523.03,317.98 523.41,317.66 523.79,318.19 524.17,320.07 524.55,319.31 524.94,322.07 525.32,326.37 525.70,327.53 526.08,329.38 526.46,327.55 526.84,328.96 527.22,329.11 527.60,330.80 527.98,333.93 528.37,332.16 528.75,329.85 529.13,329.69 529.51,328.42 529.89,330.46 530.27,328.23 530.65,328.34 531.03,324.56 531.41,327.01 531.79,327.99 532.17,327.15 532.56,326.45 532.94,329.92 533.32,332.05 533.70,333.90 534.08,336.50 534.46,334.96 534.84,333.91 535.22,331.65 535.60,329.79 535.99,324.88 536.37,321.75 536.75,319.41 537.13,322.04 537.51,321.65 537.89,322.13 538.27,324.54 538.65,326.08 539.03,326.29 539.41,327.75 539.79,329.60 540.18,329.69 540.56,330.94 540.94,331.63 541.32,331.16 541.70,331.20 542.08,329.85 542.46,331.32 542.84,332.28 543.22,331.59 543.61,334.10 543.99,334.30 544.37,334.99 544.75,331.66 545.13,330.06 545.51,328.20 545.89,327.56 546.27,326.85 546.65,325.08 547.03,324.98 547.41,322.76 547.80,321.28 548.18,323.06 548.56,324.05 548.94,326.11 549.32,328.39 549.70,333.37 550.08,337.21 550.46,339.24 550.84,338.76 551.23,336.14 551.61,331.67 551.99,328.74 552.37,327.37 552.75,322.12 553.13,317.07 553.51,312.06 553.89,309.94 554.27,306.10 554.65,302.66 555.03,300.24 555.42,299.18 555.80,304.06 556.18,305.75 556.56,307.01 556.94,307.36 557.32,308.20 557.70,305.89 558.08,313.07 558.46,316.92 558.85,325.15 559.23,328.83 559.61,333.27 559.99,331.70 560.37,330.02 560.75,329.19 561.13,326.77 561.51,324.57 561.89,324.60 562.27,324.24 562.65,319.85 563.04,321.73 563.42,321.85 563.80,321.41 564.18,322.60 564.56,320.97 564.94,323.26 565.32,322.99 565.70,324.65 566.08,321.25 566.47,320.44 566.85,318.38 567.23,318.92 567.61,318.12 567.99,316.95 568.37,313.94 568.75,314.22 569.13,311.44 569.51,310.32 569.89,310.41 570.27,313.10 570.66,315.04 571.04,317.21 571.42,318.54 571.80,319.87 572.18,319.01 572.56,321.21 572.94,319.16 573.32,322.75 573.70,321.24 574.09,320.07 574.47,319.46 574.85,321.73 575.23,320.38 575.61,320.99 575.99,322.83 576.37,323.72 576.75,323.33 577.13,324.89 577.51,326.61 577.89,326.97 578.28,329.69 578.66,331.79 579.04,334.80 579.42,333.71 579.80,335.51 580.18,335.51 580.56,336.88 580.94,335.67 581.32,337.92 581.71,337.37 582.09,334.99 582.47,331.86 582.85,331.84 583.23,327.80 583.61,328.47 583.99,328.93 584.37,328.10 584.75,325.39 585.13,322.64 585.51,319.41 585.90,317.71 586.28,315.49 586.66,318.12 587.04,325.62 587.42,329.41 587.80,332.97 588.18,333.94 588.56,335.05 588.94,333.92 589.33,334.60 589.71,331.26 590.09,328.17 590.47,326.62 590.85,323.55 591.23,321.38 591.61,320.24 591.99,323.14 592.37,321.87 592.75,326.40 593.13,329.64 593.52,331.73 593.90,334.62 594.28,334.91 594.66,331.99 595.04,331.41 595.42,329.12 595.80,328.25 596.18,327.41 596.56,327.74 596.94,326.78 597.33,325.43 597.71,326.73 598.09,328.55 598.47,330.12 598.85,331.71 599.23,333.40 599.61,336.20 599.99,337.51 600.37,340.00 600.75,338.62 601.14,338.09 601.52,336.09 601.90,334.57 602.28,334.72 602.66,333.48 603.04,329.24 603.42,326.07 603.80,324.09 604.18,323.62 604.57,321.71 604.95,321.78 605.33,321.04 605.71,323.82 606.09,324.83 606.47,326.25 606.85,330.36 607.23,331.16 607.61,333.27 607.99,335.00 608.38,333.95 608.76,335.35 609.14,333.58 609.52,330.46 609.90,329.75 610.28,328.78 610.66,328.07 611.04,328.30 611.42,327.18 611.80,323.99 612.18,323.77 612.57,327.01 612.95,330.02 613.33,331.83 613.71,335.68 614.09,335.52 614.47,335.83 614.85,334.91 615.23,336.26 615.61,339.11 616.00,340.98 616.38,339.16 616.76,334.41 617.14,331.29 617.52,329.43 617.90,328.15 618.28,326.28 618.66,325.29 619.04,323.93 619.42,323.04 619.81,320.61 620.19,314.13 620.57,316.98 620.95,313.72 621.33,313.47 621.71,310.92 622.09,308.98 622.47,308.46 622.85,308.10 623.23,306.91 623.62,309.84 624.00,312.03 624.38,313.41 624.76,315.40 625.14,313.35 625.52,311.30 625.90,308.63 626.28,306.67 626.66,305.96 627.04,303.07 627.42,304.37 627.81,303.66 628.19,301.46 628.57,299.70 628.95,298.93 629.33,296.50 629.71,293.86 630.09,297.53 630.47,300.08 630.85,302.94 631.24,304.64 631.62,305.45 632.00,307.51 632.38,311.51" fill="none" stroke="#888888" stroke-width="0.85" stroke-opacity="1.0" stroke-linejoin="round" /><polygon points="486.07,261.69 486.45,259.73 486.84,259.83 487.22,263.52 487.60,266.26 487.98,266.69 488.36,265.78 488.74,267.16 489.12,269.51 489.50,273.30 489.88,275.92 490.26,279.19 490.65,281.81 491.03,289.69 491.41,297.89 491.79,305.21 492.17,304.08 492.55,300.72 492.93,296.57 493.31,295.18 493.69,295.34 494.07,295.07 494.46,295.46 494.84,294.55 495.22,293.01 495.60,295.37 495.98,294.41 496.36,291.31 496.74,289.57 497.12,291.12 497.50,290.70 497.88,290.16 498.27,288.96 498.65,286.69 499.03,285.45 499.41,285.81 499.79,287.44 500.17,290.33 500.55,293.20 500.93,293.21 501.31,295.02 501.69,297.17 502.08,299.55 502.46,300.34 502.84,301.67 503.22,301.65 503.60,304.49 503.98,303.22 504.36,301.30 504.74,301.45 505.12,300.09 505.50,297.73 505.89,296.81 506.27,297.11 506.65,296.01 507.03,292.51 507.41,291.40 507.79,294.25 508.17,295.83 508.55,298.92 508.93,302.60 509.31,305.06 509.70,306.14 510.08,304.69 510.46,306.31 510.84,309.98 511.22,313.70 511.60,313.97 511.98,309.35 512.36,306.78 512.74,301.07 513.12,299.10 513.51,296.56 513.89,293.82 514.27,287.47 514.65,281.15 515.03,278.94 515.41,280.37 515.79,282.90 516.17,287.06 516.55,289.19 516.93,291.98 517.32,291.79 517.70,294.76 518.08,297.82 518.46,299.14 518.84,303.06 519.22,304.82 519.60,305.95 519.98,308.16 520.36,309.93 520.75,310.70 521.13,310.67 521.51,313.06 521.89,313.45 522.27,317.77 522.65,317.12 523.03,318.80 523.41,320.04 523.79,322.60 524.17,324.02 524.55,325.77 524.94,326.60 525.32,324.92 525.70,321.38 526.08,319.71 526.46,318.18 526.84,313.58 527.22,313.60 527.60,313.60 527.98,311.99 528.37,308.93 528.75,309.66 529.13,309.31 529.51,312.68 529.89,312.45 530.27,310.89 530.65,311.54 531.03,310.71 531.41,309.07 531.79,311.19 532.17,313.34 532.56,315.92 532.94,314.75 533.32,315.53 533.70,317.97 534.08,317.64 534.46,320.69 534.84,321.36 535.22,322.36 535.60,324.42 535.99,322.46 536.37,320.99 536.75,322.58 537.13,321.23 537.51,321.48 537.89,317.89 538.27,319.67 538.65,322.97 539.03,324.56 539.41,328.37 539.79,330.09 540.18,331.17 540.56,329.63 540.94,328.09 541.32,328.08 541.70,325.65 542.08,325.34 542.46,329.27 542.84,328.03 543.22,328.82 543.61,328.57 543.99,330.56 544.37,331.26 544.75,329.90 545.13,331.60 545.51,327.78 545.89,327.30 546.27,325.84 546.65,325.88 547.03,329.13 547.41,328.96 547.80,329.45 548.18,329.37 548.56,329.05 548.94,329.02 549.32,329.45 549.70,331.77 550.08,331.00 550.46,332.17 550.84,333.67 551.23,333.39 551.61,334.29 551.99,328.54 552.37,322.47 552.75,320.71 553.13,317.43 553.51,315.28 553.89,310.72 554.27,307.74 554.65,303.06 555.03,303.11 555.42,308.87 555.80,311.57 556.18,313.92 556.56,316.25 556.94,317.44 557.32,315.32 557.70,313.79 558.08,311.86 558.46,309.04 558.85,308.48 559.23,313.84 559.61,317.18 559.99,321.06 560.37,324.98 560.75,330.53 561.13,329.70 561.51,327.99 561.89,327.10 562.27,324.93 562.65,322.17 563.04,321.85 563.42,320.68 563.80,322.02 564.18,323.67 564.56,321.71 564.94,322.93 565.32,322.68 565.70,323.72 566.08,323.02 566.47,323.67 566.85,324.35 567.23,325.78 567.61,324.94 567.99,323.93 568.37,321.40 568.75,319.85 569.13,318.49 569.51,318.79 569.89,319.55 570.27,318.54 570.66,316.94 571.04,315.39 571.42,316.12 571.80,316.78 572.18,316.99 572.56,315.07 572.94,313.47 573.32,313.72 573.70,315.69 574.09,315.96 574.47,315.27 574.85,320.74 575.23,325.58 575.61,331.03 575.99,336.99 576.37,343.13 576.75,343.47 577.13,342.23 577.51,341.50 577.89,342.69 578.28,342.58 578.66,342.61 579.04,342.38 579.42,343.16 579.80,343.74 580.18,341.95 580.56,342.54 580.94,339.14 581.32,337.84 581.71,338.51 582.09,336.82 582.47,337.83 582.85,335.17 583.23,334.77 583.61,335.39 583.99,333.87 584.37,336.43 584.75,334.27 585.13,334.59 585.51,332.40 585.90,331.08 586.28,328.15 586.66,326.73 587.04,325.43 587.42,324.32 587.80,318.88 588.18,320.22 588.56,319.43 588.94,323.20 589.33,321.83 589.71,324.40 590.09,323.92 590.47,324.39 590.85,323.90 591.23,324.01 591.61,324.80 591.99,322.27 592.37,321.40 592.75,318.31 593.13,317.71 593.52,316.89 593.90,320.95 594.28,320.29 594.66,325.01 595.04,327.02 595.42,328.77 595.80,330.46 596.18,330.67 596.56,333.04 596.94,333.31 597.33,333.40 597.71,333.75 598.09,336.22 598.47,339.97 598.85,340.96 599.23,341.87 599.61,338.47 599.99,339.14 600.37,337.50 600.75,336.68 601.14,334.69 601.52,334.98 601.90,336.14 602.28,337.95 602.66,335.69 603.04,334.55 603.42,333.92 603.80,332.03 604.18,330.98 604.57,331.89 604.95,329.68 605.33,329.66 605.71,327.27 606.09,327.27 606.47,326.54 606.85,326.13 607.23,326.17 607.61,326.81 607.99,325.55 608.38,326.85 608.76,329.08 609.14,332.95 609.52,330.49 609.90,330.43 610.28,330.64 610.66,332.16 611.04,332.48 611.42,333.03 611.80,333.83 612.18,338.67 612.57,338.06 612.95,340.16 613.33,340.33 613.71,338.12 614.09,337.81 614.47,334.74 614.85,336.68 615.23,337.80 615.61,338.42 616.00,335.64 616.38,333.48 616.76,330.52 617.14,330.48 617.52,327.79 617.90,324.88 618.28,323.58 618.66,322.84 619.04,318.59 619.42,320.33 619.81,320.57 620.19,319.60 620.57,318.78 620.95,318.10 621.33,316.80 621.71,316.14 622.09,315.53 622.47,318.04 622.85,317.74 623.23,317.90 623.62,317.89 624.00,318.26 624.38,319.88 624.76,318.90 625.14,318.22 625.52,317.45 625.90,318.04 626.28,317.39 626.66,317.31 627.04,314.49 627.42,313.19 627.81,312.79 628.19,313.33 628.57,314.38 628.95,318.14 629.33,318.40 629.71,319.43 630.09,324.97 630.47,332.13 630.85,340.59 630.85,340.62 630.47,333.35 630.09,327.55 629.71,322.67 629.33,322.21 628.95,322.20 628.57,318.74 628.19,315.98 627.81,314.62 627.42,313.85 627.04,315.14 626.66,319.89 626.28,318.80 625.90,320.05 625.52,319.91 625.14,321.28 624.76,321.60 624.38,324.66 624.00,323.77 623.62,323.33 623.23,322.63 622.85,321.87 622.47,321.31 622.09,318.09 621.71,316.29 621.33,317.88 620.95,319.71 620.57,319.74 620.19,320.06 619.81,323.29 619.42,322.05 619.04,318.62 618.66,324.21 618.28,324.43 617.90,325.38 617.52,329.75 617.14,332.28 616.76,333.41 616.38,336.90 616.00,338.40 615.61,339.12 615.23,338.36 614.85,337.17 614.47,335.89 614.09,338.79 613.71,338.98 613.33,341.08 612.95,341.11 612.57,338.63 612.18,339.16 611.80,334.19 611.42,333.84 611.04,334.49 610.66,333.73 610.28,332.96 609.90,332.73 609.52,333.14 609.14,334.71 608.76,330.26 608.38,327.74 607.99,326.13 607.61,327.60 607.23,328.46 606.85,328.33 606.47,328.56 606.09,329.27 605.71,328.26 605.33,331.78 604.95,332.27 604.57,334.89 604.18,334.05 603.80,334.28 603.42,335.10 603.04,335.59 602.66,337.66 602.28,340.34 601.90,339.75 601.52,339.51 601.14,340.18 600.75,340.94 600.37,340.34 599.99,340.92 599.61,338.81 599.23,342.73 598.85,342.53 598.47,341.64 598.09,338.46 597.71,333.96 597.33,334.88 596.94,335.13 596.56,335.30 596.18,332.95 595.80,331.25 595.42,328.79 595.04,327.33 594.66,325.44 594.28,321.55 593.90,322.51 593.52,318.26 593.13,319.14 592.75,320.48 592.37,322.22 591.99,322.80 591.61,326.02 591.23,325.96 590.85,325.48 590.47,327.40 590.09,327.31 589.71,327.78 589.33,323.58 588.94,324.53 588.56,319.65 588.18,321.41 587.80,320.52 587.42,326.33 587.04,326.31 586.66,327.86 586.28,329.05 585.90,331.48 585.51,332.76 585.13,334.74 584.75,335.44 584.37,336.69 583.99,334.56 583.61,336.94 583.23,336.03 582.85,336.61 582.47,339.40 582.09,337.57 581.71,339.33 581.32,338.51 580.94,339.85 580.56,344.28 580.18,343.66 579.80,345.71 579.42,345.39 579.04,344.06 578.66,343.32 578.28,342.88 577.89,343.20 577.51,341.56 577.13,343.21 576.75,343.60 576.37,344.14 575.99,337.68 575.61,332.07 575.23,326.02 574.85,323.58 574.47,315.91 574.09,316.45 573.70,318.41 573.32,316.41 572.94,315.38 572.56,317.52 572.18,319.47 571.80,317.62 571.42,316.76 571.04,315.85 570.66,316.96 570.27,318.76 569.89,319.86 569.51,319.13 569.13,319.05 568.75,320.31 568.37,321.76 567.99,323.99 567.61,325.48 567.23,325.93 566.85,324.78 566.47,324.88 566.08,324.07 565.70,324.80 565.32,323.43 564.94,323.00 564.56,322.15 564.18,324.42 563.80,322.88 563.42,321.48 563.04,322.01 562.65,322.45 562.27,325.74 561.89,328.97 561.51,328.49 561.13,330.44 560.75,331.72 560.37,326.21 559.99,323.09 559.61,318.22 559.23,314.21 558.85,308.95 558.46,309.21 558.08,312.47 557.70,315.78 557.32,317.81 556.94,320.29 556.56,319.50 556.18,314.69 555.80,312.24 555.42,309.62 555.03,305.78 554.65,307.03 554.27,309.77 553.89,312.65 553.51,316.96 553.13,318.31 552.75,322.97 552.37,324.37 551.99,331.89 551.61,337.18 551.23,334.78 550.84,335.14 550.46,333.52 550.08,331.19 549.70,332.39 549.32,330.52 548.94,330.34 548.56,330.80 548.18,331.56 547.80,332.82 547.41,332.53 547.03,331.94 546.65,328.33 546.27,329.79 545.89,330.30 545.51,330.27 545.13,334.06 544.75,333.07 544.37,332.13 543.99,331.47 543.61,328.91 543.22,329.14 542.84,329.24 542.46,331.67 542.08,328.15 541.70,328.42 541.32,330.07 540.94,328.23 540.56,330.38 540.18,331.52 539.79,330.52 539.41,328.49 539.03,325.13 538.65,323.04 538.27,320.33 537.89,318.10 537.51,322.46 537.13,322.60 536.75,324.38 536.37,322.04 535.99,322.79 535.60,324.89 535.22,322.49 534.84,322.24 534.46,321.80 534.08,318.47 533.70,318.84 533.32,317.03 532.94,315.45 532.56,316.45 532.17,313.52 531.79,312.78 531.41,310.44 531.03,311.31 530.65,311.78 530.27,311.27 529.89,312.85 529.51,313.20 529.13,309.47 528.75,310.18 528.37,309.20 527.98,312.10 527.60,313.81 527.22,313.82 526.84,313.81 526.46,318.31 526.08,320.68 525.70,322.17 525.32,324.94 524.94,326.76 524.55,326.24 524.17,325.10 523.79,322.79 523.41,320.67 523.03,319.40 522.65,318.34 522.27,319.77 521.89,315.76 521.51,315.25 521.13,312.29 520.75,311.13 520.36,310.20 519.98,309.42 519.60,306.94 519.22,305.24 518.84,304.06 518.46,299.78 518.08,299.22 517.70,296.73 517.32,294.31 516.93,295.45 516.55,292.67 516.17,289.91 515.79,285.94 515.41,283.59 515.03,283.69 514.65,284.23 514.27,289.16 513.89,294.45 513.51,298.04 513.12,302.34 512.74,302.73 512.36,307.33 511.98,309.38 511.60,315.05 511.22,315.82 510.84,312.11 510.46,306.89 510.08,305.21 509.70,306.76 509.31,305.20 508.93,304.06 508.55,299.00 508.17,296.03 507.79,295.89 507.41,293.65 507.03,294.29 506.65,297.36 506.27,298.24 505.89,300.03 505.50,300.50 505.12,303.15 504.74,303.77 504.36,302.85 503.98,303.23 503.60,305.75 503.22,302.88 502.84,303.66 502.46,300.68 502.08,299.97 501.69,298.01 501.31,296.05 500.93,293.93 500.55,293.97 500.17,291.97 499.79,288.09 499.41,286.21 499.03,285.69 498.65,288.09 498.27,291.08 497.88,292.60 497.50,293.31 497.12,292.55 496.74,291.23 496.36,292.17 495.98,294.44 495.60,295.44 495.22,294.11 494.84,295.65 494.46,296.75 494.07,296.50 493.69,296.20 493.31,295.48 492.93,297.40 492.55,301.79 492.17,305.10 491.79,306.70 491.41,298.66 491.03,290.00 490.65,282.95 490.26,279.87 489.88,276.08 489.50,273.55 489.12,270.48 488.74,269.41 488.36,267.47 487.98,268.00 487.60,268.17 487.22,266.17 486.84,260.83 486.45,261.72 486.07,262.49" fill="#2f9a3f" fill-opacity="0.45" stroke="none"/><polyline points="465.50,256.20 465.88,256.20 466.26,256.20 466.64,256.20 467.02,256.20 467.40,256.20 467.79,256.20 468.17,256.20 468.55,256.20 468.93,256.20 469.31,256.20 469.69,256.20 470.07,256.20 470.45,256.20 470.83,256.20 471.21,256.20 471.60,256.20 471.98,256.20 472.36,256.20 472.74,256.20 473.12,256.20 473.50,256.20 473.88,256.20 474.26,256.20 474.64,256.20 475.02,256.20 475.41,256.20 475.79,256.20 476.17,256.20 476.55,256.20 476.93,256.20 477.31,256.20 477.69,256.20 478.07,256.20 478.45,256.20 478.83,256.20 479.22,256.20 479.60,256.20 479.98,256.20 480.36,256.20 480.74,256.20 481.12,256.20 481.50,256.20 481.88,256.20 482.26,256.20 482.64,256.20 483.03,256.20 483.41,256.20 483.79,256.20 484.17,256.20 484.55,256.20 484.93,256.20 485.31,258.44 485.69,259.96 486.07,261.69 486.45,259.73 486.84,259.83 487.22,263.52 487.60,266.26 487.98,266.69 488.36,265.78 488.74,267.16 489.12,269.51 489.50,273.30 489.88,275.92 490.26,279.19 490.65,281.81 491.03,289.69 491.41,297.89 491.79,305.21 492.17,304.08 492.55,300.72 492.93,296.57 493.31,295.18 493.69,295.34 494.07,295.07 494.46,295.46 494.84,294.55 495.22,293.01 495.60,295.37 495.98,294.41 496.36,291.31 496.74,289.57 497.12,291.12 497.50,290.70 497.88,290.16 498.27,288.96 498.65,286.69 499.03,285.45 499.41,285.81 499.79,287.44 500.17,290.33 500.55,293.20 500.93,293.21 501.31,295.02 501.69,297.17 502.08,299.55 502.46,300.34 502.84,301.67 503.22,301.65 503.60,304.49 503.98,303.22 504.36,301.30 504.74,301.45 505.12,300.09 505.50,297.73 505.89,296.81 506.27,297.11 506.65,296.01 507.03,292.51 507.41,291.40 507.79,294.25 508.17,295.83 508.55,298.92 508.93,302.60 509.31,305.06 509.70,306.14 510.08,304.69 510.46,306.31 510.84,309.98 511.22,313.70 511.60,313.97 511.98,309.35 512.36,306.78 512.74,301.07 513.12,299.10 513.51,296.56 513.89,293.82 514.27,287.47 514.65,281.15 515.03,278.94 515.41,280.37 515.79,282.90 516.17,287.06 516.55,289.19 516.93,291.98 517.32,291.79 517.70,294.76 518.08,297.82 518.46,299.14 518.84,303.06 519.22,304.82 519.60,305.95 519.98,308.16 520.36,309.93 520.75,310.70 521.13,310.67 521.51,313.06 521.89,313.45 522.27,317.77 522.65,317.12 523.03,318.80 523.41,320.04 523.79,322.60 524.17,324.02 524.55,325.77 524.94,326.60 525.32,324.92 525.70,321.38 526.08,319.71 526.46,318.18 526.84,313.58 527.22,313.60 527.60,313.60 527.98,311.99 528.37,308.93 528.75,309.66 529.13,309.31 529.51,312.68 529.89,312.45 530.27,310.89 530.65,311.54 531.03,310.71 531.41,309.07 531.79,311.19 532.17,313.34 532.56,315.92 532.94,314.75 533.32,315.53 533.70,317.97 534.08,317.64 534.46,320.69 534.84,321.36 535.22,322.36 535.60,324.42 535.99,322.46 536.37,320.99 536.75,322.58 537.13,321.23 537.51,321.48 537.89,317.89 538.27,319.67 538.65,322.97 539.03,324.56 539.41,328.37 539.79,330.09 540.18,331.17 540.56,329.63 540.94,328.09 541.32,328.08 541.70,325.65 542.08,325.34 542.46,329.27 542.84,328.03 543.22,328.82 543.61,328.57 543.99,330.56 544.37,331.26 544.75,329.90 545.13,331.60 545.51,327.78 545.89,327.30 546.27,325.84 546.65,325.88 547.03,329.13 547.41,328.96 547.80,329.45 548.18,329.37 548.56,329.05 548.94,329.02 549.32,329.45 549.70,331.77 550.08,331.00 550.46,332.17 550.84,333.67 551.23,333.39 551.61,334.29 551.99,328.54 552.37,322.47 552.75,320.71 553.13,317.43 553.51,315.28 553.89,310.72 554.27,307.74 554.65,303.06 555.03,303.11 555.42,308.87 555.80,311.57 556.18,313.92 556.56,316.25 556.94,317.44 557.32,315.32 557.70,313.79 558.08,311.86 558.46,309.04 558.85,308.48 559.23,313.84 559.61,317.18 559.99,321.06 560.37,324.98 560.75,330.53 561.13,329.70 561.51,327.99 561.89,327.10 562.27,324.93 562.65,322.17 563.04,321.85 563.42,320.68 563.80,322.02 564.18,323.67 564.56,321.71 564.94,322.93 565.32,322.68 565.70,323.72 566.08,323.02 566.47,323.67 566.85,324.35 567.23,325.78 567.61,324.94 567.99,323.93 568.37,321.40 568.75,319.85 569.13,318.49 569.51,318.79 569.89,319.55 570.27,318.54 570.66,316.94 571.04,315.39 571.42,316.12 571.80,316.78 572.18,316.99 572.56,315.07 572.94,313.47 573.32,313.72 573.70,315.69 574.09,315.96 574.47,315.27 574.85,320.74 575.23,325.58 575.61,331.03 575.99,336.99 576.37,343.13 576.75,343.47 577.13,342.23 577.51,341.50 577.89,342.69 578.28,342.58 578.66,342.61 579.04,342.38 579.42,343.16 579.80,343.74 580.18,341.95 580.56,342.54 580.94,339.14 581.32,337.84 581.71,338.51 582.09,336.82 582.47,337.83 582.85,335.17 583.23,334.77 583.61,335.39 583.99,333.87 584.37,336.43 584.75,334.27 585.13,334.59 585.51,332.40 585.90,331.08 586.28,328.15 586.66,326.73 587.04,325.43 587.42,324.32 587.80,318.88 588.18,320.22 588.56,319.43 588.94,323.20 589.33,321.83 589.71,324.40 590.09,323.92 590.47,324.39 590.85,323.90 591.23,324.01 591.61,324.80 591.99,322.27 592.37,321.40 592.75,318.31 593.13,317.71 593.52,316.89 593.90,320.95 594.28,320.29 594.66,325.01 595.04,327.02 595.42,328.77 595.80,330.46 596.18,330.67 596.56,333.04 596.94,333.31 597.33,333.40 597.71,333.75 598.09,336.22 598.47,339.97 598.85,340.96 599.23,341.87 599.61,338.47 599.99,339.14 600.37,337.50 600.75,336.68 601.14,334.69 601.52,334.98 601.90,336.14 602.28,337.95 602.66,335.69 603.04,334.55 603.42,333.92 603.80,332.03 604.18,330.98 604.57,331.89 604.95,329.68 605.33,329.66 605.71,327.27 606.09,327.27 606.47,326.54 606.85,326.13 607.23,326.17 607.61,326.81 607.99,325.55 608.38,326.85 608.76,329.08 609.14,332.95 609.52,330.49 609.90,330.43 610.28,330.64 610.66,332.16 611.04,332.48 611.42,333.03 611.80,333.83 612.18,338.67 612.57,338.06 612.95,340.16 613.33,340.33 613.71,338.12 614.09,337.81 614.47,334.74 614.85,336.68 615.23,337.80 615.61,338.42 616.00,335.64 616.38,333.48 616.76,330.52 617.14,330.48 617.52,327.79 617.90,324.88 618.28,323.58 618.66,322.84 619.04,318.59 619.42,320.33 619.81,320.57 620.19,319.60 620.57,318.78 620.95,318.10 621.33,316.80 621.71,316.14 622.09,315.53 622.47,318.04 622.85,317.74 623.23,317.90 623.62,317.89 624.00,318.26 624.38,319.88 624.76,318.90 625.14,318.22 625.52,317.45 625.90,318.04 626.28,317.39 626.66,317.31 627.04,314.49 627.42,313.19 627.81,312.79 628.19,313.33 628.57,314.38 628.95,318.14 629.33,318.40 629.71,319.43 630.09,324.97 630.47,332.13 630.85,340.59" fill="none" stroke="#34523d" stroke-width="0.95" stroke-opacity="1.0" stroke-linejoin="round" /></g>
<rect x="457.3" y="251.6" width="183.40000000000003" height="97.79999999999998" fill="none" stroke="#858585" stroke-width="1"/>
<line x1="455.5" x2="457.3" y1="349.00" y2="349.00" stroke="#858585" stroke-width="0.7"/>
<text x="454.5" y="350.80" font-size="5.1" text-anchor="end" fill="#222" stroke="#222" stroke-width="0.12">4000</text>
<line x1="455.5" x2="457.3" y1="337.40" y2="337.40" stroke="#858585" stroke-width="0.7"/>
<text x="454.5" y="339.20" font-size="5.1" text-anchor="end" fill="#222" stroke="#222" stroke-width="0.12">4500</text>
<line x1="455.5" x2="457.3" y1="325.80" y2="325.80" stroke="#858585" stroke-width="0.7"/>
<text x="454.5" y="327.60" font-size="5.1" text-anchor="end" fill="#222" stroke="#222" stroke-width="0.12">5000</text>
<line x1="455.5" x2="457.3" y1="314.20" y2="314.20" stroke="#858585" stroke-width="0.7"/>
<text x="454.5" y="316.00" font-size="5.1" text-anchor="end" fill="#222" stroke="#222" stroke-width="0.12">5500</text>
<line x1="455.5" x2="457.3" y1="302.60" y2="302.60" stroke="#858585" stroke-width="0.7"/>
<text x="454.5" y="304.40" font-size="5.1" text-anchor="end" fill="#222" stroke="#222" stroke-width="0.12">6000</text>
<line x1="455.5" x2="457.3" y1="291.00" y2="291.00" stroke="#858585" stroke-width="0.7"/>
<text x="454.5" y="292.80" font-size="5.1" text-anchor="end" fill="#222" stroke="#222" stroke-width="0.12">6500</text>
<line x1="455.5" x2="457.3" y1="279.40" y2="279.40" stroke="#858585" stroke-width="0.7"/>
<text x="454.5" y="281.20" font-size="5.1" text-anchor="end" fill="#222" stroke="#222" stroke-width="0.12">7000</text>
<line x1="455.5" x2="457.3" y1="267.80" y2="267.80" stroke="#858585" stroke-width="0.7"/>
<text x="454.5" y="269.60" font-size="5.1" text-anchor="end" fill="#222" stroke="#222" stroke-width="0.12">7500</text>
<line x1="455.5" x2="457.3" y1="256.20" y2="256.20" stroke="#858585" stroke-width="0.7"/>
<text x="454.5" y="258.00" font-size="5.1" text-anchor="end" fill="#222" stroke="#222" stroke-width="0.12">8000</text>
<line x1="463.10" x2="463.10" y1="349.4" y2="351.2" stroke="#858585" stroke-width="0.7"/>
<text x="463.10" y="355.90" font-size="5.1" text-anchor="middle" fill="#222" stroke="#222" stroke-width="0.12">0</text>
<line x1="501.20" x2="501.20" y1="349.4" y2="351.2" stroke="#858585" stroke-width="0.7"/>
<text x="501.20" y="355.90" font-size="5.1" text-anchor="middle" fill="#222" stroke="#222" stroke-width="0.12">100</text>
<line x1="539.30" x2="539.30" y1="349.4" y2="351.2" stroke="#858585" stroke-width="0.7"/>
<text x="539.30" y="355.90" font-size="5.1" text-anchor="middle" fill="#222" stroke="#222" stroke-width="0.12">200</text>
<line x1="577.40" x2="577.40" y1="349.4" y2="351.2" stroke="#858585" stroke-width="0.7"/>
<text x="577.40" y="355.90" font-size="5.1" text-anchor="middle" fill="#222" stroke="#222" stroke-width="0.12">300</text>
<line x1="615.50" x2="615.50" y1="349.4" y2="351.2" stroke="#858585" stroke-width="0.7"/>
<text x="615.50" y="355.90" font-size="5.1" text-anchor="middle" fill="#222" stroke="#222" stroke-width="0.12">400</text>
<text x="549.00" y="249.80" font-size="7.25" font-weight="bold" text-anchor="middle" fill="#111">Max Response Length vs Steps</text>
<text x="549.00" y="363.20" font-size="6.3" text-anchor="middle" fill="#333">Training Steps</text>
<text transform="translate(440.40,300.50) rotate(-90)" font-size="6.3" text-anchor="middle" fill="#333">Max Response Length</text>
<rect x="589.8" y="255.8" width="48.6" height="21" rx="1.5" fill="#fff" fill-opacity="0.95" stroke="#d8d8d8" stroke-width="0.6"/>
<line x1="592.3" x2="606.3" y1="261.1" y2="261.1" stroke="#9a9a9a" stroke-width="1.3"/>
<line x1="592.3" x2="606.3" y1="271.1" y2="271.1" stroke="#5a665c" stroke-width="1.3"/>
<text x="611.8" y="263.5" font-size="6.85" fill="#4a4a4a">GRPO</text>
<text x="611.8" y="273.6" font-size="6.85" font-weight="bold" fill="#111">GDPO</text></svg>
<div class="cl j" style="top:168.60px;width:570.26px;">Figure 9 | Training behavior of GRPO and GDPO when optimizing DeepSeek-R1-7B across correctness</div>
<div class="cl j" style="top:184.50px;width:570.26px;">reward, length reward, and maximum batch response length on math reasoning data. We can see that GDPO</div>
<div class="cl j" style="top:200.40px;width:467.45px;">maintains improving correctness and better adherence to length constraints over GRPO.</div>
<div class="cl j" style="top:393.50px;width:570.26px;">Figure 10 | Training behavior of GRPO and GDPO when optimizing Qwen3-4B-Instruct across correctness</div>
<div class="cl j" style="top:409.40px;width:570.26px;">reward, length reward, and maximum batch response length on math reasoning data. We can see that GDPO</div>
<div class="cl j" style="top:425.30px;width:467.45px;">maintains improving correctness and better adherence to length constraints over GRPO.</div>
</body></html>
